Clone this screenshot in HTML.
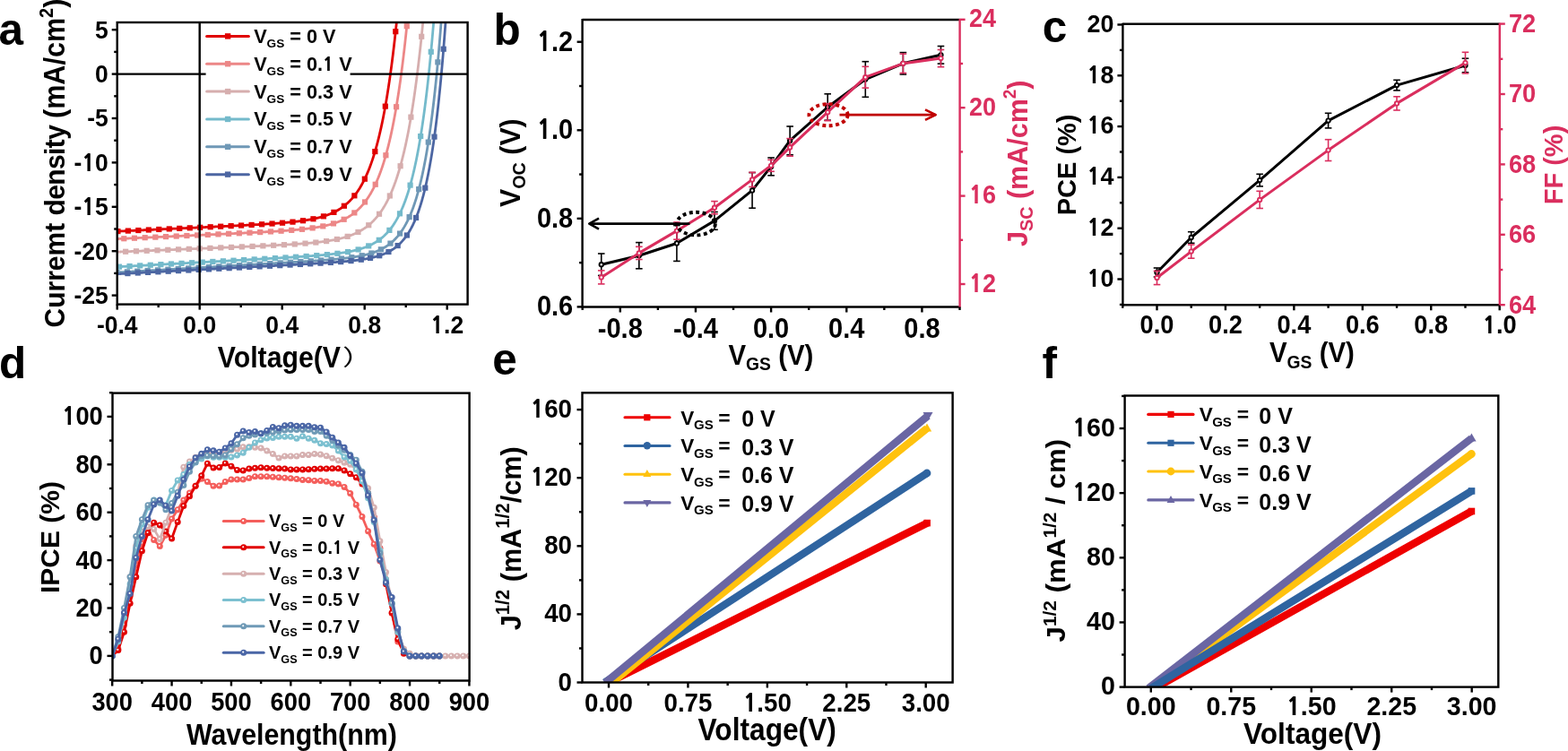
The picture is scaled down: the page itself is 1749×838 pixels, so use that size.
<!DOCTYPE html>
<html><head><meta charset="utf-8"><style>
html,body{margin:0;padding:0;background:#fff;}
svg{display:block;}
text{font-family:"Liberation Sans",Arial,sans-serif;font-weight:bold;white-space:pre;}
</style></head><body>
<svg width="1749" height="838" viewBox="0 0 1749 838">
<rect width="1749" height="838" fill="#fff"/>
<defs><clipPath id="ca"><rect x="130.7" y="25.0" width="390.9" height="314.6"/></clipPath></defs>
<rect x="229.6" y="28" width="161" height="182" fill="#fff"/>
<g clip-path="url(#ca)">
<polyline points="130.70,258.15 131.13,258.13 131.57,258.11 132.00,258.09 132.44,258.06 132.87,258.04 133.31,258.02 133.74,258.00 134.18,257.98 134.61,257.96 135.05,257.94 135.48,257.92 135.92,257.90 136.35,257.88 136.79,257.86 137.22,257.84 137.66,257.82 138.09,257.80 138.53,257.78 138.96,257.76 139.40,257.74 139.83,257.72 140.27,257.70 140.70,257.68 141.14,257.66 141.57,257.64 142.01,257.62 142.44,257.59 142.88,257.57 143.31,257.55 143.75,257.53 144.18,257.51 144.62,257.49 145.05,257.47 145.49,257.45 145.92,257.43 146.36,257.41 146.79,257.39 147.23,257.37 147.66,257.35 148.10,257.33 148.53,257.31 148.97,257.29 149.40,257.27 149.84,257.25 150.27,257.23 150.71,257.21 151.14,257.19 151.58,257.17 152.01,257.15 152.45,257.12 152.88,257.10 153.32,257.08 153.75,257.06 154.19,257.04 154.62,257.02 155.06,257.00 155.49,256.98 155.93,256.96 156.36,256.94 156.80,256.92 157.23,256.90 157.67,256.88 158.10,256.86 158.54,256.84 158.97,256.82 159.41,256.80 159.84,256.78 160.28,256.76 160.71,256.74 161.14,256.72 161.58,256.70 162.01,256.67 162.45,256.65 162.88,256.63 163.32,256.61 163.75,256.59 164.19,256.57 164.62,256.55 165.06,256.53 165.49,256.51 165.93,256.49 166.36,256.47 166.80,256.45 167.23,256.43 167.67,256.41 168.10,256.39 168.54,256.37 168.97,256.35 169.41,256.33 169.84,256.31 170.28,256.29 170.71,256.27 171.15,256.25 171.58,256.22 172.02,256.20 172.45,256.18 172.89,256.16 173.32,256.14 173.76,256.12 174.19,256.10 174.63,256.08 175.06,256.06 175.50,256.04 175.93,256.02 176.37,256.00 176.80,255.98 177.24,255.96 177.67,255.94 178.11,255.92 178.54,255.90 178.98,255.88 179.41,255.86 179.85,255.84 180.28,255.82 180.72,255.80 181.15,255.77 181.59,255.75 182.02,255.73 182.46,255.71 182.89,255.69 183.33,255.67 183.76,255.65 184.20,255.63 184.63,255.61 185.07,255.59 185.50,255.57 185.94,255.55 186.37,255.53 186.81,255.51 187.24,255.49 187.68,255.47 188.11,255.45 188.55,255.43 188.98,255.41 189.42,255.39 189.85,255.37 190.29,255.34 190.72,255.32 191.15,255.30 191.59,255.28 192.02,255.26 192.46,255.24 192.89,255.22 193.33,255.20 193.76,255.18 194.20,255.16 194.63,255.14 195.07,255.12 195.50,255.10 195.94,255.08 196.37,255.06 196.81,255.04 197.24,255.02 197.68,255.00 198.11,254.98 198.55,254.96 198.98,254.93 199.42,254.91 199.85,254.89 200.29,254.87 200.72,254.85 201.16,254.83 201.59,254.81 202.03,254.79 202.46,254.77 202.90,254.75 203.33,254.73 203.77,254.71 204.20,254.69 204.64,254.67 205.07,254.65 205.51,254.63 205.94,254.61 206.38,254.59 206.81,254.56 207.25,254.54 207.68,254.52 208.12,254.50 208.55,254.48 208.99,254.46 209.42,254.44 209.86,254.42 210.29,254.40 210.73,254.38 211.16,254.36 211.60,254.34 212.03,254.32 212.47,254.30 212.90,254.28 213.34,254.26 213.77,254.24 214.21,254.22 214.64,254.19 215.08,254.17 215.51,254.15 215.95,254.13 216.38,254.11 216.82,254.09 217.25,254.07 217.69,254.05 218.12,254.03 218.56,254.01 218.99,253.99 219.43,253.97 219.86,253.95 220.30,253.93 220.73,253.91 221.16,253.88 221.60,253.86 222.03,253.84 222.47,253.82 222.90,253.80 223.34,253.78 223.77,253.76 224.21,253.74 224.64,253.72 225.08,253.70 225.51,253.68 225.95,253.66 226.38,253.64 226.82,253.62 227.25,253.59 227.69,253.57 228.12,253.55 228.56,253.53 228.99,253.51 229.43,253.49 229.86,253.47 230.30,253.45 230.73,253.43 231.17,253.41 231.60,253.39 232.04,253.37 232.47,253.35 232.91,253.32 233.34,253.30 233.78,253.28 234.21,253.26 234.65,253.24 235.08,253.22 235.52,253.20 235.95,253.18 236.39,253.16 236.82,253.14 237.26,253.12 237.69,253.10 238.13,253.07 238.56,253.05 239.00,253.03 239.43,253.01 239.87,252.99 240.30,252.97 240.74,252.95 241.17,252.93 241.61,252.91 242.04,252.89 242.48,252.86 242.91,252.84 243.35,252.82 243.78,252.80 244.22,252.78 244.65,252.76 245.09,252.74 245.52,252.72 245.96,252.70 246.39,252.67 246.83,252.65 247.26,252.63 247.70,252.61 248.13,252.59 248.57,252.57 249.00,252.55 249.44,252.53 249.87,252.50 250.31,252.48 250.74,252.46 251.17,252.44 251.61,252.42 252.04,252.40 252.48,252.38 252.91,252.36 253.35,252.33 253.78,252.31 254.22,252.29 254.65,252.27 255.09,252.25 255.52,252.23 255.96,252.21 256.39,252.18 256.83,252.16 257.26,252.14 257.70,252.12 258.13,252.10 258.57,252.08 259.00,252.05 259.44,252.03 259.87,252.01 260.31,251.99 260.74,251.97 261.18,251.94 261.61,251.92 262.05,251.90 262.48,251.88 262.92,251.86 263.35,251.84 263.79,251.81 264.22,251.79 264.66,251.77 265.09,251.75 265.53,251.73 265.96,251.70 266.40,251.68 266.83,251.66 267.27,251.64 267.70,251.61 268.14,251.59 268.57,251.57 269.01,251.55 269.44,251.52 269.88,251.50 270.31,251.48 270.75,251.46 271.18,251.43 271.62,251.41 272.05,251.39 272.49,251.37 272.92,251.34 273.36,251.32 273.79,251.30 274.23,251.28 274.66,251.25 275.10,251.23 275.53,251.21 275.97,251.18 276.40,251.16 276.84,251.14 277.27,251.11 277.71,251.09 278.14,251.07 278.58,251.04 279.01,251.02 279.45,251.00 279.88,250.97 280.32,250.95 280.75,250.93 281.18,250.90 281.62,250.88 282.05,250.85 282.49,250.83 282.92,250.81 283.36,250.78 283.79,250.76 284.23,250.73 284.66,250.71 285.10,250.68 285.53,250.66 285.97,250.64 286.40,250.61 286.84,250.59 287.27,250.56 287.71,250.54 288.14,250.51 288.58,250.49 289.01,250.46 289.45,250.44 289.88,250.41 290.32,250.39 290.75,250.36 291.19,250.33 291.62,250.31 292.06,250.28 292.49,250.26 292.93,250.23 293.36,250.20 293.80,250.18 294.23,250.15 294.67,250.12 295.10,250.10 295.54,250.07 295.97,250.04 296.41,250.02 296.84,249.99 297.28,249.96 297.71,249.94 298.15,249.91 298.58,249.88 299.02,249.85 299.45,249.82 299.89,249.80 300.32,249.77 300.76,249.74 301.19,249.71 301.63,249.68 302.06,249.65 302.50,249.62 302.93,249.60 303.37,249.57 303.80,249.54 304.24,249.51 304.67,249.48 305.11,249.45 305.54,249.42 305.98,249.39 306.41,249.36 306.85,249.32 307.28,249.29 307.72,249.26 308.15,249.23 308.59,249.20 309.02,249.17 309.46,249.14 309.89,249.10 310.33,249.07 310.76,249.04 311.19,249.00 311.63,248.97 312.06,248.94 312.50,248.90 312.93,248.87 313.37,248.84 313.80,248.80 314.24,248.77 314.67,248.73 315.11,248.70 315.54,248.66 315.98,248.62 316.41,248.59 316.85,248.55 317.28,248.51 317.72,248.48 318.15,248.44 318.59,248.40 319.02,248.36 319.46,248.32 319.89,248.28 320.33,248.25 320.76,248.21 321.20,248.17 321.63,248.13 322.07,248.08 322.50,248.04 322.94,248.00 323.37,247.96 323.81,247.92 324.24,247.87 324.68,247.83 325.11,247.79 325.55,247.74 325.98,247.70 326.42,247.65 326.85,247.61 327.29,247.56 327.72,247.51 328.16,247.47 328.59,247.42 329.03,247.37 329.46,247.32 329.90,247.27 330.33,247.22 330.77,247.17 331.20,247.12 331.64,247.07 332.07,247.02 332.51,246.96 332.94,246.91 333.38,246.86 333.81,246.80 334.25,246.75 334.68,246.69 335.12,246.63 335.55,246.58 335.99,246.52 336.42,246.46 336.86,246.40 337.29,246.34 337.73,246.28 338.16,246.22 338.60,246.15 339.03,246.09 339.47,246.02 339.90,245.96 340.34,245.89 340.77,245.83 341.21,245.76 341.64,245.69 342.07,245.62 342.51,245.55 342.94,245.48 343.38,245.40 343.81,245.33 344.25,245.25 344.68,245.18 345.12,245.10 345.55,245.02 345.99,244.94 346.42,244.86 346.86,244.78 347.29,244.70 347.73,244.62 348.16,244.53 348.60,244.44 349.03,244.36 349.47,244.27 349.90,244.18 350.34,244.09 350.77,243.99 351.21,243.90 351.64,243.80 352.08,243.70 352.51,243.61 352.95,243.50 353.38,243.40 353.82,243.30 354.25,243.19 354.69,243.09 355.12,242.98 355.56,242.87 355.99,242.76 356.43,242.64 356.86,242.53 357.30,242.41 357.73,242.29 358.17,242.17 358.60,242.05 359.04,241.92 359.47,241.79 359.91,241.66 360.34,241.53 360.78,241.40 361.21,241.26 361.65,241.13 362.08,240.99 362.52,240.84 362.95,240.70 363.39,240.55 363.82,240.40 364.26,240.25 364.69,240.09 365.13,239.94 365.56,239.78 366.00,239.61 366.43,239.45 366.87,239.28 367.30,239.11 367.74,238.93 368.17,238.76 368.61,238.58 369.04,238.39 369.48,238.21 369.91,238.02 370.35,237.82 370.78,237.63 371.22,237.43 371.65,237.22 372.08,237.02 372.52,236.81 372.95,236.59 373.39,236.38 373.82,236.15 374.26,235.93 374.69,235.70 375.13,235.46 375.56,235.23 376.00,234.98 376.43,234.74 376.87,234.49 377.30,234.23 377.74,233.97 378.17,233.71 378.61,233.44 379.04,233.17 379.48,232.89 379.91,232.60 380.35,232.31 380.78,232.02 381.22,231.72 381.65,231.41 382.09,231.10 382.52,230.79 382.96,230.47 383.39,230.14 383.83,229.80 384.26,229.46 384.70,229.12 385.13,228.77 385.57,228.41 386.00,228.04 386.44,227.67 386.87,227.29 387.31,226.91 387.74,226.51 388.18,226.11 388.61,225.71 389.05,225.29 389.48,224.87 389.92,224.44 390.35,224.00 390.79,223.55 391.22,223.10 391.66,222.64 392.09,222.16 392.53,221.68 392.96,221.19 393.40,220.69 393.83,220.19 394.27,219.67 394.70,219.14 395.14,218.61 395.57,218.06 396.01,217.50 396.44,216.93 396.88,216.36 397.31,215.77 397.75,215.17 398.18,214.56 398.62,213.93 399.05,213.30 399.49,212.65 399.92,212.00 400.36,211.32 400.79,210.64 401.23,209.95 401.66,209.24 402.09,208.51 402.53,207.78 402.96,207.03 403.40,206.26 403.83,205.48 404.27,204.69 404.70,203.88 405.14,203.06 405.57,202.22 406.01,201.36 406.44,200.49 406.88,199.60 407.31,198.70 407.75,197.78 408.18,196.84 408.62,195.88 409.05,194.90 409.49,193.91 409.92,192.90 410.36,191.86 410.79,190.81 411.23,189.74 411.66,188.65 412.10,187.53 412.53,186.40 412.97,185.24 413.40,184.07 413.84,182.86 414.27,181.64 414.71,180.39 415.14,179.12 415.58,177.83 416.01,176.51 416.45,175.16 416.88,173.79 417.32,172.40 417.75,170.97 418.19,169.52 418.62,168.04 419.06,166.54 419.49,165.00 419.93,163.44 420.36,161.84 420.80,160.22 421.23,158.56 421.67,156.87 422.10,155.15 422.54,153.40 422.97,151.61 423.41,149.79 423.84,147.93 424.28,146.04 424.71,144.11 425.15,142.14 425.58,140.14 426.02,138.10 426.45,136.02 426.89,133.90 427.32,131.73 427.76,129.53 428.19,127.28 428.63,124.99 429.06,122.66 429.50,120.28 429.93,117.86 430.37,115.39 430.80,112.87 431.24,110.30 431.67,107.69 432.10,105.02 432.54,102.30 432.97,99.53 433.41,96.71 433.84,93.83 434.28,90.90 434.71,87.91 435.15,84.86 435.58,81.76 436.02,78.59 436.45,75.36 436.89,72.07 437.32,68.72 437.76,65.30 438.19,61.82 438.63,58.27 439.06,54.65 439.50,50.96 439.93,47.20 440.37,43.37 440.80,39.46 441.24,35.48 441.67,31.42 442.11,27.28 442.54,23.07 442.98,18.77 443.41,14.38 443.85,9.92 444.28,5.36 444.72,0.72 445.15,-4.01" fill="none" stroke="#E00000" stroke-width="2.8" stroke-linejoin="round" />
<rect x="128.29" y="255.01" width="6.2" height="6.2" fill="#E00000"/>
<rect x="139.77" y="254.47" width="6.2" height="6.2" fill="#E00000"/>
<rect x="151.24" y="253.94" width="6.2" height="6.2" fill="#E00000"/>
<rect x="162.72" y="253.40" width="6.2" height="6.2" fill="#E00000"/>
<rect x="174.20" y="252.86" width="6.2" height="6.2" fill="#E00000"/>
<rect x="185.67" y="252.32" width="6.2" height="6.2" fill="#E00000"/>
<rect x="197.15" y="251.77" width="6.2" height="6.2" fill="#E00000"/>
<rect x="208.63" y="251.23" width="6.2" height="6.2" fill="#E00000"/>
<rect x="220.11" y="250.69" width="6.2" height="6.2" fill="#E00000"/>
<rect x="231.58" y="250.14" width="6.2" height="6.2" fill="#E00000"/>
<rect x="243.06" y="249.59" width="6.2" height="6.2" fill="#E00000"/>
<rect x="254.54" y="249.02" width="6.2" height="6.2" fill="#E00000"/>
<rect x="266.01" y="248.44" width="6.2" height="6.2" fill="#E00000"/>
<rect x="277.49" y="247.83" width="6.2" height="6.2" fill="#E00000"/>
<rect x="288.97" y="247.18" width="6.2" height="6.2" fill="#E00000"/>
<rect x="300.44" y="246.45" width="6.2" height="6.2" fill="#E00000"/>
<rect x="311.92" y="245.60" width="6.2" height="6.2" fill="#E00000"/>
<rect x="323.40" y="244.54" width="6.2" height="6.2" fill="#E00000"/>
<rect x="334.88" y="243.14" width="6.2" height="6.2" fill="#E00000"/>
<rect x="346.35" y="241.17" width="6.2" height="6.2" fill="#E00000"/>
<rect x="357.83" y="238.25" width="6.2" height="6.2" fill="#E00000"/>
<rect x="369.31" y="233.76" width="6.2" height="6.2" fill="#E00000"/>
<rect x="380.78" y="226.66" width="6.2" height="6.2" fill="#E00000"/>
<rect x="392.26" y="215.22" width="6.2" height="6.2" fill="#E00000"/>
<rect x="403.74" y="196.59" width="6.2" height="6.2" fill="#E00000"/>
<rect x="415.22" y="165.99" width="6.2" height="6.2" fill="#E00000"/>
<rect x="426.69" y="115.54" width="6.2" height="6.2" fill="#E00000"/>
<rect x="438.17" y="32.10" width="6.2" height="6.2" fill="#E00000"/>
<polyline points="130.70,266.58 131.13,266.56 131.57,266.54 132.00,266.52 132.44,266.50 132.87,266.48 133.31,266.46 133.74,266.44 134.18,266.42 134.61,266.40 135.05,266.38 135.48,266.36 135.92,266.34 136.35,266.32 136.79,266.30 137.22,266.28 137.66,266.26 138.09,266.24 138.53,266.22 138.96,266.20 139.40,266.18 139.83,266.16 140.27,266.14 140.70,266.12 141.14,266.10 141.57,266.08 142.01,266.06 142.44,266.04 142.88,266.02 143.31,266.00 143.75,265.98 144.18,265.96 144.62,265.94 145.05,265.92 145.49,265.90 145.92,265.88 146.36,265.86 146.79,265.84 147.23,265.82 147.66,265.80 148.10,265.78 148.53,265.76 148.97,265.74 149.40,265.72 149.84,265.70 150.27,265.68 150.71,265.66 151.14,265.64 151.58,265.62 152.01,265.60 152.45,265.58 152.88,265.56 153.32,265.54 153.75,265.52 154.19,265.50 154.62,265.48 155.06,265.46 155.49,265.44 155.93,265.42 156.36,265.40 156.80,265.38 157.23,265.36 157.67,265.34 158.10,265.32 158.54,265.30 158.97,265.28 159.41,265.26 159.84,265.24 160.28,265.22 160.71,265.20 161.14,265.18 161.58,265.16 162.01,265.14 162.45,265.12 162.88,265.10 163.32,265.08 163.75,265.06 164.19,265.04 164.62,265.02 165.06,265.00 165.49,264.98 165.93,264.96 166.36,264.94 166.80,264.92 167.23,264.90 167.67,264.88 168.10,264.86 168.54,264.84 168.97,264.82 169.41,264.80 169.84,264.78 170.28,264.76 170.71,264.74 171.15,264.72 171.58,264.70 172.02,264.68 172.45,264.66 172.89,264.64 173.32,264.62 173.76,264.60 174.19,264.58 174.63,264.56 175.06,264.54 175.50,264.52 175.93,264.50 176.37,264.48 176.80,264.46 177.24,264.44 177.67,264.42 178.11,264.40 178.54,264.38 178.98,264.36 179.41,264.34 179.85,264.32 180.28,264.30 180.72,264.28 181.15,264.26 181.59,264.24 182.02,264.22 182.46,264.20 182.89,264.18 183.33,264.16 183.76,264.14 184.20,264.12 184.63,264.10 185.07,264.08 185.50,264.06 185.94,264.04 186.37,264.02 186.81,264.00 187.24,263.98 187.68,263.96 188.11,263.94 188.55,263.92 188.98,263.90 189.42,263.88 189.85,263.86 190.29,263.84 190.72,263.82 191.15,263.80 191.59,263.78 192.02,263.76 192.46,263.74 192.89,263.72 193.33,263.70 193.76,263.68 194.20,263.66 194.63,263.64 195.07,263.62 195.50,263.60 195.94,263.58 196.37,263.56 196.81,263.54 197.24,263.52 197.68,263.50 198.11,263.48 198.55,263.46 198.98,263.44 199.42,263.42 199.85,263.40 200.29,263.38 200.72,263.36 201.16,263.34 201.59,263.32 202.03,263.30 202.46,263.28 202.90,263.26 203.33,263.24 203.77,263.22 204.20,263.20 204.64,263.18 205.07,263.16 205.51,263.14 205.94,263.12 206.38,263.10 206.81,263.08 207.25,263.06 207.68,263.04 208.12,263.02 208.55,263.00 208.99,262.98 209.42,262.96 209.86,262.94 210.29,262.92 210.73,262.90 211.16,262.88 211.60,262.86 212.03,262.84 212.47,262.82 212.90,262.80 213.34,262.78 213.77,262.76 214.21,262.74 214.64,262.72 215.08,262.70 215.51,262.68 215.95,262.66 216.38,262.64 216.82,262.62 217.25,262.60 217.69,262.58 218.12,262.56 218.56,262.54 218.99,262.52 219.43,262.50 219.86,262.48 220.30,262.46 220.73,262.44 221.16,262.42 221.60,262.40 222.03,262.38 222.47,262.36 222.90,262.34 223.34,262.32 223.77,262.30 224.21,262.28 224.64,262.26 225.08,262.24 225.51,262.22 225.95,262.20 226.38,262.18 226.82,262.16 227.25,262.14 227.69,262.12 228.12,262.10 228.56,262.08 228.99,262.06 229.43,262.04 229.86,262.02 230.30,262.00 230.73,261.98 231.17,261.96 231.60,261.94 232.04,261.91 232.47,261.89 232.91,261.87 233.34,261.85 233.78,261.83 234.21,261.81 234.65,261.79 235.08,261.77 235.52,261.75 235.95,261.73 236.39,261.71 236.82,261.69 237.26,261.67 237.69,261.65 238.13,261.63 238.56,261.61 239.00,261.59 239.43,261.57 239.87,261.55 240.30,261.53 240.74,261.51 241.17,261.49 241.61,261.47 242.04,261.45 242.48,261.43 242.91,261.41 243.35,261.39 243.78,261.37 244.22,261.35 244.65,261.33 245.09,261.31 245.52,261.29 245.96,261.26 246.39,261.24 246.83,261.22 247.26,261.20 247.70,261.18 248.13,261.16 248.57,261.14 249.00,261.12 249.44,261.10 249.87,261.08 250.31,261.06 250.74,261.04 251.17,261.02 251.61,261.00 252.04,260.98 252.48,260.96 252.91,260.94 253.35,260.92 253.78,260.90 254.22,260.88 254.65,260.85 255.09,260.83 255.52,260.81 255.96,260.79 256.39,260.77 256.83,260.75 257.26,260.73 257.70,260.71 258.13,260.69 258.57,260.67 259.00,260.65 259.44,260.63 259.87,260.61 260.31,260.58 260.74,260.56 261.18,260.54 261.61,260.52 262.05,260.50 262.48,260.48 262.92,260.46 263.35,260.44 263.79,260.42 264.22,260.40 264.66,260.38 265.09,260.35 265.53,260.33 265.96,260.31 266.40,260.29 266.83,260.27 267.27,260.25 267.70,260.23 268.14,260.21 268.57,260.19 269.01,260.16 269.44,260.14 269.88,260.12 270.31,260.10 270.75,260.08 271.18,260.06 271.62,260.04 272.05,260.02 272.49,259.99 272.92,259.97 273.36,259.95 273.79,259.93 274.23,259.91 274.66,259.89 275.10,259.86 275.53,259.84 275.97,259.82 276.40,259.80 276.84,259.78 277.27,259.76 277.71,259.73 278.14,259.71 278.58,259.69 279.01,259.67 279.45,259.65 279.88,259.63 280.32,259.60 280.75,259.58 281.18,259.56 281.62,259.54 282.05,259.51 282.49,259.49 282.92,259.47 283.36,259.45 283.79,259.43 284.23,259.40 284.66,259.38 285.10,259.36 285.53,259.34 285.97,259.31 286.40,259.29 286.84,259.27 287.27,259.25 287.71,259.22 288.14,259.20 288.58,259.18 289.01,259.15 289.45,259.13 289.88,259.11 290.32,259.08 290.75,259.06 291.19,259.04 291.62,259.01 292.06,258.99 292.49,258.97 292.93,258.94 293.36,258.92 293.80,258.90 294.23,258.87 294.67,258.85 295.10,258.83 295.54,258.80 295.97,258.78 296.41,258.75 296.84,258.73 297.28,258.70 297.71,258.68 298.15,258.66 298.58,258.63 299.02,258.61 299.45,258.58 299.89,258.56 300.32,258.53 300.76,258.51 301.19,258.48 301.63,258.46 302.06,258.43 302.50,258.41 302.93,258.38 303.37,258.36 303.80,258.33 304.24,258.30 304.67,258.28 305.11,258.25 305.54,258.23 305.98,258.20 306.41,258.17 306.85,258.15 307.28,258.12 307.72,258.09 308.15,258.07 308.59,258.04 309.02,258.01 309.46,257.98 309.89,257.96 310.33,257.93 310.76,257.90 311.19,257.87 311.63,257.85 312.06,257.82 312.50,257.79 312.93,257.76 313.37,257.73 313.80,257.70 314.24,257.67 314.67,257.64 315.11,257.61 315.54,257.59 315.98,257.56 316.41,257.53 316.85,257.50 317.28,257.46 317.72,257.43 318.15,257.40 318.59,257.37 319.02,257.34 319.46,257.31 319.89,257.28 320.33,257.25 320.76,257.21 321.20,257.18 321.63,257.15 322.07,257.12 322.50,257.08 322.94,257.05 323.37,257.02 323.81,256.98 324.24,256.95 324.68,256.91 325.11,256.88 325.55,256.84 325.98,256.81 326.42,256.77 326.85,256.74 327.29,256.70 327.72,256.67 328.16,256.63 328.59,256.59 329.03,256.55 329.46,256.52 329.90,256.48 330.33,256.44 330.77,256.40 331.20,256.36 331.64,256.32 332.07,256.28 332.51,256.24 332.94,256.20 333.38,256.16 333.81,256.12 334.25,256.08 334.68,256.04 335.12,255.99 335.55,255.95 335.99,255.91 336.42,255.86 336.86,255.82 337.29,255.77 337.73,255.73 338.16,255.68 338.60,255.63 339.03,255.59 339.47,255.54 339.90,255.49 340.34,255.44 340.77,255.39 341.21,255.34 341.64,255.29 342.07,255.24 342.51,255.19 342.94,255.14 343.38,255.09 343.81,255.03 344.25,254.98 344.68,254.92 345.12,254.87 345.55,254.81 345.99,254.76 346.42,254.70 346.86,254.64 347.29,254.58 347.73,254.52 348.16,254.46 348.60,254.40 349.03,254.34 349.47,254.27 349.90,254.21 350.34,254.15 350.77,254.08 351.21,254.01 351.64,253.95 352.08,253.88 352.51,253.81 352.95,253.74 353.38,253.67 353.82,253.60 354.25,253.53 354.69,253.45 355.12,253.38 355.56,253.30 355.99,253.22 356.43,253.15 356.86,253.07 357.30,252.99 357.73,252.90 358.17,252.82 358.60,252.74 359.04,252.65 359.47,252.57 359.91,252.48 360.34,252.39 360.78,252.30 361.21,252.21 361.65,252.11 362.08,252.02 362.52,251.92 362.95,251.82 363.39,251.73 363.82,251.62 364.26,251.52 364.69,251.42 365.13,251.31 365.56,251.21 366.00,251.10 366.43,250.99 366.87,250.88 367.30,250.76 367.74,250.65 368.17,250.53 368.61,250.41 369.04,250.29 369.48,250.16 369.91,250.04 370.35,249.91 370.78,249.78 371.22,249.65 371.65,249.52 372.08,249.38 372.52,249.24 372.95,249.10 373.39,248.96 373.82,248.81 374.26,248.67 374.69,248.52 375.13,248.36 375.56,248.21 376.00,248.05 376.43,247.89 376.87,247.73 377.30,247.56 377.74,247.39 378.17,247.22 378.61,247.05 379.04,246.87 379.48,246.69 379.91,246.51 380.35,246.32 380.78,246.13 381.22,245.94 381.65,245.74 382.09,245.54 382.52,245.34 382.96,245.13 383.39,244.92 383.83,244.70 384.26,244.49 384.70,244.26 385.13,244.04 385.57,243.81 386.00,243.57 386.44,243.34 386.87,243.09 387.31,242.85 387.74,242.60 388.18,242.34 388.61,242.08 389.05,241.82 389.48,241.55 389.92,241.27 390.35,240.99 390.79,240.71 391.22,240.42 391.66,240.13 392.09,239.83 392.53,239.52 392.96,239.21 393.40,238.89 393.83,238.57 394.27,238.25 394.70,237.91 395.14,237.57 395.57,237.23 396.01,236.87 396.44,236.52 396.88,236.15 397.31,235.78 397.75,235.40 398.18,235.01 398.62,234.62 399.05,234.22 399.49,233.81 399.92,233.40 400.36,232.98 400.79,232.55 401.23,232.11 401.66,231.66 402.09,231.21 402.53,230.75 402.96,230.28 403.40,229.80 403.83,229.31 404.27,228.81 404.70,228.30 405.14,227.79 405.57,227.26 406.01,226.72 406.44,226.18 406.88,225.62 407.31,225.05 407.75,224.48 408.18,223.89 408.62,223.29 409.05,222.68 409.49,222.06 409.92,221.43 410.36,220.78 410.79,220.13 411.23,219.46 411.66,218.78 412.10,218.08 412.53,217.37 412.97,216.65 413.40,215.92 413.84,215.17 414.27,214.41 414.71,213.63 415.14,212.84 415.58,212.03 416.01,211.21 416.45,210.38 416.88,209.52 417.32,208.66 417.75,207.77 418.19,206.87 418.62,205.95 419.06,205.01 419.49,204.06 419.93,203.09 420.36,202.10 420.80,201.09 421.23,200.06 421.67,199.01 422.10,197.95 422.54,196.86 422.97,195.75 423.41,194.62 423.84,193.47 424.28,192.30 424.71,191.10 425.15,189.88 425.58,188.64 426.02,187.38 426.45,186.09 426.89,184.78 427.32,183.44 427.76,182.08 428.19,180.69 428.63,179.27 429.06,177.83 429.50,176.36 429.93,174.86 430.37,173.33 430.80,171.78 431.24,170.19 431.67,168.58 432.10,166.93 432.54,165.25 432.97,163.54 433.41,161.80 433.84,160.02 434.28,158.21 434.71,156.37 435.15,154.49 435.58,152.57 436.02,150.62 436.45,148.63 436.89,146.60 437.32,144.54 437.76,142.43 438.19,140.28 438.63,138.09 439.06,135.87 439.50,133.59 439.93,131.28 440.37,128.92 440.80,126.51 441.24,124.06 441.67,121.56 442.11,119.02 442.54,116.42 442.98,113.78 443.41,111.08 443.85,108.33 444.28,105.53 444.72,102.68 445.15,99.77 445.59,96.81 446.02,93.78 446.46,90.71 446.89,87.57 447.33,84.37 447.76,81.11 448.20,77.79 448.63,74.40 449.07,70.95 449.50,67.43 449.94,63.85 450.37,60.19 450.81,56.47 451.24,52.67 451.68,48.80 452.11,44.86 452.55,40.84 452.98,36.74 453.42,32.57 453.85,28.31 454.29,23.97 454.72,19.55 455.16,15.05 455.59,10.45 456.03,5.77 456.46,1.00 456.90,-3.86" fill="none" stroke="#EC8787" stroke-width="2.8" stroke-linejoin="round" />
<rect x="135.19" y="263.13" width="6.2" height="6.2" fill="#EC8787"/>
<rect x="146.87" y="262.60" width="6.2" height="6.2" fill="#EC8787"/>
<rect x="158.56" y="262.06" width="6.2" height="6.2" fill="#EC8787"/>
<rect x="170.24" y="261.52" width="6.2" height="6.2" fill="#EC8787"/>
<rect x="181.93" y="260.98" width="6.2" height="6.2" fill="#EC8787"/>
<rect x="193.61" y="260.45" width="6.2" height="6.2" fill="#EC8787"/>
<rect x="205.29" y="259.91" width="6.2" height="6.2" fill="#EC8787"/>
<rect x="216.98" y="259.37" width="6.2" height="6.2" fill="#EC8787"/>
<rect x="228.66" y="258.83" width="6.2" height="6.2" fill="#EC8787"/>
<rect x="240.35" y="258.28" width="6.2" height="6.2" fill="#EC8787"/>
<rect x="252.03" y="257.73" width="6.2" height="6.2" fill="#EC8787"/>
<rect x="263.71" y="257.17" width="6.2" height="6.2" fill="#EC8787"/>
<rect x="275.40" y="256.59" width="6.2" height="6.2" fill="#EC8787"/>
<rect x="287.08" y="255.99" width="6.2" height="6.2" fill="#EC8787"/>
<rect x="298.77" y="255.34" width="6.2" height="6.2" fill="#EC8787"/>
<rect x="310.45" y="254.62" width="6.2" height="6.2" fill="#EC8787"/>
<rect x="322.13" y="253.77" width="6.2" height="6.2" fill="#EC8787"/>
<rect x="333.82" y="252.71" width="6.2" height="6.2" fill="#EC8787"/>
<rect x="345.50" y="251.30" width="6.2" height="6.2" fill="#EC8787"/>
<rect x="357.19" y="249.30" width="6.2" height="6.2" fill="#EC8787"/>
<rect x="368.87" y="246.32" width="6.2" height="6.2" fill="#EC8787"/>
<rect x="380.55" y="241.69" width="6.2" height="6.2" fill="#EC8787"/>
<rect x="392.24" y="234.31" width="6.2" height="6.2" fill="#EC8787"/>
<rect x="403.92" y="222.34" width="6.2" height="6.2" fill="#EC8787"/>
<rect x="415.61" y="202.67" width="6.2" height="6.2" fill="#EC8787"/>
<rect x="427.29" y="170.15" width="6.2" height="6.2" fill="#EC8787"/>
<rect x="438.97" y="116.12" width="6.2" height="6.2" fill="#EC8787"/>
<rect x="450.66" y="26.13" width="6.2" height="6.2" fill="#EC8787"/>
<polyline points="130.70,281.14 131.13,281.13 131.57,281.11 132.00,281.09 132.44,281.07 132.87,281.06 133.31,281.04 133.74,281.02 134.18,281.00 134.61,280.98 135.05,280.97 135.48,280.95 135.92,280.93 136.35,280.91 136.79,280.89 137.22,280.88 137.66,280.86 138.09,280.84 138.53,280.82 138.96,280.80 139.40,280.79 139.83,280.77 140.27,280.75 140.70,280.73 141.14,280.72 141.57,280.70 142.01,280.68 142.44,280.66 142.88,280.64 143.31,280.63 143.75,280.61 144.18,280.59 144.62,280.57 145.05,280.55 145.49,280.54 145.92,280.52 146.36,280.50 146.79,280.48 147.23,280.47 147.66,280.45 148.10,280.43 148.53,280.41 148.97,280.39 149.40,280.38 149.84,280.36 150.27,280.34 150.71,280.32 151.14,280.30 151.58,280.29 152.01,280.27 152.45,280.25 152.88,280.23 153.32,280.21 153.75,280.20 154.19,280.18 154.62,280.16 155.06,280.14 155.49,280.13 155.93,280.11 156.36,280.09 156.80,280.07 157.23,280.05 157.67,280.04 158.10,280.02 158.54,280.00 158.97,279.98 159.41,279.96 159.84,279.95 160.28,279.93 160.71,279.91 161.14,279.89 161.58,279.88 162.01,279.86 162.45,279.84 162.88,279.82 163.32,279.80 163.75,279.79 164.19,279.77 164.62,279.75 165.06,279.73 165.49,279.71 165.93,279.70 166.36,279.68 166.80,279.66 167.23,279.64 167.67,279.62 168.10,279.61 168.54,279.59 168.97,279.57 169.41,279.55 169.84,279.54 170.28,279.52 170.71,279.50 171.15,279.48 171.58,279.46 172.02,279.45 172.45,279.43 172.89,279.41 173.32,279.39 173.76,279.37 174.19,279.36 174.63,279.34 175.06,279.32 175.50,279.30 175.93,279.28 176.37,279.27 176.80,279.25 177.24,279.23 177.67,279.21 178.11,279.20 178.54,279.18 178.98,279.16 179.41,279.14 179.85,279.12 180.28,279.11 180.72,279.09 181.15,279.07 181.59,279.05 182.02,279.03 182.46,279.02 182.89,279.00 183.33,278.98 183.76,278.96 184.20,278.95 184.63,278.93 185.07,278.91 185.50,278.89 185.94,278.87 186.37,278.86 186.81,278.84 187.24,278.82 187.68,278.80 188.11,278.78 188.55,278.77 188.98,278.75 189.42,278.73 189.85,278.71 190.29,278.69 190.72,278.68 191.15,278.66 191.59,278.64 192.02,278.62 192.46,278.60 192.89,278.59 193.33,278.57 193.76,278.55 194.20,278.53 194.63,278.52 195.07,278.50 195.50,278.48 195.94,278.46 196.37,278.44 196.81,278.43 197.24,278.41 197.68,278.39 198.11,278.37 198.55,278.35 198.98,278.34 199.42,278.32 199.85,278.30 200.29,278.28 200.72,278.26 201.16,278.25 201.59,278.23 202.03,278.21 202.46,278.19 202.90,278.18 203.33,278.16 203.77,278.14 204.20,278.12 204.64,278.10 205.07,278.09 205.51,278.07 205.94,278.05 206.38,278.03 206.81,278.01 207.25,278.00 207.68,277.98 208.12,277.96 208.55,277.94 208.99,277.92 209.42,277.91 209.86,277.89 210.29,277.87 210.73,277.85 211.16,277.83 211.60,277.82 212.03,277.80 212.47,277.78 212.90,277.76 213.34,277.74 213.77,277.73 214.21,277.71 214.64,277.69 215.08,277.67 215.51,277.65 215.95,277.64 216.38,277.62 216.82,277.60 217.25,277.58 217.69,277.57 218.12,277.55 218.56,277.53 218.99,277.51 219.43,277.49 219.86,277.48 220.30,277.46 220.73,277.44 221.16,277.42 221.60,277.40 222.03,277.39 222.47,277.37 222.90,277.35 223.34,277.33 223.77,277.31 224.21,277.30 224.64,277.28 225.08,277.26 225.51,277.24 225.95,277.22 226.38,277.21 226.82,277.19 227.25,277.17 227.69,277.15 228.12,277.13 228.56,277.12 228.99,277.10 229.43,277.08 229.86,277.06 230.30,277.04 230.73,277.03 231.17,277.01 231.60,276.99 232.04,276.97 232.47,276.95 232.91,276.94 233.34,276.92 233.78,276.90 234.21,276.88 234.65,276.86 235.08,276.84 235.52,276.83 235.95,276.81 236.39,276.79 236.82,276.77 237.26,276.75 237.69,276.74 238.13,276.72 238.56,276.70 239.00,276.68 239.43,276.66 239.87,276.65 240.30,276.63 240.74,276.61 241.17,276.59 241.61,276.57 242.04,276.56 242.48,276.54 242.91,276.52 243.35,276.50 243.78,276.48 244.22,276.46 244.65,276.45 245.09,276.43 245.52,276.41 245.96,276.39 246.39,276.37 246.83,276.36 247.26,276.34 247.70,276.32 248.13,276.30 248.57,276.28 249.00,276.26 249.44,276.25 249.87,276.23 250.31,276.21 250.74,276.19 251.17,276.17 251.61,276.16 252.04,276.14 252.48,276.12 252.91,276.10 253.35,276.08 253.78,276.06 254.22,276.05 254.65,276.03 255.09,276.01 255.52,275.99 255.96,275.97 256.39,275.95 256.83,275.94 257.26,275.92 257.70,275.90 258.13,275.88 258.57,275.86 259.00,275.84 259.44,275.83 259.87,275.81 260.31,275.79 260.74,275.77 261.18,275.75 261.61,275.73 262.05,275.71 262.48,275.70 262.92,275.68 263.35,275.66 263.79,275.64 264.22,275.62 264.66,275.60 265.09,275.59 265.53,275.57 265.96,275.55 266.40,275.53 266.83,275.51 267.27,275.49 267.70,275.47 268.14,275.46 268.57,275.44 269.01,275.42 269.44,275.40 269.88,275.38 270.31,275.36 270.75,275.34 271.18,275.32 271.62,275.31 272.05,275.29 272.49,275.27 272.92,275.25 273.36,275.23 273.79,275.21 274.23,275.19 274.66,275.17 275.10,275.15 275.53,275.14 275.97,275.12 276.40,275.10 276.84,275.08 277.27,275.06 277.71,275.04 278.14,275.02 278.58,275.00 279.01,274.98 279.45,274.96 279.88,274.95 280.32,274.93 280.75,274.91 281.18,274.89 281.62,274.87 282.05,274.85 282.49,274.83 282.92,274.81 283.36,274.79 283.79,274.77 284.23,274.75 284.66,274.73 285.10,274.71 285.53,274.69 285.97,274.68 286.40,274.66 286.84,274.64 287.27,274.62 287.71,274.60 288.14,274.58 288.58,274.56 289.01,274.54 289.45,274.52 289.88,274.50 290.32,274.48 290.75,274.46 291.19,274.44 291.62,274.42 292.06,274.40 292.49,274.38 292.93,274.36 293.36,274.34 293.80,274.32 294.23,274.30 294.67,274.28 295.10,274.26 295.54,274.24 295.97,274.22 296.41,274.20 296.84,274.18 297.28,274.16 297.71,274.14 298.15,274.11 298.58,274.09 299.02,274.07 299.45,274.05 299.89,274.03 300.32,274.01 300.76,273.99 301.19,273.97 301.63,273.95 302.06,273.93 302.50,273.91 302.93,273.88 303.37,273.86 303.80,273.84 304.24,273.82 304.67,273.80 305.11,273.78 305.54,273.76 305.98,273.73 306.41,273.71 306.85,273.69 307.28,273.67 307.72,273.65 308.15,273.62 308.59,273.60 309.02,273.58 309.46,273.56 309.89,273.54 310.33,273.51 310.76,273.49 311.19,273.47 311.63,273.45 312.06,273.42 312.50,273.40 312.93,273.38 313.37,273.35 313.80,273.33 314.24,273.31 314.67,273.28 315.11,273.26 315.54,273.24 315.98,273.21 316.41,273.19 316.85,273.17 317.28,273.14 317.72,273.12 318.15,273.09 318.59,273.07 319.02,273.04 319.46,273.02 319.89,272.99 320.33,272.97 320.76,272.94 321.20,272.92 321.63,272.89 322.07,272.87 322.50,272.84 322.94,272.82 323.37,272.79 323.81,272.77 324.24,272.74 324.68,272.71 325.11,272.69 325.55,272.66 325.98,272.63 326.42,272.61 326.85,272.58 327.29,272.55 327.72,272.52 328.16,272.50 328.59,272.47 329.03,272.44 329.46,272.41 329.90,272.38 330.33,272.36 330.77,272.33 331.20,272.30 331.64,272.27 332.07,272.24 332.51,272.21 332.94,272.18 333.38,272.15 333.81,272.12 334.25,272.09 334.68,272.06 335.12,272.03 335.55,272.00 335.99,271.96 336.42,271.93 336.86,271.90 337.29,271.87 337.73,271.83 338.16,271.80 338.60,271.77 339.03,271.74 339.47,271.70 339.90,271.67 340.34,271.63 340.77,271.60 341.21,271.56 341.64,271.53 342.07,271.49 342.51,271.46 342.94,271.42 343.38,271.38 343.81,271.35 344.25,271.31 344.68,271.27 345.12,271.23 345.55,271.20 345.99,271.16 346.42,271.12 346.86,271.08 347.29,271.04 347.73,271.00 348.16,270.96 348.60,270.92 349.03,270.87 349.47,270.83 349.90,270.79 350.34,270.75 350.77,270.70 351.21,270.66 351.64,270.61 352.08,270.57 352.51,270.52 352.95,270.48 353.38,270.43 353.82,270.38 354.25,270.34 354.69,270.29 355.12,270.24 355.56,270.19 355.99,270.14 356.43,270.09 356.86,270.04 357.30,269.99 357.73,269.93 358.17,269.88 358.60,269.83 359.04,269.77 359.47,269.72 359.91,269.66 360.34,269.61 360.78,269.55 361.21,269.49 361.65,269.43 362.08,269.37 362.52,269.31 362.95,269.25 363.39,269.19 363.82,269.13 364.26,269.06 364.69,269.00 365.13,268.93 365.56,268.87 366.00,268.80 366.43,268.73 366.87,268.66 367.30,268.59 367.74,268.52 368.17,268.45 368.61,268.38 369.04,268.30 369.48,268.23 369.91,268.15 370.35,268.08 370.78,268.00 371.22,267.92 371.65,267.84 372.08,267.76 372.52,267.68 372.95,267.59 373.39,267.51 373.82,267.42 374.26,267.33 374.69,267.24 375.13,267.15 375.56,267.06 376.00,266.97 376.43,266.87 376.87,266.78 377.30,266.68 377.74,266.58 378.17,266.48 378.61,266.38 379.04,266.28 379.48,266.17 379.91,266.06 380.35,265.96 380.78,265.85 381.22,265.73 381.65,265.62 382.09,265.51 382.52,265.39 382.96,265.27 383.39,265.15 383.83,265.03 384.26,264.90 384.70,264.77 385.13,264.64 385.57,264.51 386.00,264.38 386.44,264.25 386.87,264.11 387.31,263.97 387.74,263.83 388.18,263.68 388.61,263.54 389.05,263.39 389.48,263.24 389.92,263.08 390.35,262.93 390.79,262.77 391.22,262.60 391.66,262.44 392.09,262.27 392.53,262.10 392.96,261.93 393.40,261.75 393.83,261.58 394.27,261.39 394.70,261.21 395.14,261.02 395.57,260.83 396.01,260.64 396.44,260.44 396.88,260.24 397.31,260.03 397.75,259.83 398.18,259.62 398.62,259.40 399.05,259.18 399.49,258.96 399.92,258.73 400.36,258.50 400.79,258.27 401.23,258.03 401.66,257.79 402.09,257.54 402.53,257.29 402.96,257.04 403.40,256.78 403.83,256.51 404.27,256.24 404.70,255.97 405.14,255.69 405.57,255.41 406.01,255.12 406.44,254.83 406.88,254.53 407.31,254.23 407.75,253.92 408.18,253.61 408.62,253.29 409.05,252.96 409.49,252.63 409.92,252.29 410.36,251.95 410.79,251.60 411.23,251.25 411.66,250.88 412.10,250.52 412.53,250.14 412.97,249.76 413.40,249.37 413.84,248.98 414.27,248.58 414.71,248.17 415.14,247.75 415.58,247.33 416.01,246.90 416.45,246.46 416.88,246.01 417.32,245.55 417.75,245.09 418.19,244.62 418.62,244.14 419.06,243.65 419.49,243.15 419.93,242.65 420.36,242.13 420.80,241.61 421.23,241.07 421.67,240.53 422.10,239.97 422.54,239.41 422.97,238.84 423.41,238.25 423.84,237.66 424.28,237.05 424.71,236.43 425.15,235.81 425.58,235.17 426.02,234.52 426.45,233.85 426.89,233.18 427.32,232.49 427.76,231.79 428.19,231.08 428.63,230.35 429.06,229.61 429.50,228.86 429.93,228.10 430.37,227.32 430.80,226.52 431.24,225.71 431.67,224.89 432.10,224.05 432.54,223.20 432.97,222.33 433.41,221.44 433.84,220.54 434.28,219.62 434.71,218.69 435.15,217.73 435.58,216.76 436.02,215.78 436.45,214.77 436.89,213.75 437.32,212.70 437.76,211.64 438.19,210.56 438.63,209.46 439.06,208.34 439.50,207.19 439.93,206.03 440.37,204.84 440.80,203.64 441.24,202.41 441.67,201.16 442.11,199.88 442.54,198.58 442.98,197.26 443.41,195.91 443.85,194.54 444.28,193.15 444.72,191.72 445.15,190.27 445.59,188.80 446.02,187.30 446.46,185.77 446.89,184.21 447.33,182.62 447.76,181.00 448.20,179.35 448.63,177.68 449.07,175.97 449.50,174.23 449.94,172.46 450.37,170.65 450.81,168.81 451.24,166.94 451.68,165.03 452.11,163.09 452.55,161.11 452.98,159.10 453.42,157.04 453.85,154.95 454.29,152.82 454.72,150.65 455.16,148.44 455.59,146.19 456.03,143.90 456.46,141.57 456.90,139.19 457.33,136.77 457.77,134.30 458.20,131.79 458.64,129.23 459.07,126.62 459.51,123.97 459.94,121.26 460.38,118.51 460.81,115.70 461.25,112.84 461.68,109.93 462.11,106.97 462.55,103.94 462.98,100.87 463.42,97.73 463.85,94.54 464.29,91.29 464.72,87.98 465.16,84.60 465.59,81.17 466.03,77.67 466.46,74.10 466.90,70.47 467.33,66.77 467.77,63.00 468.20,59.16 468.64,55.25 469.07,51.27 469.51,47.21 469.94,43.08 470.38,38.87 470.81,34.59 471.25,30.22 471.68,25.77 472.12,21.24 472.55,16.62 472.99,11.92 473.42,7.13 473.86,2.25 474.29,-2.72" fill="none" stroke="#D6AEAE" stroke-width="2.8" stroke-linejoin="round" />
<rect x="137.03" y="277.66" width="6.2" height="6.2" fill="#D6AEAE"/>
<rect x="148.82" y="277.17" width="6.2" height="6.2" fill="#D6AEAE"/>
<rect x="160.60" y="276.69" width="6.2" height="6.2" fill="#D6AEAE"/>
<rect x="172.39" y="276.20" width="6.2" height="6.2" fill="#D6AEAE"/>
<rect x="184.18" y="275.72" width="6.2" height="6.2" fill="#D6AEAE"/>
<rect x="195.97" y="275.23" width="6.2" height="6.2" fill="#D6AEAE"/>
<rect x="207.75" y="274.75" width="6.2" height="6.2" fill="#D6AEAE"/>
<rect x="219.54" y="274.26" width="6.2" height="6.2" fill="#D6AEAE"/>
<rect x="231.33" y="273.77" width="6.2" height="6.2" fill="#D6AEAE"/>
<rect x="243.12" y="273.28" width="6.2" height="6.2" fill="#D6AEAE"/>
<rect x="254.91" y="272.79" width="6.2" height="6.2" fill="#D6AEAE"/>
<rect x="266.69" y="272.28" width="6.2" height="6.2" fill="#D6AEAE"/>
<rect x="278.48" y="271.77" width="6.2" height="6.2" fill="#D6AEAE"/>
<rect x="290.27" y="271.24" width="6.2" height="6.2" fill="#D6AEAE"/>
<rect x="302.05" y="270.67" width="6.2" height="6.2" fill="#D6AEAE"/>
<rect x="313.84" y="270.06" width="6.2" height="6.2" fill="#D6AEAE"/>
<rect x="325.63" y="269.36" width="6.2" height="6.2" fill="#D6AEAE"/>
<rect x="337.42" y="268.52" width="6.2" height="6.2" fill="#D6AEAE"/>
<rect x="349.20" y="267.45" width="6.2" height="6.2" fill="#D6AEAE"/>
<rect x="360.99" y="265.99" width="6.2" height="6.2" fill="#D6AEAE"/>
<rect x="372.78" y="263.89" width="6.2" height="6.2" fill="#D6AEAE"/>
<rect x="384.57" y="260.75" width="6.2" height="6.2" fill="#D6AEAE"/>
<rect x="396.36" y="255.87" width="6.2" height="6.2" fill="#D6AEAE"/>
<rect x="408.14" y="248.13" width="6.2" height="6.2" fill="#D6AEAE"/>
<rect x="419.93" y="235.66" width="6.2" height="6.2" fill="#D6AEAE"/>
<rect x="431.72" y="215.36" width="6.2" height="6.2" fill="#D6AEAE"/>
<rect x="443.50" y="182.14" width="6.2" height="6.2" fill="#D6AEAE"/>
<rect x="455.29" y="127.56" width="6.2" height="6.2" fill="#D6AEAE"/>
<rect x="467.08" y="37.70" width="6.2" height="6.2" fill="#D6AEAE"/>
<polyline points="130.70,297.79 131.13,297.76 131.57,297.74 132.00,297.72 132.44,297.69 132.87,297.67 133.31,297.65 133.74,297.62 134.18,297.60 134.61,297.57 135.05,297.55 135.48,297.53 135.92,297.50 136.35,297.48 136.79,297.46 137.22,297.43 137.66,297.41 138.09,297.38 138.53,297.36 138.96,297.34 139.40,297.31 139.83,297.29 140.27,297.27 140.70,297.24 141.14,297.22 141.57,297.19 142.01,297.17 142.44,297.15 142.88,297.12 143.31,297.10 143.75,297.08 144.18,297.05 144.62,297.03 145.05,297.00 145.49,296.98 145.92,296.96 146.36,296.93 146.79,296.91 147.23,296.89 147.66,296.86 148.10,296.84 148.53,296.81 148.97,296.79 149.40,296.77 149.84,296.74 150.27,296.72 150.71,296.70 151.14,296.67 151.58,296.65 152.01,296.62 152.45,296.60 152.88,296.58 153.32,296.55 153.75,296.53 154.19,296.51 154.62,296.48 155.06,296.46 155.49,296.43 155.93,296.41 156.36,296.39 156.80,296.36 157.23,296.34 157.67,296.32 158.10,296.29 158.54,296.27 158.97,296.24 159.41,296.22 159.84,296.20 160.28,296.17 160.71,296.15 161.14,296.13 161.58,296.10 162.01,296.08 162.45,296.05 162.88,296.03 163.32,296.01 163.75,295.98 164.19,295.96 164.62,295.94 165.06,295.91 165.49,295.89 165.93,295.86 166.36,295.84 166.80,295.82 167.23,295.79 167.67,295.77 168.10,295.75 168.54,295.72 168.97,295.70 169.41,295.67 169.84,295.65 170.28,295.63 170.71,295.60 171.15,295.58 171.58,295.56 172.02,295.53 172.45,295.51 172.89,295.48 173.32,295.46 173.76,295.44 174.19,295.41 174.63,295.39 175.06,295.37 175.50,295.34 175.93,295.32 176.37,295.29 176.80,295.27 177.24,295.25 177.67,295.22 178.11,295.20 178.54,295.18 178.98,295.15 179.41,295.13 179.85,295.10 180.28,295.08 180.72,295.06 181.15,295.03 181.59,295.01 182.02,294.99 182.46,294.96 182.89,294.94 183.33,294.91 183.76,294.89 184.20,294.87 184.63,294.84 185.07,294.82 185.50,294.80 185.94,294.77 186.37,294.75 186.81,294.72 187.24,294.70 187.68,294.68 188.11,294.65 188.55,294.63 188.98,294.61 189.42,294.58 189.85,294.56 190.29,294.53 190.72,294.51 191.15,294.49 191.59,294.46 192.02,294.44 192.46,294.42 192.89,294.39 193.33,294.37 193.76,294.34 194.20,294.32 194.63,294.30 195.07,294.27 195.50,294.25 195.94,294.23 196.37,294.20 196.81,294.18 197.24,294.15 197.68,294.13 198.11,294.11 198.55,294.08 198.98,294.06 199.42,294.04 199.85,294.01 200.29,293.99 200.72,293.96 201.16,293.94 201.59,293.92 202.03,293.89 202.46,293.87 202.90,293.85 203.33,293.82 203.77,293.80 204.20,293.77 204.64,293.75 205.07,293.73 205.51,293.70 205.94,293.68 206.38,293.66 206.81,293.63 207.25,293.61 207.68,293.58 208.12,293.56 208.55,293.54 208.99,293.51 209.42,293.49 209.86,293.47 210.29,293.44 210.73,293.42 211.16,293.39 211.60,293.37 212.03,293.35 212.47,293.32 212.90,293.30 213.34,293.27 213.77,293.25 214.21,293.23 214.64,293.20 215.08,293.18 215.51,293.16 215.95,293.13 216.38,293.11 216.82,293.08 217.25,293.06 217.69,293.04 218.12,293.01 218.56,292.99 218.99,292.97 219.43,292.94 219.86,292.92 220.30,292.89 220.73,292.87 221.16,292.85 221.60,292.82 222.03,292.80 222.47,292.78 222.90,292.75 223.34,292.73 223.77,292.70 224.21,292.68 224.64,292.66 225.08,292.63 225.51,292.61 225.95,292.59 226.38,292.56 226.82,292.54 227.25,292.51 227.69,292.49 228.12,292.47 228.56,292.44 228.99,292.42 229.43,292.40 229.86,292.37 230.30,292.35 230.73,292.32 231.17,292.30 231.60,292.28 232.04,292.25 232.47,292.23 232.91,292.21 233.34,292.18 233.78,292.16 234.21,292.13 234.65,292.11 235.08,292.09 235.52,292.06 235.95,292.04 236.39,292.01 236.82,291.99 237.26,291.97 237.69,291.94 238.13,291.92 238.56,291.90 239.00,291.87 239.43,291.85 239.87,291.82 240.30,291.80 240.74,291.78 241.17,291.75 241.61,291.73 242.04,291.71 242.48,291.68 242.91,291.66 243.35,291.63 243.78,291.61 244.22,291.59 244.65,291.56 245.09,291.54 245.52,291.51 245.96,291.49 246.39,291.47 246.83,291.44 247.26,291.42 247.70,291.40 248.13,291.37 248.57,291.35 249.00,291.32 249.44,291.30 249.87,291.28 250.31,291.25 250.74,291.23 251.17,291.21 251.61,291.18 252.04,291.16 252.48,291.13 252.91,291.11 253.35,291.09 253.78,291.06 254.22,291.04 254.65,291.01 255.09,290.99 255.52,290.97 255.96,290.94 256.39,290.92 256.83,290.90 257.26,290.87 257.70,290.85 258.13,290.82 258.57,290.80 259.00,290.78 259.44,290.75 259.87,290.73 260.31,290.70 260.74,290.68 261.18,290.66 261.61,290.63 262.05,290.61 262.48,290.58 262.92,290.56 263.35,290.54 263.79,290.51 264.22,290.49 264.66,290.47 265.09,290.44 265.53,290.42 265.96,290.39 266.40,290.37 266.83,290.35 267.27,290.32 267.70,290.30 268.14,290.27 268.57,290.25 269.01,290.23 269.44,290.20 269.88,290.18 270.31,290.15 270.75,290.13 271.18,290.11 271.62,290.08 272.05,290.06 272.49,290.03 272.92,290.01 273.36,289.99 273.79,289.96 274.23,289.94 274.66,289.91 275.10,289.89 275.53,289.87 275.97,289.84 276.40,289.82 276.84,289.79 277.27,289.77 277.71,289.75 278.14,289.72 278.58,289.70 279.01,289.67 279.45,289.65 279.88,289.63 280.32,289.60 280.75,289.58 281.18,289.55 281.62,289.53 282.05,289.51 282.49,289.48 282.92,289.46 283.36,289.43 283.79,289.41 284.23,289.38 284.66,289.36 285.10,289.34 285.53,289.31 285.97,289.29 286.40,289.26 286.84,289.24 287.27,289.22 287.71,289.19 288.14,289.17 288.58,289.14 289.01,289.12 289.45,289.09 289.88,289.07 290.32,289.05 290.75,289.02 291.19,289.00 291.62,288.97 292.06,288.95 292.49,288.92 292.93,288.90 293.36,288.88 293.80,288.85 294.23,288.83 294.67,288.80 295.10,288.78 295.54,288.75 295.97,288.73 296.41,288.70 296.84,288.68 297.28,288.66 297.71,288.63 298.15,288.61 298.58,288.58 299.02,288.56 299.45,288.53 299.89,288.51 300.32,288.48 300.76,288.46 301.19,288.43 301.63,288.41 302.06,288.39 302.50,288.36 302.93,288.34 303.37,288.31 303.80,288.29 304.24,288.26 304.67,288.24 305.11,288.21 305.54,288.19 305.98,288.16 306.41,288.14 306.85,288.11 307.28,288.09 307.72,288.06 308.15,288.04 308.59,288.01 309.02,287.99 309.46,287.96 309.89,287.94 310.33,287.91 310.76,287.89 311.19,287.86 311.63,287.84 312.06,287.81 312.50,287.79 312.93,287.76 313.37,287.74 313.80,287.71 314.24,287.68 314.67,287.66 315.11,287.63 315.54,287.61 315.98,287.58 316.41,287.56 316.85,287.53 317.28,287.51 317.72,287.48 318.15,287.45 318.59,287.43 319.02,287.40 319.46,287.38 319.89,287.35 320.33,287.33 320.76,287.30 321.20,287.27 321.63,287.25 322.07,287.22 322.50,287.19 322.94,287.17 323.37,287.14 323.81,287.12 324.24,287.09 324.68,287.06 325.11,287.04 325.55,287.01 325.98,286.98 326.42,286.96 326.85,286.93 327.29,286.90 327.72,286.88 328.16,286.85 328.59,286.82 329.03,286.80 329.46,286.77 329.90,286.74 330.33,286.71 330.77,286.69 331.20,286.66 331.64,286.63 332.07,286.60 332.51,286.58 332.94,286.55 333.38,286.52 333.81,286.49 334.25,286.46 334.68,286.44 335.12,286.41 335.55,286.38 335.99,286.35 336.42,286.32 336.86,286.29 337.29,286.27 337.73,286.24 338.16,286.21 338.60,286.18 339.03,286.15 339.47,286.12 339.90,286.09 340.34,286.06 340.77,286.03 341.21,286.00 341.64,285.97 342.07,285.94 342.51,285.91 342.94,285.88 343.38,285.85 343.81,285.82 344.25,285.79 344.68,285.76 345.12,285.73 345.55,285.70 345.99,285.67 346.42,285.64 346.86,285.61 347.29,285.57 347.73,285.54 348.16,285.51 348.60,285.48 349.03,285.45 349.47,285.41 349.90,285.38 350.34,285.35 350.77,285.31 351.21,285.28 351.64,285.25 352.08,285.21 352.51,285.18 352.95,285.15 353.38,285.11 353.82,285.08 354.25,285.04 354.69,285.01 355.12,284.97 355.56,284.94 355.99,284.90 356.43,284.86 356.86,284.83 357.30,284.79 357.73,284.75 358.17,284.72 358.60,284.68 359.04,284.64 359.47,284.61 359.91,284.57 360.34,284.53 360.78,284.49 361.21,284.45 361.65,284.41 362.08,284.37 362.52,284.33 362.95,284.29 363.39,284.25 363.82,284.21 364.26,284.17 364.69,284.13 365.13,284.08 365.56,284.04 366.00,284.00 366.43,283.95 366.87,283.91 367.30,283.87 367.74,283.82 368.17,283.78 368.61,283.73 369.04,283.69 369.48,283.64 369.91,283.59 370.35,283.54 370.78,283.50 371.22,283.45 371.65,283.40 372.08,283.35 372.52,283.30 372.95,283.25 373.39,283.20 373.82,283.15 374.26,283.09 374.69,283.04 375.13,282.99 375.56,282.93 376.00,282.88 376.43,282.82 376.87,282.77 377.30,282.71 377.74,282.65 378.17,282.60 378.61,282.54 379.04,282.48 379.48,282.42 379.91,282.36 380.35,282.29 380.78,282.23 381.22,282.17 381.65,282.10 382.09,282.04 382.52,281.97 382.96,281.90 383.39,281.84 383.83,281.77 384.26,281.70 384.70,281.63 385.13,281.56 385.57,281.48 386.00,281.41 386.44,281.34 386.87,281.26 387.31,281.18 387.74,281.11 388.18,281.03 388.61,280.95 389.05,280.86 389.48,280.78 389.92,280.70 390.35,280.61 390.79,280.53 391.22,280.44 391.66,280.35 392.09,280.26 392.53,280.17 392.96,280.07 393.40,279.98 393.83,279.88 394.27,279.79 394.70,279.69 395.14,279.59 395.57,279.48 396.01,279.38 396.44,279.27 396.88,279.17 397.31,279.06 397.75,278.95 398.18,278.83 398.62,278.72 399.05,278.60 399.49,278.48 399.92,278.36 400.36,278.24 400.79,278.12 401.23,277.99 401.66,277.86 402.09,277.73 402.53,277.60 402.96,277.46 403.40,277.32 403.83,277.18 404.27,277.04 404.70,276.90 405.14,276.75 405.57,276.60 406.01,276.45 406.44,276.29 406.88,276.13 407.31,275.97 407.75,275.81 408.18,275.64 408.62,275.47 409.05,275.30 409.49,275.12 409.92,274.94 410.36,274.76 410.79,274.57 411.23,274.38 411.66,274.19 412.10,273.99 412.53,273.79 412.97,273.59 413.40,273.38 413.84,273.17 414.27,272.96 414.71,272.74 415.14,272.51 415.58,272.29 416.01,272.06 416.45,271.82 416.88,271.58 417.32,271.33 417.75,271.08 418.19,270.83 418.62,270.57 419.06,270.31 419.49,270.04 419.93,269.76 420.36,269.48 420.80,269.20 421.23,268.91 421.67,268.61 422.10,268.31 422.54,268.00 422.97,267.69 423.41,267.37 423.84,267.05 424.28,266.72 424.71,266.38 425.15,266.03 425.58,265.68 426.02,265.32 426.45,264.96 426.89,264.58 427.32,264.21 427.76,263.82 428.19,263.42 428.63,263.02 429.06,262.61 429.50,262.19 429.93,261.77 430.37,261.33 430.80,260.89 431.24,260.43 431.67,259.97 432.10,259.50 432.54,259.02 432.97,258.53 433.41,258.03 433.84,257.52 434.28,257.00 434.71,256.47 435.15,255.93 435.58,255.38 436.02,254.82 436.45,254.25 436.89,253.66 437.32,253.07 437.76,252.46 438.19,251.84 438.63,251.20 439.06,250.56 439.50,249.90 439.93,249.23 440.37,248.54 440.80,247.84 441.24,247.13 441.67,246.40 442.11,245.65 442.54,244.90 442.98,244.12 443.41,243.33 443.85,242.53 444.28,241.71 444.72,240.87 445.15,240.01 445.59,239.14 446.02,238.25 446.46,237.34 446.89,236.42 447.33,235.47 447.76,234.51 448.20,233.52 448.63,232.52 449.07,231.49 449.50,230.44 449.94,229.38 450.37,228.29 450.81,227.18 451.24,226.04 451.68,224.88 452.11,223.70 452.55,222.50 452.98,221.27 453.42,220.01 453.85,218.73 454.29,217.42 454.72,216.09 455.16,214.73 455.59,213.34 456.03,211.92 456.46,210.47 456.90,208.99 457.33,207.49 457.77,205.95 458.20,204.38 458.64,202.78 459.07,201.14 459.51,199.47 459.94,197.77 460.38,196.03 460.81,194.25 461.25,192.44 461.68,190.59 462.11,188.71 462.55,186.78 462.98,184.82 463.42,182.81 463.85,180.76 464.29,178.67 464.72,176.54 465.16,174.36 465.59,172.14 466.03,169.87 466.46,167.56 466.90,165.19 467.33,162.78 467.77,160.32 468.20,157.81 468.64,155.24 469.07,152.63 469.51,149.95 469.94,147.23 470.38,144.44 470.81,141.60 471.25,138.70 471.68,135.74 472.12,132.72 472.55,129.63 472.99,126.49 473.42,123.27 473.86,119.99 474.29,116.64 474.73,113.22 475.16,109.73 475.60,106.17 476.03,102.54 476.47,98.83 476.90,95.04 477.34,91.17 477.77,87.22 478.21,83.20 478.64,79.08 479.08,74.88 479.51,70.60 479.95,66.22 480.38,61.76 480.82,57.20 481.25,52.55 481.69,47.80 482.12,42.95 482.56,38.00 482.99,32.94 483.43,27.79 483.86,22.52 484.30,17.15 484.73,11.66 485.17,6.06 485.60,0.34 486.04,-5.50" fill="none" stroke="#74BACB" stroke-width="2.8" stroke-linejoin="round" />
<rect x="129.90" y="294.56" width="6.2" height="6.2" fill="#74BACB"/>
<rect x="141.49" y="293.93" width="6.2" height="6.2" fill="#74BACB"/>
<rect x="153.08" y="293.30" width="6.2" height="6.2" fill="#74BACB"/>
<rect x="164.68" y="292.66" width="6.2" height="6.2" fill="#74BACB"/>
<rect x="176.27" y="292.03" width="6.2" height="6.2" fill="#74BACB"/>
<rect x="187.86" y="291.40" width="6.2" height="6.2" fill="#74BACB"/>
<rect x="199.45" y="290.76" width="6.2" height="6.2" fill="#74BACB"/>
<rect x="211.04" y="290.13" width="6.2" height="6.2" fill="#74BACB"/>
<rect x="222.64" y="289.50" width="6.2" height="6.2" fill="#74BACB"/>
<rect x="234.23" y="288.86" width="6.2" height="6.2" fill="#74BACB"/>
<rect x="245.82" y="288.23" width="6.2" height="6.2" fill="#74BACB"/>
<rect x="257.41" y="287.59" width="6.2" height="6.2" fill="#74BACB"/>
<rect x="269.00" y="286.96" width="6.2" height="6.2" fill="#74BACB"/>
<rect x="280.60" y="286.31" width="6.2" height="6.2" fill="#74BACB"/>
<rect x="292.19" y="285.67" width="6.2" height="6.2" fill="#74BACB"/>
<rect x="303.78" y="285.01" width="6.2" height="6.2" fill="#74BACB"/>
<rect x="315.37" y="284.34" width="6.2" height="6.2" fill="#74BACB"/>
<rect x="326.96" y="283.63" width="6.2" height="6.2" fill="#74BACB"/>
<rect x="338.56" y="282.87" width="6.2" height="6.2" fill="#74BACB"/>
<rect x="350.15" y="282.02" width="6.2" height="6.2" fill="#74BACB"/>
<rect x="361.74" y="281.01" width="6.2" height="6.2" fill="#74BACB"/>
<rect x="373.33" y="279.72" width="6.2" height="6.2" fill="#74BACB"/>
<rect x="384.92" y="277.95" width="6.2" height="6.2" fill="#74BACB"/>
<rect x="396.52" y="275.35" width="6.2" height="6.2" fill="#74BACB"/>
<rect x="408.11" y="271.29" width="6.2" height="6.2" fill="#74BACB"/>
<rect x="419.70" y="264.72" width="6.2" height="6.2" fill="#74BACB"/>
<rect x="431.29" y="253.77" width="6.2" height="6.2" fill="#74BACB"/>
<rect x="442.88" y="235.23" width="6.2" height="6.2" fill="#74BACB"/>
<rect x="454.48" y="203.52" width="6.2" height="6.2" fill="#74BACB"/>
<rect x="466.07" y="148.95" width="6.2" height="6.2" fill="#74BACB"/>
<rect x="477.66" y="54.70" width="6.2" height="6.2" fill="#74BACB"/>
<polyline points="130.70,303.97 131.13,303.95 131.57,303.92 132.00,303.90 132.44,303.87 132.87,303.85 133.31,303.82 133.74,303.80 134.18,303.77 134.61,303.75 135.05,303.72 135.48,303.70 135.92,303.67 136.35,303.65 136.79,303.62 137.22,303.60 137.66,303.57 138.09,303.55 138.53,303.52 138.96,303.50 139.40,303.47 139.83,303.45 140.27,303.42 140.70,303.40 141.14,303.37 141.57,303.35 142.01,303.32 142.44,303.29 142.88,303.27 143.31,303.24 143.75,303.22 144.18,303.19 144.62,303.17 145.05,303.14 145.49,303.12 145.92,303.09 146.36,303.07 146.79,303.04 147.23,303.02 147.66,302.99 148.10,302.97 148.53,302.94 148.97,302.92 149.40,302.89 149.84,302.87 150.27,302.84 150.71,302.82 151.14,302.79 151.58,302.77 152.01,302.74 152.45,302.72 152.88,302.69 153.32,302.67 153.75,302.64 154.19,302.62 154.62,302.59 155.06,302.56 155.49,302.54 155.93,302.51 156.36,302.49 156.80,302.46 157.23,302.44 157.67,302.41 158.10,302.39 158.54,302.36 158.97,302.34 159.41,302.31 159.84,302.29 160.28,302.26 160.71,302.24 161.14,302.21 161.58,302.19 162.01,302.16 162.45,302.14 162.88,302.11 163.32,302.09 163.75,302.06 164.19,302.04 164.62,302.01 165.06,301.99 165.49,301.96 165.93,301.94 166.36,301.91 166.80,301.89 167.23,301.86 167.67,301.83 168.10,301.81 168.54,301.78 168.97,301.76 169.41,301.73 169.84,301.71 170.28,301.68 170.71,301.66 171.15,301.63 171.58,301.61 172.02,301.58 172.45,301.56 172.89,301.53 173.32,301.51 173.76,301.48 174.19,301.46 174.63,301.43 175.06,301.41 175.50,301.38 175.93,301.36 176.37,301.33 176.80,301.31 177.24,301.28 177.67,301.26 178.11,301.23 178.54,301.21 178.98,301.18 179.41,301.16 179.85,301.13 180.28,301.10 180.72,301.08 181.15,301.05 181.59,301.03 182.02,301.00 182.46,300.98 182.89,300.95 183.33,300.93 183.76,300.90 184.20,300.88 184.63,300.85 185.07,300.83 185.50,300.80 185.94,300.78 186.37,300.75 186.81,300.73 187.24,300.70 187.68,300.68 188.11,300.65 188.55,300.63 188.98,300.60 189.42,300.58 189.85,300.55 190.29,300.53 190.72,300.50 191.15,300.48 191.59,300.45 192.02,300.43 192.46,300.40 192.89,300.37 193.33,300.35 193.76,300.32 194.20,300.30 194.63,300.27 195.07,300.25 195.50,300.22 195.94,300.20 196.37,300.17 196.81,300.15 197.24,300.12 197.68,300.10 198.11,300.07 198.55,300.05 198.98,300.02 199.42,300.00 199.85,299.97 200.29,299.95 200.72,299.92 201.16,299.90 201.59,299.87 202.03,299.85 202.46,299.82 202.90,299.80 203.33,299.77 203.77,299.75 204.20,299.72 204.64,299.70 205.07,299.67 205.51,299.64 205.94,299.62 206.38,299.59 206.81,299.57 207.25,299.54 207.68,299.52 208.12,299.49 208.55,299.47 208.99,299.44 209.42,299.42 209.86,299.39 210.29,299.37 210.73,299.34 211.16,299.32 211.60,299.29 212.03,299.27 212.47,299.24 212.90,299.22 213.34,299.19 213.77,299.17 214.21,299.14 214.64,299.12 215.08,299.09 215.51,299.07 215.95,299.04 216.38,299.02 216.82,298.99 217.25,298.97 217.69,298.94 218.12,298.91 218.56,298.89 218.99,298.86 219.43,298.84 219.86,298.81 220.30,298.79 220.73,298.76 221.16,298.74 221.60,298.71 222.03,298.69 222.47,298.66 222.90,298.64 223.34,298.61 223.77,298.59 224.21,298.56 224.64,298.54 225.08,298.51 225.51,298.49 225.95,298.46 226.38,298.44 226.82,298.41 227.25,298.39 227.69,298.36 228.12,298.34 228.56,298.31 228.99,298.29 229.43,298.26 229.86,298.23 230.30,298.21 230.73,298.18 231.17,298.16 231.60,298.13 232.04,298.11 232.47,298.08 232.91,298.06 233.34,298.03 233.78,298.01 234.21,297.98 234.65,297.96 235.08,297.93 235.52,297.91 235.95,297.88 236.39,297.86 236.82,297.83 237.26,297.81 237.69,297.78 238.13,297.76 238.56,297.73 239.00,297.71 239.43,297.68 239.87,297.66 240.30,297.63 240.74,297.61 241.17,297.58 241.61,297.55 242.04,297.53 242.48,297.50 242.91,297.48 243.35,297.45 243.78,297.43 244.22,297.40 244.65,297.38 245.09,297.35 245.52,297.33 245.96,297.30 246.39,297.28 246.83,297.25 247.26,297.23 247.70,297.20 248.13,297.18 248.57,297.15 249.00,297.13 249.44,297.10 249.87,297.08 250.31,297.05 250.74,297.03 251.17,297.00 251.61,296.98 252.04,296.95 252.48,296.92 252.91,296.90 253.35,296.87 253.78,296.85 254.22,296.82 254.65,296.80 255.09,296.77 255.52,296.75 255.96,296.72 256.39,296.70 256.83,296.67 257.26,296.65 257.70,296.62 258.13,296.60 258.57,296.57 259.00,296.55 259.44,296.52 259.87,296.50 260.31,296.47 260.74,296.45 261.18,296.42 261.61,296.40 262.05,296.37 262.48,296.35 262.92,296.32 263.35,296.29 263.79,296.27 264.22,296.24 264.66,296.22 265.09,296.19 265.53,296.17 265.96,296.14 266.40,296.12 266.83,296.09 267.27,296.07 267.70,296.04 268.14,296.02 268.57,295.99 269.01,295.97 269.44,295.94 269.88,295.92 270.31,295.89 270.75,295.87 271.18,295.84 271.62,295.82 272.05,295.79 272.49,295.76 272.92,295.74 273.36,295.71 273.79,295.69 274.23,295.66 274.66,295.64 275.10,295.61 275.53,295.59 275.97,295.56 276.40,295.54 276.84,295.51 277.27,295.49 277.71,295.46 278.14,295.44 278.58,295.41 279.01,295.39 279.45,295.36 279.88,295.33 280.32,295.31 280.75,295.28 281.18,295.26 281.62,295.23 282.05,295.21 282.49,295.18 282.92,295.16 283.36,295.13 283.79,295.11 284.23,295.08 284.66,295.06 285.10,295.03 285.53,295.01 285.97,294.98 286.40,294.96 286.84,294.93 287.27,294.90 287.71,294.88 288.14,294.85 288.58,294.83 289.01,294.80 289.45,294.78 289.88,294.75 290.32,294.73 290.75,294.70 291.19,294.68 291.62,294.65 292.06,294.63 292.49,294.60 292.93,294.57 293.36,294.55 293.80,294.52 294.23,294.50 294.67,294.47 295.10,294.45 295.54,294.42 295.97,294.40 296.41,294.37 296.84,294.35 297.28,294.32 297.71,294.29 298.15,294.27 298.58,294.24 299.02,294.22 299.45,294.19 299.89,294.17 300.32,294.14 300.76,294.12 301.19,294.09 301.63,294.06 302.06,294.04 302.50,294.01 302.93,293.99 303.37,293.96 303.80,293.94 304.24,293.91 304.67,293.89 305.11,293.86 305.54,293.83 305.98,293.81 306.41,293.78 306.85,293.76 307.28,293.73 307.72,293.71 308.15,293.68 308.59,293.66 309.02,293.63 309.46,293.60 309.89,293.58 310.33,293.55 310.76,293.53 311.19,293.50 311.63,293.47 312.06,293.45 312.50,293.42 312.93,293.40 313.37,293.37 313.80,293.35 314.24,293.32 314.67,293.29 315.11,293.27 315.54,293.24 315.98,293.22 316.41,293.19 316.85,293.16 317.28,293.14 317.72,293.11 318.15,293.09 318.59,293.06 319.02,293.03 319.46,293.01 319.89,292.98 320.33,292.96 320.76,292.93 321.20,292.90 321.63,292.88 322.07,292.85 322.50,292.82 322.94,292.80 323.37,292.77 323.81,292.75 324.24,292.72 324.68,292.69 325.11,292.67 325.55,292.64 325.98,292.61 326.42,292.59 326.85,292.56 327.29,292.53 327.72,292.51 328.16,292.48 328.59,292.45 329.03,292.43 329.46,292.40 329.90,292.37 330.33,292.35 330.77,292.32 331.20,292.29 331.64,292.27 332.07,292.24 332.51,292.21 332.94,292.19 333.38,292.16 333.81,292.13 334.25,292.11 334.68,292.08 335.12,292.05 335.55,292.02 335.99,292.00 336.42,291.97 336.86,291.94 337.29,291.91 337.73,291.89 338.16,291.86 338.60,291.83 339.03,291.80 339.47,291.78 339.90,291.75 340.34,291.72 340.77,291.69 341.21,291.67 341.64,291.64 342.07,291.61 342.51,291.58 342.94,291.55 343.38,291.53 343.81,291.50 344.25,291.47 344.68,291.44 345.12,291.41 345.55,291.38 345.99,291.35 346.42,291.33 346.86,291.30 347.29,291.27 347.73,291.24 348.16,291.21 348.60,291.18 349.03,291.15 349.47,291.12 349.90,291.09 350.34,291.06 350.77,291.03 351.21,291.00 351.64,290.97 352.08,290.94 352.51,290.91 352.95,290.88 353.38,290.85 353.82,290.82 354.25,290.79 354.69,290.76 355.12,290.73 355.56,290.70 355.99,290.67 356.43,290.64 356.86,290.61 357.30,290.58 357.73,290.55 358.17,290.51 358.60,290.48 359.04,290.45 359.47,290.42 359.91,290.39 360.34,290.35 360.78,290.32 361.21,290.29 361.65,290.26 362.08,290.22 362.52,290.19 362.95,290.16 363.39,290.12 363.82,290.09 364.26,290.05 364.69,290.02 365.13,289.99 365.56,289.95 366.00,289.92 366.43,289.88 366.87,289.85 367.30,289.81 367.74,289.78 368.17,289.74 368.61,289.70 369.04,289.67 369.48,289.63 369.91,289.59 370.35,289.56 370.78,289.52 371.22,289.48 371.65,289.44 372.08,289.41 372.52,289.37 372.95,289.33 373.39,289.29 373.82,289.25 374.26,289.21 374.69,289.17 375.13,289.13 375.56,289.09 376.00,289.05 376.43,289.01 376.87,288.97 377.30,288.92 377.74,288.88 378.17,288.84 378.61,288.79 379.04,288.75 379.48,288.71 379.91,288.66 380.35,288.62 380.78,288.57 381.22,288.53 381.65,288.48 382.09,288.43 382.52,288.39 382.96,288.34 383.39,288.29 383.83,288.24 384.26,288.19 384.70,288.14 385.13,288.09 385.57,288.04 386.00,287.99 386.44,287.94 386.87,287.89 387.31,287.83 387.74,287.78 388.18,287.72 388.61,287.67 389.05,287.61 389.48,287.56 389.92,287.50 390.35,287.44 390.79,287.38 391.22,287.32 391.66,287.26 392.09,287.20 392.53,287.14 392.96,287.08 393.40,287.01 393.83,286.95 394.27,286.88 394.70,286.82 395.14,286.75 395.57,286.68 396.01,286.61 396.44,286.55 396.88,286.47 397.31,286.40 397.75,286.33 398.18,286.26 398.62,286.18 399.05,286.11 399.49,286.03 399.92,285.95 400.36,285.87 400.79,285.79 401.23,285.71 401.66,285.62 402.09,285.54 402.53,285.45 402.96,285.37 403.40,285.28 403.83,285.19 404.27,285.10 404.70,285.00 405.14,284.91 405.57,284.81 406.01,284.72 406.44,284.62 406.88,284.52 407.31,284.41 407.75,284.31 408.18,284.20 408.62,284.10 409.05,283.99 409.49,283.87 409.92,283.76 410.36,283.65 410.79,283.53 411.23,283.41 411.66,283.29 412.10,283.16 412.53,283.04 412.97,282.91 413.40,282.78 413.84,282.65 414.27,282.51 414.71,282.38 415.14,282.24 415.58,282.09 416.01,281.95 416.45,281.80 416.88,281.65 417.32,281.50 417.75,281.34 418.19,281.18 418.62,281.02 419.06,280.85 419.49,280.69 419.93,280.51 420.36,280.34 420.80,280.16 421.23,279.98 421.67,279.80 422.10,279.61 422.54,279.41 422.97,279.22 423.41,279.02 423.84,278.82 424.28,278.61 424.71,278.40 425.15,278.18 425.58,277.96 426.02,277.74 426.45,277.51 426.89,277.28 427.32,277.04 427.76,276.80 428.19,276.55 428.63,276.30 429.06,276.04 429.50,275.78 429.93,275.51 430.37,275.24 430.80,274.96 431.24,274.67 431.67,274.38 432.10,274.09 432.54,273.79 432.97,273.48 433.41,273.16 433.84,272.84 434.28,272.52 434.71,272.18 435.15,271.84 435.58,271.49 436.02,271.14 436.45,270.77 436.89,270.40 437.32,270.03 437.76,269.64 438.19,269.25 438.63,268.85 439.06,268.44 439.50,268.02 439.93,267.59 440.37,267.15 440.80,266.71 441.24,266.25 441.67,265.79 442.11,265.32 442.54,264.83 442.98,264.34 443.41,263.83 443.85,263.32 444.28,262.79 444.72,262.25 445.15,261.70 445.59,261.14 446.02,260.57 446.46,259.99 446.89,259.39 447.33,258.78 447.76,258.16 448.20,257.52 448.63,256.87 449.07,256.21 449.50,255.53 449.94,254.84 450.37,254.13 450.81,253.41 451.24,252.67 451.68,251.92 452.11,251.15 452.55,250.36 452.98,249.56 453.42,248.74 453.85,247.90 454.29,247.04 454.72,246.17 455.16,245.28 455.59,244.36 456.03,243.43 456.46,242.48 456.90,241.50 457.33,240.51 457.77,239.49 458.20,238.45 458.64,237.39 459.07,236.31 459.51,235.20 459.94,234.07 460.38,232.91 460.81,231.73 461.25,230.53 461.68,229.29 462.11,228.03 462.55,226.75 462.98,225.43 463.42,224.09 463.85,222.71 464.29,221.31 464.72,219.87 465.16,218.41 465.59,216.91 466.03,215.38 466.46,213.82 466.90,212.22 467.33,210.59 467.77,208.92 468.20,207.21 468.64,205.47 469.07,203.69 469.51,201.87 469.94,200.01 470.38,198.11 470.81,196.17 471.25,194.18 471.68,192.15 472.12,190.08 472.55,187.96 472.99,185.80 473.42,183.58 473.86,181.32 474.29,179.01 474.73,176.65 475.16,174.23 475.60,171.77 476.03,169.25 476.47,166.67 476.90,164.03 477.34,161.34 477.77,158.59 478.21,155.78 478.64,152.91 479.08,149.97 479.51,146.97 479.95,143.90 480.38,140.76 480.82,137.56 481.25,134.28 481.69,130.94 482.12,127.51 482.56,124.02 482.99,120.44 483.43,116.79 483.86,113.05 484.30,109.24 484.73,105.34 485.17,101.35 485.60,97.27 486.04,93.11 486.47,88.85 486.91,84.50 487.34,80.05 487.78,75.51 488.21,70.86 488.65,66.11 489.08,61.26 489.52,56.30 489.95,51.22 490.39,46.04 490.82,40.74 491.26,35.33 491.69,29.79 492.12,24.13 492.56,18.35 492.99,12.44 493.43,6.39 493.86,0.22 494.30,-6.10" fill="none" stroke="#6F98B6" stroke-width="2.8" stroke-linejoin="round" />
<rect x="127.37" y="300.89" width="6.2" height="6.2" fill="#6F98B6"/>
<rect x="138.75" y="300.23" width="6.2" height="6.2" fill="#6F98B6"/>
<rect x="150.14" y="299.57" width="6.2" height="6.2" fill="#6F98B6"/>
<rect x="161.53" y="298.91" width="6.2" height="6.2" fill="#6F98B6"/>
<rect x="172.91" y="298.25" width="6.2" height="6.2" fill="#6F98B6"/>
<rect x="184.29" y="297.59" width="6.2" height="6.2" fill="#6F98B6"/>
<rect x="195.68" y="296.93" width="6.2" height="6.2" fill="#6F98B6"/>
<rect x="207.06" y="296.28" width="6.2" height="6.2" fill="#6F98B6"/>
<rect x="218.45" y="295.62" width="6.2" height="6.2" fill="#6F98B6"/>
<rect x="229.83" y="294.96" width="6.2" height="6.2" fill="#6F98B6"/>
<rect x="241.22" y="294.30" width="6.2" height="6.2" fill="#6F98B6"/>
<rect x="252.60" y="293.64" width="6.2" height="6.2" fill="#6F98B6"/>
<rect x="263.99" y="292.98" width="6.2" height="6.2" fill="#6F98B6"/>
<rect x="275.38" y="292.32" width="6.2" height="6.2" fill="#6F98B6"/>
<rect x="286.76" y="291.65" width="6.2" height="6.2" fill="#6F98B6"/>
<rect x="298.14" y="290.99" width="6.2" height="6.2" fill="#6F98B6"/>
<rect x="309.53" y="290.32" width="6.2" height="6.2" fill="#6F98B6"/>
<rect x="320.91" y="289.63" width="6.2" height="6.2" fill="#6F98B6"/>
<rect x="332.30" y="288.93" width="6.2" height="6.2" fill="#6F98B6"/>
<rect x="343.68" y="288.20" width="6.2" height="6.2" fill="#6F98B6"/>
<rect x="355.07" y="287.41" width="6.2" height="6.2" fill="#6F98B6"/>
<rect x="366.45" y="286.52" width="6.2" height="6.2" fill="#6F98B6"/>
<rect x="377.84" y="285.46" width="6.2" height="6.2" fill="#6F98B6"/>
<rect x="389.22" y="284.07" width="6.2" height="6.2" fill="#6F98B6"/>
<rect x="400.61" y="282.11" width="6.2" height="6.2" fill="#6F98B6"/>
<rect x="411.19" y="279.41" width="6.2" height="6.2" fill="#6F98B6"/>
<rect x="421.77" y="275.22" width="6.2" height="6.2" fill="#6F98B6"/>
<rect x="432.35" y="268.50" width="6.2" height="6.2" fill="#6F98B6"/>
<rect x="442.93" y="257.46" width="6.2" height="6.2" fill="#6F98B6"/>
<rect x="453.51" y="239.05" width="6.2" height="6.2" fill="#6F98B6"/>
<rect x="464.09" y="208.03" width="6.2" height="6.2" fill="#6F98B6"/>
<rect x="474.67" y="155.51" width="6.2" height="6.2" fill="#6F98B6"/>
<rect x="485.25" y="66.25" width="6.2" height="6.2" fill="#6F98B6"/>
<polyline points="130.70,305.71 131.13,305.68 131.57,305.66 132.00,305.64 132.44,305.62 132.87,305.59 133.31,305.57 133.74,305.55 134.18,305.52 134.61,305.50 135.05,305.48 135.48,305.46 135.92,305.43 136.35,305.41 136.79,305.39 137.22,305.37 137.66,305.34 138.09,305.32 138.53,305.30 138.96,305.27 139.40,305.25 139.83,305.23 140.27,305.21 140.70,305.18 141.14,305.16 141.57,305.14 142.01,305.11 142.44,305.09 142.88,305.07 143.31,305.05 143.75,305.02 144.18,305.00 144.62,304.98 145.05,304.95 145.49,304.93 145.92,304.91 146.36,304.89 146.79,304.86 147.23,304.84 147.66,304.82 148.10,304.80 148.53,304.77 148.97,304.75 149.40,304.73 149.84,304.70 150.27,304.68 150.71,304.66 151.14,304.64 151.58,304.61 152.01,304.59 152.45,304.57 152.88,304.54 153.32,304.52 153.75,304.50 154.19,304.48 154.62,304.45 155.06,304.43 155.49,304.41 155.93,304.38 156.36,304.36 156.80,304.34 157.23,304.32 157.67,304.29 158.10,304.27 158.54,304.25 158.97,304.23 159.41,304.20 159.84,304.18 160.28,304.16 160.71,304.13 161.14,304.11 161.58,304.09 162.01,304.07 162.45,304.04 162.88,304.02 163.32,304.00 163.75,303.97 164.19,303.95 164.62,303.93 165.06,303.91 165.49,303.88 165.93,303.86 166.36,303.84 166.80,303.81 167.23,303.79 167.67,303.77 168.10,303.75 168.54,303.72 168.97,303.70 169.41,303.68 169.84,303.66 170.28,303.63 170.71,303.61 171.15,303.59 171.58,303.56 172.02,303.54 172.45,303.52 172.89,303.50 173.32,303.47 173.76,303.45 174.19,303.43 174.63,303.40 175.06,303.38 175.50,303.36 175.93,303.34 176.37,303.31 176.80,303.29 177.24,303.27 177.67,303.24 178.11,303.22 178.54,303.20 178.98,303.18 179.41,303.15 179.85,303.13 180.28,303.11 180.72,303.09 181.15,303.06 181.59,303.04 182.02,303.02 182.46,302.99 182.89,302.97 183.33,302.95 183.76,302.93 184.20,302.90 184.63,302.88 185.07,302.86 185.50,302.83 185.94,302.81 186.37,302.79 186.81,302.77 187.24,302.74 187.68,302.72 188.11,302.70 188.55,302.67 188.98,302.65 189.42,302.63 189.85,302.61 190.29,302.58 190.72,302.56 191.15,302.54 191.59,302.51 192.02,302.49 192.46,302.47 192.89,302.45 193.33,302.42 193.76,302.40 194.20,302.38 194.63,302.36 195.07,302.33 195.50,302.31 195.94,302.29 196.37,302.26 196.81,302.24 197.24,302.22 197.68,302.20 198.11,302.17 198.55,302.15 198.98,302.13 199.42,302.10 199.85,302.08 200.29,302.06 200.72,302.04 201.16,302.01 201.59,301.99 202.03,301.97 202.46,301.94 202.90,301.92 203.33,301.90 203.77,301.88 204.20,301.85 204.64,301.83 205.07,301.81 205.51,301.79 205.94,301.76 206.38,301.74 206.81,301.72 207.25,301.69 207.68,301.67 208.12,301.65 208.55,301.63 208.99,301.60 209.42,301.58 209.86,301.56 210.29,301.53 210.73,301.51 211.16,301.49 211.60,301.47 212.03,301.44 212.47,301.42 212.90,301.40 213.34,301.37 213.77,301.35 214.21,301.33 214.64,301.31 215.08,301.28 215.51,301.26 215.95,301.24 216.38,301.22 216.82,301.19 217.25,301.17 217.69,301.15 218.12,301.12 218.56,301.10 218.99,301.08 219.43,301.06 219.86,301.03 220.30,301.01 220.73,300.99 221.16,300.96 221.60,300.94 222.03,300.92 222.47,300.90 222.90,300.87 223.34,300.85 223.77,300.83 224.21,300.80 224.64,300.78 225.08,300.76 225.51,300.74 225.95,300.71 226.38,300.69 226.82,300.67 227.25,300.64 227.69,300.62 228.12,300.60 228.56,300.58 228.99,300.55 229.43,300.53 229.86,300.51 230.30,300.49 230.73,300.46 231.17,300.44 231.60,300.42 232.04,300.39 232.47,300.37 232.91,300.35 233.34,300.33 233.78,300.30 234.21,300.28 234.65,300.26 235.08,300.23 235.52,300.21 235.95,300.19 236.39,300.17 236.82,300.14 237.26,300.12 237.69,300.10 238.13,300.07 238.56,300.05 239.00,300.03 239.43,300.01 239.87,299.98 240.30,299.96 240.74,299.94 241.17,299.92 241.61,299.89 242.04,299.87 242.48,299.85 242.91,299.82 243.35,299.80 243.78,299.78 244.22,299.76 244.65,299.73 245.09,299.71 245.52,299.69 245.96,299.66 246.39,299.64 246.83,299.62 247.26,299.60 247.70,299.57 248.13,299.55 248.57,299.53 249.00,299.50 249.44,299.48 249.87,299.46 250.31,299.44 250.74,299.41 251.17,299.39 251.61,299.37 252.04,299.34 252.48,299.32 252.91,299.30 253.35,299.28 253.78,299.25 254.22,299.23 254.65,299.21 255.09,299.19 255.52,299.16 255.96,299.14 256.39,299.12 256.83,299.09 257.26,299.07 257.70,299.05 258.13,299.03 258.57,299.00 259.00,298.98 259.44,298.96 259.87,298.93 260.31,298.91 260.74,298.89 261.18,298.87 261.61,298.84 262.05,298.82 262.48,298.80 262.92,298.77 263.35,298.75 263.79,298.73 264.22,298.71 264.66,298.68 265.09,298.66 265.53,298.64 265.96,298.61 266.40,298.59 266.83,298.57 267.27,298.55 267.70,298.52 268.14,298.50 268.57,298.48 269.01,298.45 269.44,298.43 269.88,298.41 270.31,298.39 270.75,298.36 271.18,298.34 271.62,298.32 272.05,298.29 272.49,298.27 272.92,298.25 273.36,298.23 273.79,298.20 274.23,298.18 274.66,298.16 275.10,298.13 275.53,298.11 275.97,298.09 276.40,298.07 276.84,298.04 277.27,298.02 277.71,298.00 278.14,297.97 278.58,297.95 279.01,297.93 279.45,297.91 279.88,297.88 280.32,297.86 280.75,297.84 281.18,297.81 281.62,297.79 282.05,297.77 282.49,297.75 282.92,297.72 283.36,297.70 283.79,297.68 284.23,297.65 284.66,297.63 285.10,297.61 285.53,297.59 285.97,297.56 286.40,297.54 286.84,297.52 287.27,297.49 287.71,297.47 288.14,297.45 288.58,297.43 289.01,297.40 289.45,297.38 289.88,297.36 290.32,297.33 290.75,297.31 291.19,297.29 291.62,297.27 292.06,297.24 292.49,297.22 292.93,297.20 293.36,297.17 293.80,297.15 294.23,297.13 294.67,297.11 295.10,297.08 295.54,297.06 295.97,297.04 296.41,297.01 296.84,296.99 297.28,296.97 297.71,296.94 298.15,296.92 298.58,296.90 299.02,296.88 299.45,296.85 299.89,296.83 300.32,296.81 300.76,296.78 301.19,296.76 301.63,296.74 302.06,296.71 302.50,296.69 302.93,296.67 303.37,296.65 303.80,296.62 304.24,296.60 304.67,296.58 305.11,296.55 305.54,296.53 305.98,296.51 306.41,296.48 306.85,296.46 307.28,296.44 307.72,296.42 308.15,296.39 308.59,296.37 309.02,296.35 309.46,296.32 309.89,296.30 310.33,296.28 310.76,296.25 311.19,296.23 311.63,296.21 312.06,296.18 312.50,296.16 312.93,296.14 313.37,296.12 313.80,296.09 314.24,296.07 314.67,296.05 315.11,296.02 315.54,296.00 315.98,295.98 316.41,295.95 316.85,295.93 317.28,295.91 317.72,295.88 318.15,295.86 318.59,295.84 319.02,295.81 319.46,295.79 319.89,295.77 320.33,295.74 320.76,295.72 321.20,295.70 321.63,295.67 322.07,295.65 322.50,295.63 322.94,295.60 323.37,295.58 323.81,295.56 324.24,295.53 324.68,295.51 325.11,295.49 325.55,295.46 325.98,295.44 326.42,295.42 326.85,295.39 327.29,295.37 327.72,295.35 328.16,295.32 328.59,295.30 329.03,295.28 329.46,295.25 329.90,295.23 330.33,295.20 330.77,295.18 331.20,295.16 331.64,295.13 332.07,295.11 332.51,295.09 332.94,295.06 333.38,295.04 333.81,295.01 334.25,294.99 334.68,294.97 335.12,294.94 335.55,294.92 335.99,294.90 336.42,294.87 336.86,294.85 337.29,294.82 337.73,294.80 338.16,294.78 338.60,294.75 339.03,294.73 339.47,294.70 339.90,294.68 340.34,294.65 340.77,294.63 341.21,294.61 341.64,294.58 342.07,294.56 342.51,294.53 342.94,294.51 343.38,294.48 343.81,294.46 344.25,294.44 344.68,294.41 345.12,294.39 345.55,294.36 345.99,294.34 346.42,294.31 346.86,294.29 347.29,294.26 347.73,294.24 348.16,294.21 348.60,294.19 349.03,294.16 349.47,294.14 349.90,294.11 350.34,294.09 350.77,294.06 351.21,294.04 351.64,294.01 352.08,293.99 352.51,293.96 352.95,293.93 353.38,293.91 353.82,293.88 354.25,293.86 354.69,293.83 355.12,293.81 355.56,293.78 355.99,293.75 356.43,293.73 356.86,293.70 357.30,293.67 357.73,293.65 358.17,293.62 358.60,293.60 359.04,293.57 359.47,293.54 359.91,293.52 360.34,293.49 360.78,293.46 361.21,293.43 361.65,293.41 362.08,293.38 362.52,293.35 362.95,293.32 363.39,293.30 363.82,293.27 364.26,293.24 364.69,293.21 365.13,293.19 365.56,293.16 366.00,293.13 366.43,293.10 366.87,293.07 367.30,293.04 367.74,293.01 368.17,292.98 368.61,292.96 369.04,292.93 369.48,292.90 369.91,292.87 370.35,292.84 370.78,292.81 371.22,292.78 371.65,292.75 372.08,292.72 372.52,292.69 372.95,292.65 373.39,292.62 373.82,292.59 374.26,292.56 374.69,292.53 375.13,292.50 375.56,292.47 376.00,292.43 376.43,292.40 376.87,292.37 377.30,292.34 377.74,292.30 378.17,292.27 378.61,292.23 379.04,292.20 379.48,292.17 379.91,292.13 380.35,292.10 380.78,292.06 381.22,292.03 381.65,291.99 382.09,291.96 382.52,291.92 382.96,291.88 383.39,291.85 383.83,291.81 384.26,291.77 384.70,291.73 385.13,291.70 385.57,291.66 386.00,291.62 386.44,291.58 386.87,291.54 387.31,291.50 387.74,291.46 388.18,291.42 388.61,291.38 389.05,291.33 389.48,291.29 389.92,291.25 390.35,291.21 390.79,291.16 391.22,291.12 391.66,291.07 392.09,291.03 392.53,290.98 392.96,290.94 393.40,290.89 393.83,290.84 394.27,290.79 394.70,290.75 395.14,290.70 395.57,290.65 396.01,290.60 396.44,290.55 396.88,290.49 397.31,290.44 397.75,290.39 398.18,290.34 398.62,290.28 399.05,290.23 399.49,290.17 399.92,290.11 400.36,290.06 400.79,290.00 401.23,289.94 401.66,289.88 402.09,289.82 402.53,289.76 402.96,289.69 403.40,289.63 403.83,289.56 404.27,289.50 404.70,289.43 405.14,289.36 405.57,289.30 406.01,289.23 406.44,289.16 406.88,289.08 407.31,289.01 407.75,288.94 408.18,288.86 408.62,288.78 409.05,288.71 409.49,288.63 409.92,288.55 410.36,288.46 410.79,288.38 411.23,288.30 411.66,288.21 412.10,288.12 412.53,288.03 412.97,287.94 413.40,287.85 413.84,287.76 414.27,287.66 414.71,287.56 415.14,287.46 415.58,287.36 416.01,287.26 416.45,287.15 416.88,287.05 417.32,286.94 417.75,286.83 418.19,286.72 418.62,286.60 419.06,286.49 419.49,286.37 419.93,286.24 420.36,286.12 420.80,285.99 421.23,285.87 421.67,285.74 422.10,285.60 422.54,285.47 422.97,285.33 423.41,285.19 423.84,285.04 424.28,284.89 424.71,284.74 425.15,284.59 425.58,284.44 426.02,284.28 426.45,284.11 426.89,283.95 427.32,283.78 427.76,283.61 428.19,283.43 428.63,283.25 429.06,283.07 429.50,282.88 429.93,282.69 430.37,282.50 430.80,282.30 431.24,282.09 431.67,281.89 432.10,281.68 432.54,281.46 432.97,281.24 433.41,281.01 433.84,280.78 434.28,280.55 434.71,280.31 435.15,280.07 435.58,279.82 436.02,279.56 436.45,279.30 436.89,279.03 437.32,278.76 437.76,278.48 438.19,278.20 438.63,277.91 439.06,277.61 439.50,277.31 439.93,277.00 440.37,276.69 440.80,276.36 441.24,276.03 441.67,275.70 442.11,275.35 442.54,275.00 442.98,274.64 443.41,274.27 443.85,273.90 444.28,273.51 444.72,273.12 445.15,272.72 445.59,272.31 446.02,271.89 446.46,271.46 446.89,271.02 447.33,270.58 447.76,270.12 448.20,269.65 448.63,269.17 449.07,268.68 449.50,268.18 449.94,267.67 450.37,267.15 450.81,266.61 451.24,266.07 451.68,265.51 452.11,264.94 452.55,264.35 452.98,263.76 453.42,263.15 453.85,262.52 454.29,261.88 454.72,261.23 455.16,260.56 455.59,259.88 456.03,259.18 456.46,258.47 456.90,257.74 457.33,256.99 457.77,256.23 458.20,255.44 458.64,254.65 459.07,253.83 459.51,252.99 459.94,252.14 460.38,251.26 460.81,250.37 461.25,249.45 461.68,248.52 462.11,247.56 462.55,246.58 462.98,245.58 463.42,244.55 463.85,243.50 464.29,242.43 464.72,241.33 465.16,240.21 465.59,239.06 466.03,237.89 466.46,236.69 466.90,235.46 467.33,234.20 467.77,232.91 468.20,231.60 468.64,230.25 469.07,228.87 469.51,227.46 469.94,226.02 470.38,224.55 470.81,223.04 471.25,221.49 471.68,219.91 472.12,218.30 472.55,216.64 472.99,214.95 473.42,213.22 473.86,211.45 474.29,209.64 474.73,207.78 475.16,205.88 475.60,203.94 476.03,201.96 476.47,199.92 476.90,197.84 477.34,195.72 477.77,193.54 478.21,191.31 478.64,189.03 479.08,186.70 479.51,184.31 479.95,181.87 480.38,179.37 480.82,176.82 481.25,174.20 481.69,171.52 482.12,168.78 482.56,165.98 482.99,163.11 483.43,160.18 483.86,157.17 484.30,154.10 484.73,150.95 485.17,147.73 485.60,144.44 486.04,141.07 486.47,137.62 486.91,134.09 487.34,130.48 487.78,126.79 488.21,123.00 488.65,119.13 489.08,115.17 489.52,111.12 489.95,106.97 490.39,102.73 490.82,98.39 491.26,93.94 491.69,89.40 492.12,84.74 492.56,79.98 492.99,75.10 493.43,70.12 493.86,65.01 494.30,59.79 494.73,54.44 495.17,48.97 495.60,43.37 496.04,37.64 496.47,31.78 496.91,25.78 497.34,19.64 497.78,13.36 498.21,6.92 498.65,0.34" fill="none" stroke="#4C66A2" stroke-width="2.8" stroke-linejoin="round" />
<rect x="139.33" y="301.99" width="6.2" height="6.2" fill="#4C66A2"/>
<rect x="150.65" y="301.40" width="6.2" height="6.2" fill="#4C66A2"/>
<rect x="161.97" y="300.81" width="6.2" height="6.2" fill="#4C66A2"/>
<rect x="173.29" y="300.21" width="6.2" height="6.2" fill="#4C66A2"/>
<rect x="184.61" y="299.62" width="6.2" height="6.2" fill="#4C66A2"/>
<rect x="195.93" y="299.02" width="6.2" height="6.2" fill="#4C66A2"/>
<rect x="207.25" y="298.43" width="6.2" height="6.2" fill="#4C66A2"/>
<rect x="218.57" y="297.84" width="6.2" height="6.2" fill="#4C66A2"/>
<rect x="229.89" y="297.24" width="6.2" height="6.2" fill="#4C66A2"/>
<rect x="241.22" y="296.65" width="6.2" height="6.2" fill="#4C66A2"/>
<rect x="252.54" y="296.06" width="6.2" height="6.2" fill="#4C66A2"/>
<rect x="263.86" y="295.46" width="6.2" height="6.2" fill="#4C66A2"/>
<rect x="275.18" y="294.87" width="6.2" height="6.2" fill="#4C66A2"/>
<rect x="286.50" y="294.27" width="6.2" height="6.2" fill="#4C66A2"/>
<rect x="297.82" y="293.68" width="6.2" height="6.2" fill="#4C66A2"/>
<rect x="309.14" y="293.08" width="6.2" height="6.2" fill="#4C66A2"/>
<rect x="320.46" y="292.47" width="6.2" height="6.2" fill="#4C66A2"/>
<rect x="331.78" y="291.86" width="6.2" height="6.2" fill="#4C66A2"/>
<rect x="343.10" y="291.22" width="6.2" height="6.2" fill="#4C66A2"/>
<rect x="354.42" y="290.56" width="6.2" height="6.2" fill="#4C66A2"/>
<rect x="365.74" y="289.84" width="6.2" height="6.2" fill="#4C66A2"/>
<rect x="377.06" y="289.01" width="6.2" height="6.2" fill="#4C66A2"/>
<rect x="388.38" y="287.99" width="6.2" height="6.2" fill="#4C66A2"/>
<rect x="399.70" y="286.62" width="6.2" height="6.2" fill="#4C66A2"/>
<rect x="409.92" y="284.83" width="6.2" height="6.2" fill="#4C66A2"/>
<rect x="420.13" y="282.14" width="6.2" height="6.2" fill="#4C66A2"/>
<rect x="430.34" y="277.90" width="6.2" height="6.2" fill="#4C66A2"/>
<rect x="440.55" y="270.97" width="6.2" height="6.2" fill="#4C66A2"/>
<rect x="450.76" y="259.40" width="6.2" height="6.2" fill="#4C66A2"/>
<rect x="460.98" y="239.86" width="6.2" height="6.2" fill="#4C66A2"/>
<rect x="471.19" y="206.56" width="6.2" height="6.2" fill="#4C66A2"/>
<rect x="481.40" y="149.53" width="6.2" height="6.2" fill="#4C66A2"/>
<rect x="491.61" y="51.62" width="6.2" height="6.2" fill="#4C66A2"/>
</g>
<line x1="222.70" y1="25.00" x2="222.70" y2="339.60" stroke="#000" stroke-width="2.4" />
<line x1="130.70" y1="82.60" x2="229.60" y2="82.60" stroke="#000" stroke-width="2.4" />
<line x1="390.60" y1="82.60" x2="521.60" y2="82.60" stroke="#000" stroke-width="2.4" />
<rect x="130.70" y="25.00" width="390.90" height="314.60" fill="none" stroke="#000" stroke-width="2.4"/>
<line x1="130.70" y1="339.60" x2="130.70" y2="345.60" stroke="#000" stroke-width="2.4" />
<line x1="176.70" y1="339.60" x2="176.70" y2="343.10" stroke="#000" stroke-width="2.4" />
<line x1="222.70" y1="339.60" x2="222.70" y2="345.60" stroke="#000" stroke-width="2.4" />
<line x1="268.70" y1="339.60" x2="268.70" y2="343.10" stroke="#000" stroke-width="2.4" />
<line x1="314.70" y1="339.60" x2="314.70" y2="345.60" stroke="#000" stroke-width="2.4" />
<line x1="360.70" y1="339.60" x2="360.70" y2="343.10" stroke="#000" stroke-width="2.4" />
<line x1="406.70" y1="339.60" x2="406.70" y2="345.60" stroke="#000" stroke-width="2.4" />
<line x1="452.70" y1="339.60" x2="452.70" y2="343.10" stroke="#000" stroke-width="2.4" />
<line x1="498.70" y1="339.60" x2="498.70" y2="345.60" stroke="#000" stroke-width="2.4" />
<text transform="translate(130.70,371.60) scale(1,1.075)" font-size="26.5" text-anchor="middle" fill="#000" >-0.4</text>
<text transform="translate(222.70,371.60) scale(1,1.075)" font-size="26.5" text-anchor="middle" fill="#000" >0.0</text>
<text transform="translate(314.70,371.60) scale(1,1.075)" font-size="26.5" text-anchor="middle" fill="#000" >0.4</text>
<text transform="translate(406.70,371.60) scale(1,1.075)" font-size="26.5" text-anchor="middle" fill="#000" >0.8</text>
<text transform="translate(498.70,371.60) scale(1,1.075)" font-size="26.5" text-anchor="middle" fill="#000" ><tspan font-family="NanumGothic" font-weight="800" font-size="24.30">1</tspan>.2</text>
<line x1="130.70" y1="33.20" x2="124.70" y2="33.20" stroke="#000" stroke-width="2.4" />
<line x1="130.70" y1="57.90" x2="127.20" y2="57.90" stroke="#000" stroke-width="2.4" />
<line x1="130.70" y1="82.60" x2="124.70" y2="82.60" stroke="#000" stroke-width="2.4" />
<line x1="130.70" y1="107.30" x2="127.20" y2="107.30" stroke="#000" stroke-width="2.4" />
<line x1="130.70" y1="132.00" x2="124.70" y2="132.00" stroke="#000" stroke-width="2.4" />
<line x1="130.70" y1="156.70" x2="127.20" y2="156.70" stroke="#000" stroke-width="2.4" />
<line x1="130.70" y1="181.40" x2="124.70" y2="181.40" stroke="#000" stroke-width="2.4" />
<line x1="130.70" y1="206.10" x2="127.20" y2="206.10" stroke="#000" stroke-width="2.4" />
<line x1="130.70" y1="230.80" x2="124.70" y2="230.80" stroke="#000" stroke-width="2.4" />
<line x1="130.70" y1="255.50" x2="127.20" y2="255.50" stroke="#000" stroke-width="2.4" />
<line x1="130.70" y1="280.20" x2="124.70" y2="280.20" stroke="#000" stroke-width="2.4" />
<line x1="130.70" y1="304.90" x2="127.20" y2="304.90" stroke="#000" stroke-width="2.4" />
<line x1="130.70" y1="329.60" x2="124.70" y2="329.60" stroke="#000" stroke-width="2.4" />
<text transform="translate(120.80,42.50) scale(1,1.075)" font-size="26.5" text-anchor="end" fill="#000" >5</text>
<text transform="translate(120.80,91.90) scale(1,1.075)" font-size="26.5" text-anchor="end" fill="#000" >0</text>
<text transform="translate(120.80,141.30) scale(1,1.075)" font-size="26.5" text-anchor="end" fill="#000" >-5</text>
<text transform="translate(120.80,190.70) scale(1,1.075)" font-size="26.5" text-anchor="end" fill="#000" >-<tspan font-family="NanumGothic" font-weight="800" font-size="24.30">1</tspan>0</text>
<text transform="translate(120.80,240.10) scale(1,1.075)" font-size="26.5" text-anchor="end" fill="#000" >-<tspan font-family="NanumGothic" font-weight="800" font-size="24.30">1</tspan>5</text>
<text transform="translate(120.80,289.50) scale(1,1.075)" font-size="26.5" text-anchor="end" fill="#000" >-20</text>
<text transform="translate(120.80,338.90) scale(1,1.075)" font-size="26.5" text-anchor="end" fill="#000" >-25</text>
<line x1="230.60" y1="40.40" x2="277.40" y2="40.40" stroke="#E00000" stroke-width="3.0" stroke-linecap="round"/>
<rect x="250.90" y="37.20" width="6.4" height="6.4" fill="#E00000"/>
<text transform="translate(283.15,47.90) scale(1,1.0)" font-size="21.7" text-anchor="start" fill="#000" >V<tspan font-size="13.6" dy="4.9">GS</tspan><tspan dy="-4.9"> = 0 V</tspan></text>
<line x1="230.60" y1="71.25" x2="277.40" y2="71.25" stroke="#EC8787" stroke-width="3.0" stroke-linecap="round"/>
<rect x="250.90" y="68.05" width="6.4" height="6.4" fill="#EC8787"/>
<text transform="translate(283.15,78.75) scale(1,1.0)" font-size="21.7" text-anchor="start" fill="#000" >V<tspan font-size="13.6" dy="4.9">GS</tspan><tspan dy="-4.9"> = 0.<tspan font-family="NanumGothic" font-weight="800" font-size="19.90">1</tspan> V</tspan></text>
<line x1="230.60" y1="102.10" x2="277.40" y2="102.10" stroke="#D6AEAE" stroke-width="3.0" stroke-linecap="round"/>
<rect x="250.90" y="98.90" width="6.4" height="6.4" fill="#D6AEAE"/>
<text transform="translate(283.15,109.60) scale(1,1.0)" font-size="21.7" text-anchor="start" fill="#000" >V<tspan font-size="13.6" dy="4.9">GS</tspan><tspan dy="-4.9"> = 0.3 V</tspan></text>
<line x1="230.60" y1="132.95" x2="277.40" y2="132.95" stroke="#74BACB" stroke-width="3.0" stroke-linecap="round"/>
<rect x="250.90" y="129.75" width="6.4" height="6.4" fill="#74BACB"/>
<text transform="translate(283.15,140.45) scale(1,1.0)" font-size="21.7" text-anchor="start" fill="#000" >V<tspan font-size="13.6" dy="4.9">GS</tspan><tspan dy="-4.9"> = 0.5 V</tspan></text>
<line x1="230.60" y1="163.80" x2="277.40" y2="163.80" stroke="#6F98B6" stroke-width="3.0" stroke-linecap="round"/>
<rect x="250.90" y="160.60" width="6.4" height="6.4" fill="#6F98B6"/>
<text transform="translate(283.15,171.30) scale(1,1.0)" font-size="21.7" text-anchor="start" fill="#000" >V<tspan font-size="13.6" dy="4.9">GS</tspan><tspan dy="-4.9"> = 0.7 V</tspan></text>
<line x1="230.60" y1="194.65" x2="277.40" y2="194.65" stroke="#4C66A2" stroke-width="3.0" stroke-linecap="round"/>
<rect x="250.90" y="191.45" width="6.4" height="6.4" fill="#4C66A2"/>
<text transform="translate(283.15,202.15) scale(1,1.0)" font-size="21.7" text-anchor="start" fill="#000" >V<tspan font-size="13.6" dy="4.9">GS</tspan><tspan dy="-4.9"> = 0.9 V</tspan></text>
<text transform="translate(242.80,409.50) scale(1,1.075)" font-size="30.25" text-anchor="start" fill="#000" >Voltage(V</text>
<text transform="translate(382.0,407.8) scale(1.32,0.97)" font-size="25.5" style="font-family:'Liberation Sans','Noto Sans CJK SC',sans-serif;font-weight:normal" fill="#000">）</text>
<text transform="translate(72.00,365.50) rotate(-90) scale(1.0,1.075)" font-size="30" text-anchor="start" fill="#000" >Curremt <tspan letter-spacing="-0.6">density </tspan><tspan font-size="30.6">(mA/cm</tspan><tspan font-size="20" dy="-12">2</tspan><tspan dy="12" font-size="30.6">)</tspan></text>
<text transform="translate(-1.45,49.60) scale(1,1.0)" font-size="49.5" text-anchor="start" fill="#000" >a</text>
<line x1="670.74" y1="283.00" x2="670.74" y2="307.40" stroke="#000" stroke-width="1.6" />
<line x1="666.94" y1="283.00" x2="674.54" y2="283.00" stroke="#000" stroke-width="1.6" />
<line x1="666.94" y1="307.40" x2="674.54" y2="307.40" stroke="#000" stroke-width="1.6" />
<line x1="712.82" y1="270.60" x2="712.82" y2="299.80" stroke="#000" stroke-width="1.6" />
<line x1="709.02" y1="270.60" x2="716.62" y2="270.60" stroke="#000" stroke-width="1.6" />
<line x1="709.02" y1="299.80" x2="716.62" y2="299.80" stroke="#000" stroke-width="1.6" />
<line x1="754.90" y1="251.60" x2="754.90" y2="291.40" stroke="#000" stroke-width="1.6" />
<line x1="751.10" y1="251.60" x2="758.70" y2="251.60" stroke="#000" stroke-width="1.6" />
<line x1="751.10" y1="291.40" x2="758.70" y2="291.40" stroke="#000" stroke-width="1.6" />
<line x1="796.98" y1="236.50" x2="796.98" y2="256.30" stroke="#000" stroke-width="1.6" />
<line x1="793.18" y1="236.50" x2="800.78" y2="236.50" stroke="#000" stroke-width="1.6" />
<line x1="793.18" y1="256.30" x2="800.78" y2="256.30" stroke="#000" stroke-width="1.6" />
<line x1="839.06" y1="192.60" x2="839.06" y2="232.20" stroke="#000" stroke-width="1.6" />
<line x1="835.26" y1="192.60" x2="842.86" y2="192.60" stroke="#000" stroke-width="1.6" />
<line x1="835.26" y1="232.20" x2="842.86" y2="232.20" stroke="#000" stroke-width="1.6" />
<line x1="860.10" y1="176.00" x2="860.10" y2="195.80" stroke="#000" stroke-width="1.6" />
<line x1="856.30" y1="176.00" x2="863.90" y2="176.00" stroke="#000" stroke-width="1.6" />
<line x1="856.30" y1="195.80" x2="863.90" y2="195.80" stroke="#000" stroke-width="1.6" />
<line x1="881.14" y1="141.00" x2="881.14" y2="172.80" stroke="#000" stroke-width="1.6" />
<line x1="877.34" y1="141.00" x2="884.94" y2="141.00" stroke="#000" stroke-width="1.6" />
<line x1="877.34" y1="172.80" x2="884.94" y2="172.80" stroke="#000" stroke-width="1.6" />
<line x1="923.22" y1="104.80" x2="923.22" y2="134.20" stroke="#000" stroke-width="1.6" />
<line x1="919.42" y1="104.80" x2="927.02" y2="104.80" stroke="#000" stroke-width="1.6" />
<line x1="919.42" y1="134.20" x2="927.02" y2="134.20" stroke="#000" stroke-width="1.6" />
<line x1="965.30" y1="68.70" x2="965.30" y2="108.30" stroke="#000" stroke-width="1.6" />
<line x1="961.50" y1="68.70" x2="969.10" y2="68.70" stroke="#000" stroke-width="1.6" />
<line x1="961.50" y1="108.30" x2="969.10" y2="108.30" stroke="#000" stroke-width="1.6" />
<line x1="1007.38" y1="58.60" x2="1007.38" y2="83.00" stroke="#000" stroke-width="1.6" />
<line x1="1003.58" y1="58.60" x2="1011.18" y2="58.60" stroke="#000" stroke-width="1.6" />
<line x1="1003.58" y1="83.00" x2="1011.18" y2="83.00" stroke="#000" stroke-width="1.6" />
<line x1="1049.46" y1="51.50" x2="1049.46" y2="71.10" stroke="#000" stroke-width="1.6" />
<line x1="1045.66" y1="51.50" x2="1053.26" y2="51.50" stroke="#000" stroke-width="1.6" />
<line x1="1045.66" y1="71.10" x2="1053.26" y2="71.10" stroke="#000" stroke-width="1.6" />
<polyline points="670.74,295.20 712.82,285.20 754.90,271.50 796.98,246.40 839.06,212.40 860.10,185.90 881.14,156.90 923.22,119.50 965.30,88.50 1007.38,70.80 1049.46,61.30" fill="none" stroke="#000" stroke-width="3.0" stroke-linejoin="round" />
<circle cx="670.74" cy="295.20" r="2.2" fill="#fff" stroke="#000" stroke-width="1.9"/>
<circle cx="712.82" cy="285.20" r="2.2" fill="#fff" stroke="#000" stroke-width="1.9"/>
<circle cx="754.90" cy="271.50" r="2.2" fill="#fff" stroke="#000" stroke-width="1.9"/>
<circle cx="796.98" cy="246.40" r="2.2" fill="#fff" stroke="#000" stroke-width="1.9"/>
<circle cx="839.06" cy="212.40" r="2.2" fill="#fff" stroke="#000" stroke-width="1.9"/>
<circle cx="860.10" cy="185.90" r="2.2" fill="#fff" stroke="#000" stroke-width="1.9"/>
<circle cx="881.14" cy="156.90" r="2.2" fill="#fff" stroke="#000" stroke-width="1.9"/>
<circle cx="923.22" cy="119.50" r="2.2" fill="#fff" stroke="#000" stroke-width="1.9"/>
<circle cx="965.30" cy="88.50" r="2.2" fill="#fff" stroke="#000" stroke-width="1.9"/>
<circle cx="1007.38" cy="70.80" r="2.2" fill="#fff" stroke="#000" stroke-width="1.9"/>
<circle cx="1049.46" cy="61.30" r="2.2" fill="#fff" stroke="#000" stroke-width="1.9"/>
<line x1="670.74" y1="301.90" x2="670.74" y2="316.90" stroke="#DA2E5E" stroke-width="1.6" />
<line x1="666.94" y1="301.90" x2="674.54" y2="301.90" stroke="#DA2E5E" stroke-width="1.6" />
<line x1="666.94" y1="316.90" x2="674.54" y2="316.90" stroke="#DA2E5E" stroke-width="1.6" />
<line x1="712.82" y1="275.30" x2="712.82" y2="289.50" stroke="#DA2E5E" stroke-width="1.6" />
<line x1="709.02" y1="275.30" x2="716.62" y2="275.30" stroke="#DA2E5E" stroke-width="1.6" />
<line x1="709.02" y1="289.50" x2="716.62" y2="289.50" stroke="#DA2E5E" stroke-width="1.6" />
<line x1="754.90" y1="248.00" x2="754.90" y2="267.20" stroke="#DA2E5E" stroke-width="1.6" />
<line x1="751.10" y1="248.00" x2="758.70" y2="248.00" stroke="#DA2E5E" stroke-width="1.6" />
<line x1="751.10" y1="267.20" x2="758.70" y2="267.20" stroke="#DA2E5E" stroke-width="1.6" />
<line x1="796.98" y1="224.60" x2="796.98" y2="238.80" stroke="#DA2E5E" stroke-width="1.6" />
<line x1="793.18" y1="224.60" x2="800.78" y2="224.60" stroke="#DA2E5E" stroke-width="1.6" />
<line x1="793.18" y1="238.80" x2="800.78" y2="238.80" stroke="#DA2E5E" stroke-width="1.6" />
<line x1="839.06" y1="192.30" x2="839.06" y2="208.50" stroke="#DA2E5E" stroke-width="1.6" />
<line x1="835.26" y1="192.30" x2="842.86" y2="192.30" stroke="#DA2E5E" stroke-width="1.6" />
<line x1="835.26" y1="208.50" x2="842.86" y2="208.50" stroke="#DA2E5E" stroke-width="1.6" />
<line x1="860.10" y1="178.30" x2="860.10" y2="191.30" stroke="#DA2E5E" stroke-width="1.6" />
<line x1="856.30" y1="178.30" x2="863.90" y2="178.30" stroke="#DA2E5E" stroke-width="1.6" />
<line x1="856.30" y1="191.30" x2="863.90" y2="191.30" stroke="#DA2E5E" stroke-width="1.6" />
<line x1="881.14" y1="154.60" x2="881.14" y2="174.20" stroke="#DA2E5E" stroke-width="1.6" />
<line x1="877.34" y1="154.60" x2="884.94" y2="154.60" stroke="#DA2E5E" stroke-width="1.6" />
<line x1="877.34" y1="174.20" x2="884.94" y2="174.20" stroke="#DA2E5E" stroke-width="1.6" />
<line x1="923.22" y1="115.70" x2="923.22" y2="134.70" stroke="#DA2E5E" stroke-width="1.6" />
<line x1="919.42" y1="115.70" x2="927.02" y2="115.70" stroke="#DA2E5E" stroke-width="1.6" />
<line x1="919.42" y1="134.70" x2="927.02" y2="134.70" stroke="#DA2E5E" stroke-width="1.6" />
<line x1="965.30" y1="74.30" x2="965.30" y2="98.10" stroke="#DA2E5E" stroke-width="1.6" />
<line x1="961.50" y1="74.30" x2="969.10" y2="74.30" stroke="#DA2E5E" stroke-width="1.6" />
<line x1="961.50" y1="98.10" x2="969.10" y2="98.10" stroke="#DA2E5E" stroke-width="1.6" />
<line x1="1007.38" y1="60.10" x2="1007.38" y2="81.50" stroke="#DA2E5E" stroke-width="1.6" />
<line x1="1003.58" y1="60.10" x2="1011.18" y2="60.10" stroke="#DA2E5E" stroke-width="1.6" />
<line x1="1003.58" y1="81.50" x2="1011.18" y2="81.50" stroke="#DA2E5E" stroke-width="1.6" />
<line x1="1049.46" y1="55.50" x2="1049.46" y2="74.70" stroke="#DA2E5E" stroke-width="1.6" />
<line x1="1045.66" y1="55.50" x2="1053.26" y2="55.50" stroke="#DA2E5E" stroke-width="1.6" />
<line x1="1045.66" y1="74.70" x2="1053.26" y2="74.70" stroke="#DA2E5E" stroke-width="1.6" />
<polyline points="670.74,309.40 712.82,282.40 754.90,257.60 796.98,231.70 839.06,200.40 860.10,184.80 881.14,164.40 923.22,125.20 965.30,86.20 1007.38,70.80 1049.46,65.10" fill="none" stroke="#DA2E5E" stroke-width="3.0" stroke-linejoin="round" />
<circle cx="670.74" cy="309.40" r="2.2" fill="#fff" stroke="#DA2E5E" stroke-width="1.9"/>
<circle cx="712.82" cy="282.40" r="2.2" fill="#fff" stroke="#DA2E5E" stroke-width="1.9"/>
<circle cx="754.90" cy="257.60" r="2.2" fill="#fff" stroke="#DA2E5E" stroke-width="1.9"/>
<circle cx="796.98" cy="231.70" r="2.2" fill="#fff" stroke="#DA2E5E" stroke-width="1.9"/>
<circle cx="839.06" cy="200.40" r="2.2" fill="#fff" stroke="#DA2E5E" stroke-width="1.9"/>
<circle cx="860.10" cy="184.80" r="2.2" fill="#fff" stroke="#DA2E5E" stroke-width="1.9"/>
<circle cx="881.14" cy="164.40" r="2.2" fill="#fff" stroke="#DA2E5E" stroke-width="1.9"/>
<circle cx="923.22" cy="125.20" r="2.2" fill="#fff" stroke="#DA2E5E" stroke-width="1.9"/>
<circle cx="965.30" cy="86.20" r="2.2" fill="#fff" stroke="#DA2E5E" stroke-width="1.9"/>
<circle cx="1007.38" cy="70.80" r="2.2" fill="#fff" stroke="#DA2E5E" stroke-width="1.9"/>
<circle cx="1049.46" cy="65.10" r="2.2" fill="#fff" stroke="#DA2E5E" stroke-width="1.9"/>
<ellipse cx="776.4" cy="249.6" rx="21.5" ry="12.8" fill="none" stroke="#000" stroke-width="3.9" stroke-dasharray="3.9,3.5"/>
<line x1="657.50" y1="249.60" x2="769.40" y2="249.60" stroke="#000" stroke-width="2.6" />
<polyline points="668.00,243.60 657.30,249.60 668.00,255.60" fill="none" stroke="#000" stroke-width="2.6" stroke-linejoin="round" />
<ellipse cx="924.0" cy="128.2" rx="21.6" ry="12.1" fill="none" stroke="#C00000" stroke-width="3.9" stroke-dasharray="3.9,3.5"/>
<line x1="936.50" y1="128.10" x2="1043.50" y2="128.10" stroke="#C00000" stroke-width="2.6" />
<polyline points="1032.00,122.30 1043.70,128.10 1032.00,133.90" fill="none" stroke="#C00000" stroke-width="2.6" stroke-linejoin="round" />
<line x1="649.60" y1="22.00" x2="1070.60" y2="22.00" stroke="#000" stroke-width="2.4" />
<line x1="649.60" y1="342.50" x2="1070.60" y2="342.50" stroke="#000" stroke-width="2.4" />
<line x1="649.60" y1="20.90" x2="649.60" y2="343.60" stroke="#000" stroke-width="2.4" />
<line x1="1070.60" y1="20.90" x2="1070.60" y2="343.60" stroke="#DA2E5E" stroke-width="2.4" />
<line x1="649.70" y1="342.50" x2="649.70" y2="346.00" stroke="#000" stroke-width="2.4" />
<line x1="691.78" y1="342.50" x2="691.78" y2="348.50" stroke="#000" stroke-width="2.4" />
<line x1="733.86" y1="342.50" x2="733.86" y2="346.00" stroke="#000" stroke-width="2.4" />
<line x1="775.94" y1="342.50" x2="775.94" y2="348.50" stroke="#000" stroke-width="2.4" />
<line x1="818.02" y1="342.50" x2="818.02" y2="346.00" stroke="#000" stroke-width="2.4" />
<line x1="860.10" y1="342.50" x2="860.10" y2="348.50" stroke="#000" stroke-width="2.4" />
<line x1="902.18" y1="342.50" x2="902.18" y2="346.00" stroke="#000" stroke-width="2.4" />
<line x1="944.26" y1="342.50" x2="944.26" y2="348.50" stroke="#000" stroke-width="2.4" />
<line x1="986.34" y1="342.50" x2="986.34" y2="346.00" stroke="#000" stroke-width="2.4" />
<line x1="1028.42" y1="342.50" x2="1028.42" y2="348.50" stroke="#000" stroke-width="2.4" />
<line x1="1070.50" y1="342.50" x2="1070.50" y2="346.00" stroke="#000" stroke-width="2.4" />
<text transform="translate(691.78,377.00) scale(1,1.095)" font-size="29.0" text-anchor="middle" fill="#000" >-0.8</text>
<text transform="translate(775.94,377.00) scale(1,1.095)" font-size="29.0" text-anchor="middle" fill="#000" >-0.4</text>
<text transform="translate(860.10,377.00) scale(1,1.095)" font-size="29.0" text-anchor="middle" fill="#000" >0.0</text>
<text transform="translate(944.26,377.00) scale(1,1.095)" font-size="29.0" text-anchor="middle" fill="#000" >0.4</text>
<text transform="translate(1028.42,377.00) scale(1,1.095)" font-size="29.0" text-anchor="middle" fill="#000" >0.8</text>
<line x1="649.60" y1="342.40" x2="643.60" y2="342.40" stroke="#000" stroke-width="2.4" />
<line x1="649.60" y1="293.12" x2="646.10" y2="293.12" stroke="#000" stroke-width="2.4" />
<line x1="649.60" y1="243.84" x2="643.60" y2="243.84" stroke="#000" stroke-width="2.4" />
<line x1="649.60" y1="194.56" x2="646.10" y2="194.56" stroke="#000" stroke-width="2.4" />
<line x1="649.60" y1="145.28" x2="643.60" y2="145.28" stroke="#000" stroke-width="2.4" />
<line x1="649.60" y1="96.00" x2="646.10" y2="96.00" stroke="#000" stroke-width="2.4" />
<line x1="649.60" y1="46.72" x2="643.60" y2="46.72" stroke="#000" stroke-width="2.4" />
<text transform="translate(639.20,352.40) scale(1,1.095)" font-size="29.0" text-anchor="end" fill="#000" >0.6</text>
<text transform="translate(639.20,253.84) scale(1,1.095)" font-size="29.0" text-anchor="end" fill="#000" >0.8</text>
<text transform="translate(639.20,155.28) scale(1,1.095)" font-size="29.0" text-anchor="end" fill="#000" ><tspan font-family="NanumGothic" font-weight="800" font-size="26.59">1</tspan>.0</text>
<text transform="translate(639.20,56.72) scale(1,1.095)" font-size="29.0" text-anchor="end" fill="#000" ><tspan font-family="NanumGothic" font-weight="800" font-size="26.59">1</tspan>.2</text>
<line x1="1070.60" y1="317.00" x2="1076.60" y2="317.00" stroke="#DA2E5E" stroke-width="2.4" />
<line x1="1070.60" y1="267.80" x2="1074.10" y2="267.80" stroke="#DA2E5E" stroke-width="2.4" />
<line x1="1070.60" y1="218.60" x2="1076.60" y2="218.60" stroke="#DA2E5E" stroke-width="2.4" />
<line x1="1070.60" y1="169.40" x2="1074.10" y2="169.40" stroke="#DA2E5E" stroke-width="2.4" />
<line x1="1070.60" y1="120.20" x2="1076.60" y2="120.20" stroke="#DA2E5E" stroke-width="2.4" />
<line x1="1070.60" y1="71.00" x2="1074.10" y2="71.00" stroke="#DA2E5E" stroke-width="2.4" />
<line x1="1070.60" y1="21.80" x2="1076.60" y2="21.80" stroke="#DA2E5E" stroke-width="2.4" />
<text transform="translate(1080.90,325.50) scale(1,1.075)" font-size="27.0" text-anchor="start" fill="#DA2E5E" ><tspan font-family="NanumGothic" font-weight="800" font-size="24.76">1</tspan>2</text>
<text transform="translate(1080.90,227.10) scale(1,1.075)" font-size="27.0" text-anchor="start" fill="#DA2E5E" ><tspan font-family="NanumGothic" font-weight="800" font-size="24.76">1</tspan>6</text>
<text transform="translate(1080.90,128.70) scale(1,1.075)" font-size="27.0" text-anchor="start" fill="#DA2E5E" >20</text>
<text transform="translate(1080.90,30.30) scale(1,1.075)" font-size="27.0" text-anchor="start" fill="#DA2E5E" >24</text>
<text transform="translate(812.50,406.80) scale(1,1.095)" font-size="29.4" text-anchor="start" fill="#000" >V<tspan font-size="19.3" dy="6">GS</tspan><tspan dy="-6"> (V)</tspan></text>
<text transform="translate(579.60,231.00) rotate(-90) scale(1.0,1.04)" font-size="30.3" text-anchor="start" fill="#000" >V<tspan font-size="19.8" dy="6.2">OC</tspan><tspan dy="-6.2"> (V)</tspan></text>
<text transform="translate(1146.00,275.00) rotate(-90) scale(1.0,1.04)" font-size="30.5" text-anchor="start" fill="#DA2E5E" >J<tspan font-size="19.8" dy="6.2">SC</tspan><tspan dy="-6.2"> (mA/cm</tspan><tspan font-size="19" dy="-12.5">2</tspan><tspan dy="12.5">)</tspan></text>
<text transform="translate(550.50,49.80) scale(1,1.0)" font-size="49.5" text-anchor="start" fill="#000" >b</text>
<line x1="1290.50" y1="299.00" x2="1290.50" y2="309.00" stroke="#000" stroke-width="1.6" />
<line x1="1286.70" y1="299.00" x2="1294.30" y2="299.00" stroke="#000" stroke-width="1.6" />
<line x1="1286.70" y1="309.00" x2="1294.30" y2="309.00" stroke="#000" stroke-width="1.6" />
<line x1="1328.72" y1="258.70" x2="1328.72" y2="271.30" stroke="#000" stroke-width="1.6" />
<line x1="1324.92" y1="258.70" x2="1332.52" y2="258.70" stroke="#000" stroke-width="1.6" />
<line x1="1324.92" y1="271.30" x2="1332.52" y2="271.30" stroke="#000" stroke-width="1.6" />
<line x1="1405.16" y1="194.30" x2="1405.16" y2="207.90" stroke="#000" stroke-width="1.6" />
<line x1="1401.36" y1="194.30" x2="1408.96" y2="194.30" stroke="#000" stroke-width="1.6" />
<line x1="1401.36" y1="207.90" x2="1408.96" y2="207.90" stroke="#000" stroke-width="1.6" />
<line x1="1481.60" y1="126.30" x2="1481.60" y2="142.90" stroke="#000" stroke-width="1.6" />
<line x1="1477.80" y1="126.30" x2="1485.40" y2="126.30" stroke="#000" stroke-width="1.6" />
<line x1="1477.80" y1="142.90" x2="1485.40" y2="142.90" stroke="#000" stroke-width="1.6" />
<line x1="1558.04" y1="89.30" x2="1558.04" y2="100.90" stroke="#000" stroke-width="1.6" />
<line x1="1554.24" y1="89.30" x2="1561.84" y2="89.30" stroke="#000" stroke-width="1.6" />
<line x1="1554.24" y1="100.90" x2="1561.84" y2="100.90" stroke="#000" stroke-width="1.6" />
<line x1="1634.48" y1="65.20" x2="1634.48" y2="80.80" stroke="#000" stroke-width="1.6" />
<line x1="1630.68" y1="65.20" x2="1638.28" y2="65.20" stroke="#000" stroke-width="1.6" />
<line x1="1630.68" y1="80.80" x2="1638.28" y2="80.80" stroke="#000" stroke-width="1.6" />
<polyline points="1290.50,304.00 1328.72,265.00 1405.16,201.10 1481.60,134.60 1558.04,95.10 1634.48,73.00" fill="none" stroke="#000" stroke-width="3.0" stroke-linejoin="round" />
<circle cx="1290.50" cy="304.00" r="2.2" fill="#fff" stroke="#000" stroke-width="1.9"/>
<circle cx="1328.72" cy="265.00" r="2.2" fill="#fff" stroke="#000" stroke-width="1.9"/>
<circle cx="1405.16" cy="201.10" r="2.2" fill="#fff" stroke="#000" stroke-width="1.9"/>
<circle cx="1481.60" cy="134.60" r="2.2" fill="#fff" stroke="#000" stroke-width="1.9"/>
<circle cx="1558.04" cy="95.10" r="2.2" fill="#fff" stroke="#000" stroke-width="1.9"/>
<circle cx="1634.48" cy="73.00" r="2.2" fill="#fff" stroke="#000" stroke-width="1.9"/>
<line x1="1290.50" y1="302.40" x2="1290.50" y2="317.60" stroke="#DA2E5E" stroke-width="1.6" />
<line x1="1286.70" y1="302.40" x2="1294.30" y2="302.40" stroke="#DA2E5E" stroke-width="1.6" />
<line x1="1286.70" y1="317.60" x2="1294.30" y2="317.60" stroke="#DA2E5E" stroke-width="1.6" />
<line x1="1328.72" y1="273.00" x2="1328.72" y2="288.20" stroke="#DA2E5E" stroke-width="1.6" />
<line x1="1324.92" y1="273.00" x2="1332.52" y2="273.00" stroke="#DA2E5E" stroke-width="1.6" />
<line x1="1324.92" y1="288.20" x2="1332.52" y2="288.20" stroke="#DA2E5E" stroke-width="1.6" />
<line x1="1405.16" y1="213.30" x2="1405.16" y2="232.50" stroke="#DA2E5E" stroke-width="1.6" />
<line x1="1401.36" y1="213.30" x2="1408.96" y2="213.30" stroke="#DA2E5E" stroke-width="1.6" />
<line x1="1401.36" y1="232.50" x2="1408.96" y2="232.50" stroke="#DA2E5E" stroke-width="1.6" />
<line x1="1481.60" y1="155.70" x2="1481.60" y2="179.50" stroke="#DA2E5E" stroke-width="1.6" />
<line x1="1477.80" y1="155.70" x2="1485.40" y2="155.70" stroke="#DA2E5E" stroke-width="1.6" />
<line x1="1477.80" y1="179.50" x2="1485.40" y2="179.50" stroke="#DA2E5E" stroke-width="1.6" />
<line x1="1558.04" y1="107.80" x2="1558.04" y2="123.00" stroke="#DA2E5E" stroke-width="1.6" />
<line x1="1554.24" y1="107.80" x2="1561.84" y2="107.80" stroke="#DA2E5E" stroke-width="1.6" />
<line x1="1554.24" y1="123.00" x2="1561.84" y2="123.00" stroke="#DA2E5E" stroke-width="1.6" />
<line x1="1634.48" y1="58.30" x2="1634.48" y2="81.90" stroke="#DA2E5E" stroke-width="1.6" />
<line x1="1630.68" y1="58.30" x2="1638.28" y2="58.30" stroke="#DA2E5E" stroke-width="1.6" />
<line x1="1630.68" y1="81.90" x2="1638.28" y2="81.90" stroke="#DA2E5E" stroke-width="1.6" />
<polyline points="1290.50,310.00 1328.72,280.60 1405.16,222.90 1481.60,167.60 1558.04,115.40 1634.48,70.10" fill="none" stroke="#DA2E5E" stroke-width="3.0" stroke-linejoin="round" />
<circle cx="1290.50" cy="310.00" r="2.2" fill="#fff" stroke="#DA2E5E" stroke-width="1.9"/>
<circle cx="1328.72" cy="280.60" r="2.2" fill="#fff" stroke="#DA2E5E" stroke-width="1.9"/>
<circle cx="1405.16" cy="222.90" r="2.2" fill="#fff" stroke="#DA2E5E" stroke-width="1.9"/>
<circle cx="1481.60" cy="167.60" r="2.2" fill="#fff" stroke="#DA2E5E" stroke-width="1.9"/>
<circle cx="1558.04" cy="115.40" r="2.2" fill="#fff" stroke="#DA2E5E" stroke-width="1.9"/>
<circle cx="1634.48" cy="70.10" r="2.2" fill="#fff" stroke="#DA2E5E" stroke-width="1.9"/>
<line x1="1252.40" y1="26.80" x2="1672.80" y2="26.80" stroke="#000" stroke-width="2.4" />
<line x1="1252.40" y1="340.30" x2="1672.80" y2="340.30" stroke="#000" stroke-width="2.4" />
<line x1="1252.40" y1="25.70" x2="1252.40" y2="341.40" stroke="#000" stroke-width="2.4" />
<line x1="1672.80" y1="25.70" x2="1672.80" y2="341.40" stroke="#DA2E5E" stroke-width="2.4" />
<line x1="1252.28" y1="340.30" x2="1252.28" y2="343.80" stroke="#000" stroke-width="2.4" />
<line x1="1290.50" y1="340.30" x2="1290.50" y2="346.30" stroke="#000" stroke-width="2.4" />
<line x1="1328.72" y1="340.30" x2="1328.72" y2="343.80" stroke="#000" stroke-width="2.4" />
<line x1="1366.94" y1="340.30" x2="1366.94" y2="346.30" stroke="#000" stroke-width="2.4" />
<line x1="1405.16" y1="340.30" x2="1405.16" y2="343.80" stroke="#000" stroke-width="2.4" />
<line x1="1443.38" y1="340.30" x2="1443.38" y2="346.30" stroke="#000" stroke-width="2.4" />
<line x1="1481.60" y1="340.30" x2="1481.60" y2="343.80" stroke="#000" stroke-width="2.4" />
<line x1="1519.82" y1="340.30" x2="1519.82" y2="346.30" stroke="#000" stroke-width="2.4" />
<line x1="1558.04" y1="340.30" x2="1558.04" y2="343.80" stroke="#000" stroke-width="2.4" />
<line x1="1596.26" y1="340.30" x2="1596.26" y2="346.30" stroke="#000" stroke-width="2.4" />
<line x1="1634.48" y1="340.30" x2="1634.48" y2="343.80" stroke="#000" stroke-width="2.4" />
<line x1="1672.70" y1="340.30" x2="1672.70" y2="346.30" stroke="#000" stroke-width="2.4" />
<text transform="translate(1290.50,371.60) scale(1,1.06)" font-size="27.2" text-anchor="middle" fill="#000" >0.0</text>
<text transform="translate(1366.94,371.60) scale(1,1.06)" font-size="27.2" text-anchor="middle" fill="#000" >0.2</text>
<text transform="translate(1443.38,371.60) scale(1,1.06)" font-size="27.2" text-anchor="middle" fill="#000" >0.4</text>
<text transform="translate(1519.82,371.60) scale(1,1.06)" font-size="27.2" text-anchor="middle" fill="#000" >0.6</text>
<text transform="translate(1596.26,371.60) scale(1,1.06)" font-size="27.2" text-anchor="middle" fill="#000" >0.8</text>
<text transform="translate(1672.70,371.60) scale(1,1.06)" font-size="27.2" text-anchor="middle" fill="#000" ><tspan font-family="NanumGothic" font-weight="800" font-size="24.94">1</tspan>.0</text>
<line x1="1252.40" y1="339.90" x2="1248.90" y2="339.90" stroke="#000" stroke-width="2.4" />
<line x1="1252.40" y1="311.50" x2="1246.40" y2="311.50" stroke="#000" stroke-width="2.4" />
<line x1="1252.40" y1="283.10" x2="1248.90" y2="283.10" stroke="#000" stroke-width="2.4" />
<line x1="1252.40" y1="254.70" x2="1246.40" y2="254.70" stroke="#000" stroke-width="2.4" />
<line x1="1252.40" y1="226.30" x2="1248.90" y2="226.30" stroke="#000" stroke-width="2.4" />
<line x1="1252.40" y1="197.90" x2="1246.40" y2="197.90" stroke="#000" stroke-width="2.4" />
<line x1="1252.40" y1="169.50" x2="1248.90" y2="169.50" stroke="#000" stroke-width="2.4" />
<line x1="1252.40" y1="141.10" x2="1246.40" y2="141.10" stroke="#000" stroke-width="2.4" />
<line x1="1252.40" y1="112.70" x2="1248.90" y2="112.70" stroke="#000" stroke-width="2.4" />
<line x1="1252.40" y1="84.30" x2="1246.40" y2="84.30" stroke="#000" stroke-width="2.4" />
<line x1="1252.40" y1="55.90" x2="1248.90" y2="55.90" stroke="#000" stroke-width="2.4" />
<line x1="1252.40" y1="27.50" x2="1246.40" y2="27.50" stroke="#000" stroke-width="2.4" />
<text transform="translate(1242.40,319.80) scale(1,1.03)" font-size="26.9" text-anchor="end" fill="#000" ><tspan font-family="NanumGothic" font-weight="800" font-size="24.67">1</tspan>0</text>
<text transform="translate(1242.40,263.00) scale(1,1.03)" font-size="26.9" text-anchor="end" fill="#000" ><tspan font-family="NanumGothic" font-weight="800" font-size="24.67">1</tspan>2</text>
<text transform="translate(1242.40,206.20) scale(1,1.03)" font-size="26.9" text-anchor="end" fill="#000" ><tspan font-family="NanumGothic" font-weight="800" font-size="24.67">1</tspan>4</text>
<text transform="translate(1242.40,149.40) scale(1,1.03)" font-size="26.9" text-anchor="end" fill="#000" ><tspan font-family="NanumGothic" font-weight="800" font-size="24.67">1</tspan>6</text>
<text transform="translate(1242.40,92.60) scale(1,1.03)" font-size="26.9" text-anchor="end" fill="#000" ><tspan font-family="NanumGothic" font-weight="800" font-size="24.67">1</tspan>8</text>
<text transform="translate(1242.40,35.80) scale(1,1.03)" font-size="26.9" text-anchor="end" fill="#000" >20</text>
<line x1="1672.80" y1="340.20" x2="1678.80" y2="340.20" stroke="#DA2E5E" stroke-width="2.4" />
<line x1="1672.80" y1="301.00" x2="1676.30" y2="301.00" stroke="#DA2E5E" stroke-width="2.4" />
<line x1="1672.80" y1="261.80" x2="1678.80" y2="261.80" stroke="#DA2E5E" stroke-width="2.4" />
<line x1="1672.80" y1="222.60" x2="1676.30" y2="222.60" stroke="#DA2E5E" stroke-width="2.4" />
<line x1="1672.80" y1="183.40" x2="1678.80" y2="183.40" stroke="#DA2E5E" stroke-width="2.4" />
<line x1="1672.80" y1="144.20" x2="1676.30" y2="144.20" stroke="#DA2E5E" stroke-width="2.4" />
<line x1="1672.80" y1="105.00" x2="1678.80" y2="105.00" stroke="#DA2E5E" stroke-width="2.4" />
<line x1="1672.80" y1="65.80" x2="1676.30" y2="65.80" stroke="#DA2E5E" stroke-width="2.4" />
<line x1="1672.80" y1="26.60" x2="1678.80" y2="26.60" stroke="#DA2E5E" stroke-width="2.4" />
<text transform="translate(1683.00,349.50) scale(1,1.06)" font-size="27.2" text-anchor="start" fill="#DA2E5E" >64</text>
<text transform="translate(1683.00,271.10) scale(1,1.06)" font-size="27.2" text-anchor="start" fill="#DA2E5E" >66</text>
<text transform="translate(1683.00,192.70) scale(1,1.06)" font-size="27.2" text-anchor="start" fill="#DA2E5E" >68</text>
<text transform="translate(1683.00,114.30) scale(1,1.06)" font-size="27.2" text-anchor="start" fill="#DA2E5E" >70</text>
<text transform="translate(1683.00,35.90) scale(1,1.06)" font-size="27.2" text-anchor="start" fill="#DA2E5E" >72</text>
<text transform="translate(1416.00,404.20) scale(1,1.06)" font-size="29.4" text-anchor="start" fill="#000" >V<tspan font-size="19.3" dy="6">GS</tspan><tspan dy="-6"> (V)</tspan></text>
<text transform="translate(1199.60,240.30) rotate(-90) scale(1.0,1.0)" font-size="29" text-anchor="start" fill="#000" >PCE (%)</text>
<text transform="translate(1742.60,228.30) rotate(-90) scale(1.0,1.0)" font-size="29" text-anchor="start" fill="#DA2E5E" >FF (%)</text>
<text transform="translate(1162.70,46.60) scale(1,1.0)" font-size="49.5" text-anchor="start" fill="#000" >c</text>
<defs><clipPath id="cd"><rect x="125.5" y="438.6" width="398.1" height="320.9"/></clipPath></defs>
<g clip-path="url(#cd)">
<polyline points="125.20,731.90 131.84,723.89 138.47,697.46 145.11,665.15 151.75,630.44 158.38,606.41 165.02,590.39 171.66,602.40 178.30,609.61 184.93,597.33 191.57,578.91 198.21,568.76 204.84,558.08 211.48,550.07 218.12,542.33 224.75,534.32 231.39,537.52 238.03,542.33 244.67,542.06 251.30,537.52 257.94,535.12 264.58,535.12 271.21,535.12 277.85,533.52 284.49,531.65 291.12,531.65 297.76,531.65 304.40,532.18 311.04,532.72 317.67,533.25 324.31,533.79 330.95,534.59 337.58,535.39 344.22,535.65 350.86,536.46 357.50,536.46 364.13,537.26 370.77,539.13 377.41,539.93 384.04,543.40 390.68,550.61 397.32,563.16 403.95,576.51 410.59,592.79 417.23,607.21 423.86,625.90 430.50,646.46 437.14,684.37 443.78,715.88 450.41,726.56 457.05,731.90 463.69,731.90 470.32,731.90 476.96,731.90 483.60,731.90 490.23,731.90" fill="none" stroke="#F45E5B" stroke-width="2.8" stroke-linejoin="round" />
<circle cx="125.20" cy="731.90" r="3.5" fill="#F45E5B"/><circle cx="124.70" cy="731.30" r="1.05" fill="#fff" fill-opacity="0.95"/>
<circle cx="131.84" cy="723.89" r="3.5" fill="#F45E5B"/><circle cx="131.34" cy="723.29" r="1.05" fill="#fff" fill-opacity="0.95"/>
<circle cx="138.47" cy="697.46" r="3.5" fill="#F45E5B"/><circle cx="137.97" cy="696.86" r="1.05" fill="#fff" fill-opacity="0.95"/>
<circle cx="145.11" cy="665.15" r="3.5" fill="#F45E5B"/><circle cx="144.61" cy="664.55" r="1.05" fill="#fff" fill-opacity="0.95"/>
<circle cx="151.75" cy="630.44" r="3.5" fill="#F45E5B"/><circle cx="151.25" cy="629.84" r="1.05" fill="#fff" fill-opacity="0.95"/>
<circle cx="158.38" cy="606.41" r="3.5" fill="#F45E5B"/><circle cx="157.88" cy="605.81" r="1.05" fill="#fff" fill-opacity="0.95"/>
<circle cx="165.02" cy="590.39" r="3.5" fill="#F45E5B"/><circle cx="164.52" cy="589.79" r="1.05" fill="#fff" fill-opacity="0.95"/>
<circle cx="171.66" cy="602.40" r="3.5" fill="#F45E5B"/><circle cx="171.16" cy="601.80" r="1.05" fill="#fff" fill-opacity="0.95"/>
<circle cx="178.30" cy="609.61" r="3.5" fill="#F45E5B"/><circle cx="177.80" cy="609.01" r="1.05" fill="#fff" fill-opacity="0.95"/>
<circle cx="184.93" cy="597.33" r="3.5" fill="#F45E5B"/><circle cx="184.43" cy="596.73" r="1.05" fill="#fff" fill-opacity="0.95"/>
<circle cx="191.57" cy="578.91" r="3.5" fill="#F45E5B"/><circle cx="191.07" cy="578.31" r="1.05" fill="#fff" fill-opacity="0.95"/>
<circle cx="198.21" cy="568.76" r="3.5" fill="#F45E5B"/><circle cx="197.71" cy="568.16" r="1.05" fill="#fff" fill-opacity="0.95"/>
<circle cx="204.84" cy="558.08" r="3.5" fill="#F45E5B"/><circle cx="204.34" cy="557.48" r="1.05" fill="#fff" fill-opacity="0.95"/>
<circle cx="211.48" cy="550.07" r="3.5" fill="#F45E5B"/><circle cx="210.98" cy="549.47" r="1.05" fill="#fff" fill-opacity="0.95"/>
<circle cx="218.12" cy="542.33" r="3.5" fill="#F45E5B"/><circle cx="217.62" cy="541.73" r="1.05" fill="#fff" fill-opacity="0.95"/>
<circle cx="224.75" cy="534.32" r="3.5" fill="#F45E5B"/><circle cx="224.25" cy="533.72" r="1.05" fill="#fff" fill-opacity="0.95"/>
<circle cx="231.39" cy="537.52" r="3.5" fill="#F45E5B"/><circle cx="230.89" cy="536.92" r="1.05" fill="#fff" fill-opacity="0.95"/>
<circle cx="238.03" cy="542.33" r="3.5" fill="#F45E5B"/><circle cx="237.53" cy="541.73" r="1.05" fill="#fff" fill-opacity="0.95"/>
<circle cx="244.67" cy="542.06" r="3.5" fill="#F45E5B"/><circle cx="244.17" cy="541.46" r="1.05" fill="#fff" fill-opacity="0.95"/>
<circle cx="251.30" cy="537.52" r="3.5" fill="#F45E5B"/><circle cx="250.80" cy="536.92" r="1.05" fill="#fff" fill-opacity="0.95"/>
<circle cx="257.94" cy="535.12" r="3.5" fill="#F45E5B"/><circle cx="257.44" cy="534.52" r="1.05" fill="#fff" fill-opacity="0.95"/>
<circle cx="264.58" cy="535.12" r="3.5" fill="#F45E5B"/><circle cx="264.08" cy="534.52" r="1.05" fill="#fff" fill-opacity="0.95"/>
<circle cx="271.21" cy="535.12" r="3.5" fill="#F45E5B"/><circle cx="270.71" cy="534.52" r="1.05" fill="#fff" fill-opacity="0.95"/>
<circle cx="277.85" cy="533.52" r="3.5" fill="#F45E5B"/><circle cx="277.35" cy="532.92" r="1.05" fill="#fff" fill-opacity="0.95"/>
<circle cx="284.49" cy="531.65" r="3.5" fill="#F45E5B"/><circle cx="283.99" cy="531.05" r="1.05" fill="#fff" fill-opacity="0.95"/>
<circle cx="291.12" cy="531.65" r="3.5" fill="#F45E5B"/><circle cx="290.62" cy="531.05" r="1.05" fill="#fff" fill-opacity="0.95"/>
<circle cx="297.76" cy="531.65" r="3.5" fill="#F45E5B"/><circle cx="297.26" cy="531.05" r="1.05" fill="#fff" fill-opacity="0.95"/>
<circle cx="304.40" cy="532.18" r="3.5" fill="#F45E5B"/><circle cx="303.90" cy="531.58" r="1.05" fill="#fff" fill-opacity="0.95"/>
<circle cx="311.04" cy="532.72" r="3.5" fill="#F45E5B"/><circle cx="310.54" cy="532.12" r="1.05" fill="#fff" fill-opacity="0.95"/>
<circle cx="317.67" cy="533.25" r="3.5" fill="#F45E5B"/><circle cx="317.17" cy="532.65" r="1.05" fill="#fff" fill-opacity="0.95"/>
<circle cx="324.31" cy="533.79" r="3.5" fill="#F45E5B"/><circle cx="323.81" cy="533.19" r="1.05" fill="#fff" fill-opacity="0.95"/>
<circle cx="330.95" cy="534.59" r="3.5" fill="#F45E5B"/><circle cx="330.45" cy="533.99" r="1.05" fill="#fff" fill-opacity="0.95"/>
<circle cx="337.58" cy="535.39" r="3.5" fill="#F45E5B"/><circle cx="337.08" cy="534.79" r="1.05" fill="#fff" fill-opacity="0.95"/>
<circle cx="344.22" cy="535.65" r="3.5" fill="#F45E5B"/><circle cx="343.72" cy="535.05" r="1.05" fill="#fff" fill-opacity="0.95"/>
<circle cx="350.86" cy="536.46" r="3.5" fill="#F45E5B"/><circle cx="350.36" cy="535.86" r="1.05" fill="#fff" fill-opacity="0.95"/>
<circle cx="357.50" cy="536.46" r="3.5" fill="#F45E5B"/><circle cx="357.00" cy="535.86" r="1.05" fill="#fff" fill-opacity="0.95"/>
<circle cx="364.13" cy="537.26" r="3.5" fill="#F45E5B"/><circle cx="363.63" cy="536.66" r="1.05" fill="#fff" fill-opacity="0.95"/>
<circle cx="370.77" cy="539.13" r="3.5" fill="#F45E5B"/><circle cx="370.27" cy="538.53" r="1.05" fill="#fff" fill-opacity="0.95"/>
<circle cx="377.41" cy="539.93" r="3.5" fill="#F45E5B"/><circle cx="376.91" cy="539.33" r="1.05" fill="#fff" fill-opacity="0.95"/>
<circle cx="384.04" cy="543.40" r="3.5" fill="#F45E5B"/><circle cx="383.54" cy="542.80" r="1.05" fill="#fff" fill-opacity="0.95"/>
<circle cx="390.68" cy="550.61" r="3.5" fill="#F45E5B"/><circle cx="390.18" cy="550.01" r="1.05" fill="#fff" fill-opacity="0.95"/>
<circle cx="397.32" cy="563.16" r="3.5" fill="#F45E5B"/><circle cx="396.82" cy="562.56" r="1.05" fill="#fff" fill-opacity="0.95"/>
<circle cx="403.95" cy="576.51" r="3.5" fill="#F45E5B"/><circle cx="403.45" cy="575.91" r="1.05" fill="#fff" fill-opacity="0.95"/>
<circle cx="410.59" cy="592.79" r="3.5" fill="#F45E5B"/><circle cx="410.09" cy="592.19" r="1.05" fill="#fff" fill-opacity="0.95"/>
<circle cx="417.23" cy="607.21" r="3.5" fill="#F45E5B"/><circle cx="416.73" cy="606.61" r="1.05" fill="#fff" fill-opacity="0.95"/>
<circle cx="423.86" cy="625.90" r="3.5" fill="#F45E5B"/><circle cx="423.36" cy="625.30" r="1.05" fill="#fff" fill-opacity="0.95"/>
<circle cx="430.50" cy="646.46" r="3.5" fill="#F45E5B"/><circle cx="430.00" cy="645.86" r="1.05" fill="#fff" fill-opacity="0.95"/>
<circle cx="437.14" cy="684.37" r="3.5" fill="#F45E5B"/><circle cx="436.64" cy="683.77" r="1.05" fill="#fff" fill-opacity="0.95"/>
<circle cx="443.78" cy="715.88" r="3.5" fill="#F45E5B"/><circle cx="443.28" cy="715.28" r="1.05" fill="#fff" fill-opacity="0.95"/>
<circle cx="450.41" cy="726.56" r="3.5" fill="#F45E5B"/><circle cx="449.91" cy="725.96" r="1.05" fill="#fff" fill-opacity="0.95"/>
<circle cx="457.05" cy="731.90" r="3.5" fill="#F45E5B"/><circle cx="456.55" cy="731.30" r="1.05" fill="#fff" fill-opacity="0.95"/>
<circle cx="463.69" cy="731.90" r="3.5" fill="#F45E5B"/><circle cx="463.19" cy="731.30" r="1.05" fill="#fff" fill-opacity="0.95"/>
<circle cx="470.32" cy="731.90" r="3.5" fill="#F45E5B"/><circle cx="469.82" cy="731.30" r="1.05" fill="#fff" fill-opacity="0.95"/>
<circle cx="476.96" cy="731.90" r="3.5" fill="#F45E5B"/><circle cx="476.46" cy="731.30" r="1.05" fill="#fff" fill-opacity="0.95"/>
<circle cx="483.60" cy="731.90" r="3.5" fill="#F45E5B"/><circle cx="483.10" cy="731.30" r="1.05" fill="#fff" fill-opacity="0.95"/>
<circle cx="490.23" cy="731.90" r="3.5" fill="#F45E5B"/><circle cx="489.73" cy="731.30" r="1.05" fill="#fff" fill-opacity="0.95"/>
<polyline points="125.20,731.90 131.84,725.49 138.47,705.20 145.11,673.16 151.75,643.79 158.38,614.69 165.02,594.66 171.66,583.18 178.30,586.12 184.93,593.06 191.57,601.07 198.21,582.38 204.84,564.49 211.48,553.81 218.12,542.33 224.75,530.85 231.39,517.23 238.03,522.04 244.67,521.50 251.30,516.96 257.94,520.17 264.58,524.44 271.21,524.98 277.85,523.11 284.49,522.30 291.12,521.77 297.76,522.30 304.40,522.57 311.04,522.84 317.67,523.11 324.31,523.91 330.95,523.91 337.58,523.91 344.22,523.64 350.86,523.37 357.50,523.11 364.13,523.11 370.77,522.84 377.41,522.84 384.04,524.98 390.68,528.71 397.32,532.72 403.95,539.93 410.59,550.61 417.23,577.04 423.86,611.75 430.50,651.80 437.14,683.84 443.78,713.21 450.41,729.23 457.05,731.90 463.69,731.90 470.32,731.90 476.96,731.90 483.60,731.90 490.23,731.90" fill="none" stroke="#E10000" stroke-width="2.8" stroke-linejoin="round" />
<circle cx="125.20" cy="731.90" r="3.5" fill="#E10000"/><circle cx="124.70" cy="731.30" r="1.05" fill="#fff" fill-opacity="0.95"/>
<circle cx="131.84" cy="725.49" r="3.5" fill="#E10000"/><circle cx="131.34" cy="724.89" r="1.05" fill="#fff" fill-opacity="0.95"/>
<circle cx="138.47" cy="705.20" r="3.5" fill="#E10000"/><circle cx="137.97" cy="704.60" r="1.05" fill="#fff" fill-opacity="0.95"/>
<circle cx="145.11" cy="673.16" r="3.5" fill="#E10000"/><circle cx="144.61" cy="672.56" r="1.05" fill="#fff" fill-opacity="0.95"/>
<circle cx="151.75" cy="643.79" r="3.5" fill="#E10000"/><circle cx="151.25" cy="643.19" r="1.05" fill="#fff" fill-opacity="0.95"/>
<circle cx="158.38" cy="614.69" r="3.5" fill="#E10000"/><circle cx="157.88" cy="614.09" r="1.05" fill="#fff" fill-opacity="0.95"/>
<circle cx="165.02" cy="594.66" r="3.5" fill="#E10000"/><circle cx="164.52" cy="594.06" r="1.05" fill="#fff" fill-opacity="0.95"/>
<circle cx="171.66" cy="583.18" r="3.5" fill="#E10000"/><circle cx="171.16" cy="582.58" r="1.05" fill="#fff" fill-opacity="0.95"/>
<circle cx="178.30" cy="586.12" r="3.5" fill="#E10000"/><circle cx="177.80" cy="585.52" r="1.05" fill="#fff" fill-opacity="0.95"/>
<circle cx="184.93" cy="593.06" r="3.5" fill="#E10000"/><circle cx="184.43" cy="592.46" r="1.05" fill="#fff" fill-opacity="0.95"/>
<circle cx="191.57" cy="601.07" r="3.5" fill="#E10000"/><circle cx="191.07" cy="600.47" r="1.05" fill="#fff" fill-opacity="0.95"/>
<circle cx="198.21" cy="582.38" r="3.5" fill="#E10000"/><circle cx="197.71" cy="581.78" r="1.05" fill="#fff" fill-opacity="0.95"/>
<circle cx="204.84" cy="564.49" r="3.5" fill="#E10000"/><circle cx="204.34" cy="563.89" r="1.05" fill="#fff" fill-opacity="0.95"/>
<circle cx="211.48" cy="553.81" r="3.5" fill="#E10000"/><circle cx="210.98" cy="553.21" r="1.05" fill="#fff" fill-opacity="0.95"/>
<circle cx="218.12" cy="542.33" r="3.5" fill="#E10000"/><circle cx="217.62" cy="541.73" r="1.05" fill="#fff" fill-opacity="0.95"/>
<circle cx="224.75" cy="530.85" r="3.5" fill="#E10000"/><circle cx="224.25" cy="530.25" r="1.05" fill="#fff" fill-opacity="0.95"/>
<circle cx="231.39" cy="517.23" r="3.5" fill="#E10000"/><circle cx="230.89" cy="516.63" r="1.05" fill="#fff" fill-opacity="0.95"/>
<circle cx="238.03" cy="522.04" r="3.5" fill="#E10000"/><circle cx="237.53" cy="521.44" r="1.05" fill="#fff" fill-opacity="0.95"/>
<circle cx="244.67" cy="521.50" r="3.5" fill="#E10000"/><circle cx="244.17" cy="520.90" r="1.05" fill="#fff" fill-opacity="0.95"/>
<circle cx="251.30" cy="516.96" r="3.5" fill="#E10000"/><circle cx="250.80" cy="516.36" r="1.05" fill="#fff" fill-opacity="0.95"/>
<circle cx="257.94" cy="520.17" r="3.5" fill="#E10000"/><circle cx="257.44" cy="519.57" r="1.05" fill="#fff" fill-opacity="0.95"/>
<circle cx="264.58" cy="524.44" r="3.5" fill="#E10000"/><circle cx="264.08" cy="523.84" r="1.05" fill="#fff" fill-opacity="0.95"/>
<circle cx="271.21" cy="524.98" r="3.5" fill="#E10000"/><circle cx="270.71" cy="524.38" r="1.05" fill="#fff" fill-opacity="0.95"/>
<circle cx="277.85" cy="523.11" r="3.5" fill="#E10000"/><circle cx="277.35" cy="522.51" r="1.05" fill="#fff" fill-opacity="0.95"/>
<circle cx="284.49" cy="522.30" r="3.5" fill="#E10000"/><circle cx="283.99" cy="521.70" r="1.05" fill="#fff" fill-opacity="0.95"/>
<circle cx="291.12" cy="521.77" r="3.5" fill="#E10000"/><circle cx="290.62" cy="521.17" r="1.05" fill="#fff" fill-opacity="0.95"/>
<circle cx="297.76" cy="522.30" r="3.5" fill="#E10000"/><circle cx="297.26" cy="521.70" r="1.05" fill="#fff" fill-opacity="0.95"/>
<circle cx="304.40" cy="522.57" r="3.5" fill="#E10000"/><circle cx="303.90" cy="521.97" r="1.05" fill="#fff" fill-opacity="0.95"/>
<circle cx="311.04" cy="522.84" r="3.5" fill="#E10000"/><circle cx="310.54" cy="522.24" r="1.05" fill="#fff" fill-opacity="0.95"/>
<circle cx="317.67" cy="523.11" r="3.5" fill="#E10000"/><circle cx="317.17" cy="522.51" r="1.05" fill="#fff" fill-opacity="0.95"/>
<circle cx="324.31" cy="523.91" r="3.5" fill="#E10000"/><circle cx="323.81" cy="523.31" r="1.05" fill="#fff" fill-opacity="0.95"/>
<circle cx="330.95" cy="523.91" r="3.5" fill="#E10000"/><circle cx="330.45" cy="523.31" r="1.05" fill="#fff" fill-opacity="0.95"/>
<circle cx="337.58" cy="523.91" r="3.5" fill="#E10000"/><circle cx="337.08" cy="523.31" r="1.05" fill="#fff" fill-opacity="0.95"/>
<circle cx="344.22" cy="523.64" r="3.5" fill="#E10000"/><circle cx="343.72" cy="523.04" r="1.05" fill="#fff" fill-opacity="0.95"/>
<circle cx="350.86" cy="523.37" r="3.5" fill="#E10000"/><circle cx="350.36" cy="522.77" r="1.05" fill="#fff" fill-opacity="0.95"/>
<circle cx="357.50" cy="523.11" r="3.5" fill="#E10000"/><circle cx="357.00" cy="522.51" r="1.05" fill="#fff" fill-opacity="0.95"/>
<circle cx="364.13" cy="523.11" r="3.5" fill="#E10000"/><circle cx="363.63" cy="522.51" r="1.05" fill="#fff" fill-opacity="0.95"/>
<circle cx="370.77" cy="522.84" r="3.5" fill="#E10000"/><circle cx="370.27" cy="522.24" r="1.05" fill="#fff" fill-opacity="0.95"/>
<circle cx="377.41" cy="522.84" r="3.5" fill="#E10000"/><circle cx="376.91" cy="522.24" r="1.05" fill="#fff" fill-opacity="0.95"/>
<circle cx="384.04" cy="524.98" r="3.5" fill="#E10000"/><circle cx="383.54" cy="524.38" r="1.05" fill="#fff" fill-opacity="0.95"/>
<circle cx="390.68" cy="528.71" r="3.5" fill="#E10000"/><circle cx="390.18" cy="528.11" r="1.05" fill="#fff" fill-opacity="0.95"/>
<circle cx="397.32" cy="532.72" r="3.5" fill="#E10000"/><circle cx="396.82" cy="532.12" r="1.05" fill="#fff" fill-opacity="0.95"/>
<circle cx="403.95" cy="539.93" r="3.5" fill="#E10000"/><circle cx="403.45" cy="539.33" r="1.05" fill="#fff" fill-opacity="0.95"/>
<circle cx="410.59" cy="550.61" r="3.5" fill="#E10000"/><circle cx="410.09" cy="550.01" r="1.05" fill="#fff" fill-opacity="0.95"/>
<circle cx="417.23" cy="577.04" r="3.5" fill="#E10000"/><circle cx="416.73" cy="576.44" r="1.05" fill="#fff" fill-opacity="0.95"/>
<circle cx="423.86" cy="611.75" r="3.5" fill="#E10000"/><circle cx="423.36" cy="611.15" r="1.05" fill="#fff" fill-opacity="0.95"/>
<circle cx="430.50" cy="651.80" r="3.5" fill="#E10000"/><circle cx="430.00" cy="651.20" r="1.05" fill="#fff" fill-opacity="0.95"/>
<circle cx="437.14" cy="683.84" r="3.5" fill="#E10000"/><circle cx="436.64" cy="683.24" r="1.05" fill="#fff" fill-opacity="0.95"/>
<circle cx="443.78" cy="713.21" r="3.5" fill="#E10000"/><circle cx="443.28" cy="712.61" r="1.05" fill="#fff" fill-opacity="0.95"/>
<circle cx="450.41" cy="729.23" r="3.5" fill="#E10000"/><circle cx="449.91" cy="728.63" r="1.05" fill="#fff" fill-opacity="0.95"/>
<circle cx="457.05" cy="731.90" r="3.5" fill="#E10000"/><circle cx="456.55" cy="731.30" r="1.05" fill="#fff" fill-opacity="0.95"/>
<circle cx="463.69" cy="731.90" r="3.5" fill="#E10000"/><circle cx="463.19" cy="731.30" r="1.05" fill="#fff" fill-opacity="0.95"/>
<circle cx="470.32" cy="731.90" r="3.5" fill="#E10000"/><circle cx="469.82" cy="731.30" r="1.05" fill="#fff" fill-opacity="0.95"/>
<circle cx="476.96" cy="731.90" r="3.5" fill="#E10000"/><circle cx="476.46" cy="731.30" r="1.05" fill="#fff" fill-opacity="0.95"/>
<circle cx="483.60" cy="731.90" r="3.5" fill="#E10000"/><circle cx="483.10" cy="731.30" r="1.05" fill="#fff" fill-opacity="0.95"/>
<circle cx="490.23" cy="731.90" r="3.5" fill="#E10000"/><circle cx="489.73" cy="731.30" r="1.05" fill="#fff" fill-opacity="0.95"/>
<polyline points="125.20,731.90 131.84,713.21 138.47,683.84 145.11,643.79 151.75,609.08 158.38,593.06 165.02,587.72 171.66,590.39 178.30,601.60 184.93,583.18 191.57,566.36 198.21,550.34 204.84,521.24 211.48,515.10 218.12,510.29 224.75,507.62 231.39,506.28 238.03,506.28 244.67,504.95 251.30,503.62 257.94,502.28 264.58,501.21 271.21,498.81 277.85,498.54 284.49,499.34 291.12,499.88 297.76,503.08 304.40,506.55 311.04,511.09 317.67,508.95 324.31,508.95 330.95,508.95 337.58,507.62 344.22,507.62 350.86,506.55 357.50,507.09 364.13,508.69 370.77,511.36 377.41,513.76 384.04,516.16 390.68,518.30 397.32,523.64 403.95,531.65 410.59,544.73 417.23,566.36 423.86,603.74 430.50,638.45 437.14,673.16 443.78,705.20 450.41,723.89 457.05,729.23 463.69,731.90 470.32,731.90 476.96,731.90 483.60,731.90 490.23,731.90 496.87,731.90 503.51,731.90 510.15,731.90 516.78,731.90 523.42,731.90" fill="none" stroke="#D6B0B0" stroke-width="2.8" stroke-linejoin="round" />
<circle cx="125.20" cy="731.90" r="3.5" fill="#D6B0B0"/><circle cx="124.70" cy="731.30" r="1.05" fill="#fff" fill-opacity="0.95"/>
<circle cx="131.84" cy="713.21" r="3.5" fill="#D6B0B0"/><circle cx="131.34" cy="712.61" r="1.05" fill="#fff" fill-opacity="0.95"/>
<circle cx="138.47" cy="683.84" r="3.5" fill="#D6B0B0"/><circle cx="137.97" cy="683.24" r="1.05" fill="#fff" fill-opacity="0.95"/>
<circle cx="145.11" cy="643.79" r="3.5" fill="#D6B0B0"/><circle cx="144.61" cy="643.19" r="1.05" fill="#fff" fill-opacity="0.95"/>
<circle cx="151.75" cy="609.08" r="3.5" fill="#D6B0B0"/><circle cx="151.25" cy="608.48" r="1.05" fill="#fff" fill-opacity="0.95"/>
<circle cx="158.38" cy="593.06" r="3.5" fill="#D6B0B0"/><circle cx="157.88" cy="592.46" r="1.05" fill="#fff" fill-opacity="0.95"/>
<circle cx="165.02" cy="587.72" r="3.5" fill="#D6B0B0"/><circle cx="164.52" cy="587.12" r="1.05" fill="#fff" fill-opacity="0.95"/>
<circle cx="171.66" cy="590.39" r="3.5" fill="#D6B0B0"/><circle cx="171.16" cy="589.79" r="1.05" fill="#fff" fill-opacity="0.95"/>
<circle cx="178.30" cy="601.60" r="3.5" fill="#D6B0B0"/><circle cx="177.80" cy="601.00" r="1.05" fill="#fff" fill-opacity="0.95"/>
<circle cx="184.93" cy="583.18" r="3.5" fill="#D6B0B0"/><circle cx="184.43" cy="582.58" r="1.05" fill="#fff" fill-opacity="0.95"/>
<circle cx="191.57" cy="566.36" r="3.5" fill="#D6B0B0"/><circle cx="191.07" cy="565.76" r="1.05" fill="#fff" fill-opacity="0.95"/>
<circle cx="198.21" cy="550.34" r="3.5" fill="#D6B0B0"/><circle cx="197.71" cy="549.74" r="1.05" fill="#fff" fill-opacity="0.95"/>
<circle cx="204.84" cy="521.24" r="3.5" fill="#D6B0B0"/><circle cx="204.34" cy="520.64" r="1.05" fill="#fff" fill-opacity="0.95"/>
<circle cx="211.48" cy="515.10" r="3.5" fill="#D6B0B0"/><circle cx="210.98" cy="514.50" r="1.05" fill="#fff" fill-opacity="0.95"/>
<circle cx="218.12" cy="510.29" r="3.5" fill="#D6B0B0"/><circle cx="217.62" cy="509.69" r="1.05" fill="#fff" fill-opacity="0.95"/>
<circle cx="224.75" cy="507.62" r="3.5" fill="#D6B0B0"/><circle cx="224.25" cy="507.02" r="1.05" fill="#fff" fill-opacity="0.95"/>
<circle cx="231.39" cy="506.28" r="3.5" fill="#D6B0B0"/><circle cx="230.89" cy="505.68" r="1.05" fill="#fff" fill-opacity="0.95"/>
<circle cx="238.03" cy="506.28" r="3.5" fill="#D6B0B0"/><circle cx="237.53" cy="505.68" r="1.05" fill="#fff" fill-opacity="0.95"/>
<circle cx="244.67" cy="504.95" r="3.5" fill="#D6B0B0"/><circle cx="244.17" cy="504.35" r="1.05" fill="#fff" fill-opacity="0.95"/>
<circle cx="251.30" cy="503.62" r="3.5" fill="#D6B0B0"/><circle cx="250.80" cy="503.01" r="1.05" fill="#fff" fill-opacity="0.95"/>
<circle cx="257.94" cy="502.28" r="3.5" fill="#D6B0B0"/><circle cx="257.44" cy="501.68" r="1.05" fill="#fff" fill-opacity="0.95"/>
<circle cx="264.58" cy="501.21" r="3.5" fill="#D6B0B0"/><circle cx="264.08" cy="500.61" r="1.05" fill="#fff" fill-opacity="0.95"/>
<circle cx="271.21" cy="498.81" r="3.5" fill="#D6B0B0"/><circle cx="270.71" cy="498.21" r="1.05" fill="#fff" fill-opacity="0.95"/>
<circle cx="277.85" cy="498.54" r="3.5" fill="#D6B0B0"/><circle cx="277.35" cy="497.94" r="1.05" fill="#fff" fill-opacity="0.95"/>
<circle cx="284.49" cy="499.34" r="3.5" fill="#D6B0B0"/><circle cx="283.99" cy="498.74" r="1.05" fill="#fff" fill-opacity="0.95"/>
<circle cx="291.12" cy="499.88" r="3.5" fill="#D6B0B0"/><circle cx="290.62" cy="499.28" r="1.05" fill="#fff" fill-opacity="0.95"/>
<circle cx="297.76" cy="503.08" r="3.5" fill="#D6B0B0"/><circle cx="297.26" cy="502.48" r="1.05" fill="#fff" fill-opacity="0.95"/>
<circle cx="304.40" cy="506.55" r="3.5" fill="#D6B0B0"/><circle cx="303.90" cy="505.95" r="1.05" fill="#fff" fill-opacity="0.95"/>
<circle cx="311.04" cy="511.09" r="3.5" fill="#D6B0B0"/><circle cx="310.54" cy="510.49" r="1.05" fill="#fff" fill-opacity="0.95"/>
<circle cx="317.67" cy="508.95" r="3.5" fill="#D6B0B0"/><circle cx="317.17" cy="508.35" r="1.05" fill="#fff" fill-opacity="0.95"/>
<circle cx="324.31" cy="508.95" r="3.5" fill="#D6B0B0"/><circle cx="323.81" cy="508.35" r="1.05" fill="#fff" fill-opacity="0.95"/>
<circle cx="330.95" cy="508.95" r="3.5" fill="#D6B0B0"/><circle cx="330.45" cy="508.35" r="1.05" fill="#fff" fill-opacity="0.95"/>
<circle cx="337.58" cy="507.62" r="3.5" fill="#D6B0B0"/><circle cx="337.08" cy="507.02" r="1.05" fill="#fff" fill-opacity="0.95"/>
<circle cx="344.22" cy="507.62" r="3.5" fill="#D6B0B0"/><circle cx="343.72" cy="507.02" r="1.05" fill="#fff" fill-opacity="0.95"/>
<circle cx="350.86" cy="506.55" r="3.5" fill="#D6B0B0"/><circle cx="350.36" cy="505.95" r="1.05" fill="#fff" fill-opacity="0.95"/>
<circle cx="357.50" cy="507.09" r="3.5" fill="#D6B0B0"/><circle cx="357.00" cy="506.49" r="1.05" fill="#fff" fill-opacity="0.95"/>
<circle cx="364.13" cy="508.69" r="3.5" fill="#D6B0B0"/><circle cx="363.63" cy="508.09" r="1.05" fill="#fff" fill-opacity="0.95"/>
<circle cx="370.77" cy="511.36" r="3.5" fill="#D6B0B0"/><circle cx="370.27" cy="510.76" r="1.05" fill="#fff" fill-opacity="0.95"/>
<circle cx="377.41" cy="513.76" r="3.5" fill="#D6B0B0"/><circle cx="376.91" cy="513.16" r="1.05" fill="#fff" fill-opacity="0.95"/>
<circle cx="384.04" cy="516.16" r="3.5" fill="#D6B0B0"/><circle cx="383.54" cy="515.56" r="1.05" fill="#fff" fill-opacity="0.95"/>
<circle cx="390.68" cy="518.30" r="3.5" fill="#D6B0B0"/><circle cx="390.18" cy="517.70" r="1.05" fill="#fff" fill-opacity="0.95"/>
<circle cx="397.32" cy="523.64" r="3.5" fill="#D6B0B0"/><circle cx="396.82" cy="523.04" r="1.05" fill="#fff" fill-opacity="0.95"/>
<circle cx="403.95" cy="531.65" r="3.5" fill="#D6B0B0"/><circle cx="403.45" cy="531.05" r="1.05" fill="#fff" fill-opacity="0.95"/>
<circle cx="410.59" cy="544.73" r="3.5" fill="#D6B0B0"/><circle cx="410.09" cy="544.13" r="1.05" fill="#fff" fill-opacity="0.95"/>
<circle cx="417.23" cy="566.36" r="3.5" fill="#D6B0B0"/><circle cx="416.73" cy="565.76" r="1.05" fill="#fff" fill-opacity="0.95"/>
<circle cx="423.86" cy="603.74" r="3.5" fill="#D6B0B0"/><circle cx="423.36" cy="603.14" r="1.05" fill="#fff" fill-opacity="0.95"/>
<circle cx="430.50" cy="638.45" r="3.5" fill="#D6B0B0"/><circle cx="430.00" cy="637.85" r="1.05" fill="#fff" fill-opacity="0.95"/>
<circle cx="437.14" cy="673.16" r="3.5" fill="#D6B0B0"/><circle cx="436.64" cy="672.56" r="1.05" fill="#fff" fill-opacity="0.95"/>
<circle cx="443.78" cy="705.20" r="3.5" fill="#D6B0B0"/><circle cx="443.28" cy="704.60" r="1.05" fill="#fff" fill-opacity="0.95"/>
<circle cx="450.41" cy="723.89" r="3.5" fill="#D6B0B0"/><circle cx="449.91" cy="723.29" r="1.05" fill="#fff" fill-opacity="0.95"/>
<circle cx="457.05" cy="729.23" r="3.5" fill="#D6B0B0"/><circle cx="456.55" cy="728.63" r="1.05" fill="#fff" fill-opacity="0.95"/>
<circle cx="463.69" cy="731.90" r="3.5" fill="#D6B0B0"/><circle cx="463.19" cy="731.30" r="1.05" fill="#fff" fill-opacity="0.95"/>
<circle cx="470.32" cy="731.90" r="3.5" fill="#D6B0B0"/><circle cx="469.82" cy="731.30" r="1.05" fill="#fff" fill-opacity="0.95"/>
<circle cx="476.96" cy="731.90" r="3.5" fill="#D6B0B0"/><circle cx="476.46" cy="731.30" r="1.05" fill="#fff" fill-opacity="0.95"/>
<circle cx="483.60" cy="731.90" r="3.5" fill="#D6B0B0"/><circle cx="483.10" cy="731.30" r="1.05" fill="#fff" fill-opacity="0.95"/>
<circle cx="490.23" cy="731.90" r="3.5" fill="#D6B0B0"/><circle cx="489.73" cy="731.30" r="1.05" fill="#fff" fill-opacity="0.95"/>
<circle cx="496.87" cy="731.90" r="3.5" fill="#D6B0B0"/><circle cx="496.37" cy="731.30" r="1.05" fill="#fff" fill-opacity="0.95"/>
<circle cx="503.51" cy="731.90" r="3.5" fill="#D6B0B0"/><circle cx="503.01" cy="731.30" r="1.05" fill="#fff" fill-opacity="0.95"/>
<circle cx="510.15" cy="731.90" r="3.5" fill="#D6B0B0"/><circle cx="509.65" cy="731.30" r="1.05" fill="#fff" fill-opacity="0.95"/>
<circle cx="516.78" cy="731.90" r="3.5" fill="#D6B0B0"/><circle cx="516.28" cy="731.30" r="1.05" fill="#fff" fill-opacity="0.95"/>
<circle cx="523.42" cy="731.90" r="3.5" fill="#D6B0B0"/><circle cx="522.92" cy="731.30" r="1.05" fill="#fff" fill-opacity="0.95"/>
<polyline points="125.20,731.90 131.84,715.88 138.47,689.18 145.11,651.80 151.75,611.75 158.38,585.05 165.02,566.36 171.66,558.08 178.30,561.02 184.93,563.69 191.57,547.40 198.21,535.92 204.84,529.51 211.48,518.30 218.12,515.90 224.75,511.89 231.39,508.95 238.03,510.29 244.67,510.29 251.30,510.29 257.94,510.02 264.58,507.89 271.21,505.22 277.85,499.34 284.49,494.00 291.12,490.80 297.76,488.93 304.40,488.40 311.04,487.33 317.67,487.33 324.31,487.33 330.95,489.20 337.58,486.79 344.22,489.20 350.86,491.33 357.50,494.80 364.13,495.61 370.77,496.94 377.41,503.08 384.04,510.02 390.68,514.29 397.32,523.91 403.95,536.99 410.59,555.68 417.23,582.38 423.86,614.42 430.50,646.46 437.14,673.16 443.78,705.20 450.41,726.56 457.05,731.90 463.69,731.90 470.32,731.90 476.96,731.90 483.60,731.90 490.23,731.90" fill="none" stroke="#7CC0D0" stroke-width="2.8" stroke-linejoin="round" />
<circle cx="125.20" cy="731.90" r="3.5" fill="#7CC0D0"/><circle cx="124.70" cy="731.30" r="1.05" fill="#fff" fill-opacity="0.95"/>
<circle cx="131.84" cy="715.88" r="3.5" fill="#7CC0D0"/><circle cx="131.34" cy="715.28" r="1.05" fill="#fff" fill-opacity="0.95"/>
<circle cx="138.47" cy="689.18" r="3.5" fill="#7CC0D0"/><circle cx="137.97" cy="688.58" r="1.05" fill="#fff" fill-opacity="0.95"/>
<circle cx="145.11" cy="651.80" r="3.5" fill="#7CC0D0"/><circle cx="144.61" cy="651.20" r="1.05" fill="#fff" fill-opacity="0.95"/>
<circle cx="151.75" cy="611.75" r="3.5" fill="#7CC0D0"/><circle cx="151.25" cy="611.15" r="1.05" fill="#fff" fill-opacity="0.95"/>
<circle cx="158.38" cy="585.05" r="3.5" fill="#7CC0D0"/><circle cx="157.88" cy="584.45" r="1.05" fill="#fff" fill-opacity="0.95"/>
<circle cx="165.02" cy="566.36" r="3.5" fill="#7CC0D0"/><circle cx="164.52" cy="565.76" r="1.05" fill="#fff" fill-opacity="0.95"/>
<circle cx="171.66" cy="558.08" r="3.5" fill="#7CC0D0"/><circle cx="171.16" cy="557.48" r="1.05" fill="#fff" fill-opacity="0.95"/>
<circle cx="178.30" cy="561.02" r="3.5" fill="#7CC0D0"/><circle cx="177.80" cy="560.42" r="1.05" fill="#fff" fill-opacity="0.95"/>
<circle cx="184.93" cy="563.69" r="3.5" fill="#7CC0D0"/><circle cx="184.43" cy="563.09" r="1.05" fill="#fff" fill-opacity="0.95"/>
<circle cx="191.57" cy="547.40" r="3.5" fill="#7CC0D0"/><circle cx="191.07" cy="546.80" r="1.05" fill="#fff" fill-opacity="0.95"/>
<circle cx="198.21" cy="535.92" r="3.5" fill="#7CC0D0"/><circle cx="197.71" cy="535.32" r="1.05" fill="#fff" fill-opacity="0.95"/>
<circle cx="204.84" cy="529.51" r="3.5" fill="#7CC0D0"/><circle cx="204.34" cy="528.91" r="1.05" fill="#fff" fill-opacity="0.95"/>
<circle cx="211.48" cy="518.30" r="3.5" fill="#7CC0D0"/><circle cx="210.98" cy="517.70" r="1.05" fill="#fff" fill-opacity="0.95"/>
<circle cx="218.12" cy="515.90" r="3.5" fill="#7CC0D0"/><circle cx="217.62" cy="515.30" r="1.05" fill="#fff" fill-opacity="0.95"/>
<circle cx="224.75" cy="511.89" r="3.5" fill="#7CC0D0"/><circle cx="224.25" cy="511.29" r="1.05" fill="#fff" fill-opacity="0.95"/>
<circle cx="231.39" cy="508.95" r="3.5" fill="#7CC0D0"/><circle cx="230.89" cy="508.35" r="1.05" fill="#fff" fill-opacity="0.95"/>
<circle cx="238.03" cy="510.29" r="3.5" fill="#7CC0D0"/><circle cx="237.53" cy="509.69" r="1.05" fill="#fff" fill-opacity="0.95"/>
<circle cx="244.67" cy="510.29" r="3.5" fill="#7CC0D0"/><circle cx="244.17" cy="509.69" r="1.05" fill="#fff" fill-opacity="0.95"/>
<circle cx="251.30" cy="510.29" r="3.5" fill="#7CC0D0"/><circle cx="250.80" cy="509.69" r="1.05" fill="#fff" fill-opacity="0.95"/>
<circle cx="257.94" cy="510.02" r="3.5" fill="#7CC0D0"/><circle cx="257.44" cy="509.42" r="1.05" fill="#fff" fill-opacity="0.95"/>
<circle cx="264.58" cy="507.89" r="3.5" fill="#7CC0D0"/><circle cx="264.08" cy="507.29" r="1.05" fill="#fff" fill-opacity="0.95"/>
<circle cx="271.21" cy="505.22" r="3.5" fill="#7CC0D0"/><circle cx="270.71" cy="504.62" r="1.05" fill="#fff" fill-opacity="0.95"/>
<circle cx="277.85" cy="499.34" r="3.5" fill="#7CC0D0"/><circle cx="277.35" cy="498.74" r="1.05" fill="#fff" fill-opacity="0.95"/>
<circle cx="284.49" cy="494.00" r="3.5" fill="#7CC0D0"/><circle cx="283.99" cy="493.40" r="1.05" fill="#fff" fill-opacity="0.95"/>
<circle cx="291.12" cy="490.80" r="3.5" fill="#7CC0D0"/><circle cx="290.62" cy="490.20" r="1.05" fill="#fff" fill-opacity="0.95"/>
<circle cx="297.76" cy="488.93" r="3.5" fill="#7CC0D0"/><circle cx="297.26" cy="488.33" r="1.05" fill="#fff" fill-opacity="0.95"/>
<circle cx="304.40" cy="488.40" r="3.5" fill="#7CC0D0"/><circle cx="303.90" cy="487.80" r="1.05" fill="#fff" fill-opacity="0.95"/>
<circle cx="311.04" cy="487.33" r="3.5" fill="#7CC0D0"/><circle cx="310.54" cy="486.73" r="1.05" fill="#fff" fill-opacity="0.95"/>
<circle cx="317.67" cy="487.33" r="3.5" fill="#7CC0D0"/><circle cx="317.17" cy="486.73" r="1.05" fill="#fff" fill-opacity="0.95"/>
<circle cx="324.31" cy="487.33" r="3.5" fill="#7CC0D0"/><circle cx="323.81" cy="486.73" r="1.05" fill="#fff" fill-opacity="0.95"/>
<circle cx="330.95" cy="489.20" r="3.5" fill="#7CC0D0"/><circle cx="330.45" cy="488.60" r="1.05" fill="#fff" fill-opacity="0.95"/>
<circle cx="337.58" cy="486.79" r="3.5" fill="#7CC0D0"/><circle cx="337.08" cy="486.19" r="1.05" fill="#fff" fill-opacity="0.95"/>
<circle cx="344.22" cy="489.20" r="3.5" fill="#7CC0D0"/><circle cx="343.72" cy="488.60" r="1.05" fill="#fff" fill-opacity="0.95"/>
<circle cx="350.86" cy="491.33" r="3.5" fill="#7CC0D0"/><circle cx="350.36" cy="490.73" r="1.05" fill="#fff" fill-opacity="0.95"/>
<circle cx="357.50" cy="494.80" r="3.5" fill="#7CC0D0"/><circle cx="357.00" cy="494.20" r="1.05" fill="#fff" fill-opacity="0.95"/>
<circle cx="364.13" cy="495.61" r="3.5" fill="#7CC0D0"/><circle cx="363.63" cy="495.00" r="1.05" fill="#fff" fill-opacity="0.95"/>
<circle cx="370.77" cy="496.94" r="3.5" fill="#7CC0D0"/><circle cx="370.27" cy="496.34" r="1.05" fill="#fff" fill-opacity="0.95"/>
<circle cx="377.41" cy="503.08" r="3.5" fill="#7CC0D0"/><circle cx="376.91" cy="502.48" r="1.05" fill="#fff" fill-opacity="0.95"/>
<circle cx="384.04" cy="510.02" r="3.5" fill="#7CC0D0"/><circle cx="383.54" cy="509.42" r="1.05" fill="#fff" fill-opacity="0.95"/>
<circle cx="390.68" cy="514.29" r="3.5" fill="#7CC0D0"/><circle cx="390.18" cy="513.69" r="1.05" fill="#fff" fill-opacity="0.95"/>
<circle cx="397.32" cy="523.91" r="3.5" fill="#7CC0D0"/><circle cx="396.82" cy="523.31" r="1.05" fill="#fff" fill-opacity="0.95"/>
<circle cx="403.95" cy="536.99" r="3.5" fill="#7CC0D0"/><circle cx="403.45" cy="536.39" r="1.05" fill="#fff" fill-opacity="0.95"/>
<circle cx="410.59" cy="555.68" r="3.5" fill="#7CC0D0"/><circle cx="410.09" cy="555.08" r="1.05" fill="#fff" fill-opacity="0.95"/>
<circle cx="417.23" cy="582.38" r="3.5" fill="#7CC0D0"/><circle cx="416.73" cy="581.78" r="1.05" fill="#fff" fill-opacity="0.95"/>
<circle cx="423.86" cy="614.42" r="3.5" fill="#7CC0D0"/><circle cx="423.36" cy="613.82" r="1.05" fill="#fff" fill-opacity="0.95"/>
<circle cx="430.50" cy="646.46" r="3.5" fill="#7CC0D0"/><circle cx="430.00" cy="645.86" r="1.05" fill="#fff" fill-opacity="0.95"/>
<circle cx="437.14" cy="673.16" r="3.5" fill="#7CC0D0"/><circle cx="436.64" cy="672.56" r="1.05" fill="#fff" fill-opacity="0.95"/>
<circle cx="443.78" cy="705.20" r="3.5" fill="#7CC0D0"/><circle cx="443.28" cy="704.60" r="1.05" fill="#fff" fill-opacity="0.95"/>
<circle cx="450.41" cy="726.56" r="3.5" fill="#7CC0D0"/><circle cx="449.91" cy="725.96" r="1.05" fill="#fff" fill-opacity="0.95"/>
<circle cx="457.05" cy="731.90" r="3.5" fill="#7CC0D0"/><circle cx="456.55" cy="731.30" r="1.05" fill="#fff" fill-opacity="0.95"/>
<circle cx="463.69" cy="731.90" r="3.5" fill="#7CC0D0"/><circle cx="463.19" cy="731.30" r="1.05" fill="#fff" fill-opacity="0.95"/>
<circle cx="470.32" cy="731.90" r="3.5" fill="#7CC0D0"/><circle cx="469.82" cy="731.30" r="1.05" fill="#fff" fill-opacity="0.95"/>
<circle cx="476.96" cy="731.90" r="3.5" fill="#7CC0D0"/><circle cx="476.46" cy="731.30" r="1.05" fill="#fff" fill-opacity="0.95"/>
<circle cx="483.60" cy="731.90" r="3.5" fill="#7CC0D0"/><circle cx="483.10" cy="731.30" r="1.05" fill="#fff" fill-opacity="0.95"/>
<circle cx="490.23" cy="731.90" r="3.5" fill="#7CC0D0"/><circle cx="489.73" cy="731.30" r="1.05" fill="#fff" fill-opacity="0.95"/>
<polyline points="125.20,731.90 131.84,710.54 138.47,678.50 145.11,643.79 151.75,598.40 158.38,579.71 165.02,563.69 171.66,558.35 178.30,561.02 184.93,568.76 191.57,561.55 198.21,549.27 204.84,541.53 211.48,526.31 218.12,515.63 224.75,508.95 231.39,508.42 238.03,508.69 244.67,508.95 251.30,507.89 257.94,501.21 264.58,495.87 271.21,488.66 277.85,486.26 284.49,484.92 291.12,483.59 297.76,483.06 304.40,482.25 311.04,480.92 317.67,480.12 324.31,479.58 330.95,479.58 337.58,479.58 344.22,479.58 350.86,481.45 357.50,481.45 364.13,486.26 370.77,491.60 377.41,496.94 384.04,502.28 390.68,507.62 397.32,513.23 403.95,526.31 410.59,550.34 417.23,579.71 423.86,617.09 430.50,649.13 437.14,673.16 443.78,702.53 450.41,726.56 457.05,731.90 463.69,731.90 470.32,731.90 476.96,731.90 483.60,731.90 490.23,731.90" fill="none" stroke="#6F9AB6" stroke-width="2.8" stroke-linejoin="round" />
<circle cx="125.20" cy="731.90" r="3.5" fill="#6F9AB6"/><circle cx="124.70" cy="731.30" r="1.05" fill="#fff" fill-opacity="0.95"/>
<circle cx="131.84" cy="710.54" r="3.5" fill="#6F9AB6"/><circle cx="131.34" cy="709.94" r="1.05" fill="#fff" fill-opacity="0.95"/>
<circle cx="138.47" cy="678.50" r="3.5" fill="#6F9AB6"/><circle cx="137.97" cy="677.90" r="1.05" fill="#fff" fill-opacity="0.95"/>
<circle cx="145.11" cy="643.79" r="3.5" fill="#6F9AB6"/><circle cx="144.61" cy="643.19" r="1.05" fill="#fff" fill-opacity="0.95"/>
<circle cx="151.75" cy="598.40" r="3.5" fill="#6F9AB6"/><circle cx="151.25" cy="597.80" r="1.05" fill="#fff" fill-opacity="0.95"/>
<circle cx="158.38" cy="579.71" r="3.5" fill="#6F9AB6"/><circle cx="157.88" cy="579.11" r="1.05" fill="#fff" fill-opacity="0.95"/>
<circle cx="165.02" cy="563.69" r="3.5" fill="#6F9AB6"/><circle cx="164.52" cy="563.09" r="1.05" fill="#fff" fill-opacity="0.95"/>
<circle cx="171.66" cy="558.35" r="3.5" fill="#6F9AB6"/><circle cx="171.16" cy="557.75" r="1.05" fill="#fff" fill-opacity="0.95"/>
<circle cx="178.30" cy="561.02" r="3.5" fill="#6F9AB6"/><circle cx="177.80" cy="560.42" r="1.05" fill="#fff" fill-opacity="0.95"/>
<circle cx="184.93" cy="568.76" r="3.5" fill="#6F9AB6"/><circle cx="184.43" cy="568.16" r="1.05" fill="#fff" fill-opacity="0.95"/>
<circle cx="191.57" cy="561.55" r="3.5" fill="#6F9AB6"/><circle cx="191.07" cy="560.95" r="1.05" fill="#fff" fill-opacity="0.95"/>
<circle cx="198.21" cy="549.27" r="3.5" fill="#6F9AB6"/><circle cx="197.71" cy="548.67" r="1.05" fill="#fff" fill-opacity="0.95"/>
<circle cx="204.84" cy="541.53" r="3.5" fill="#6F9AB6"/><circle cx="204.34" cy="540.93" r="1.05" fill="#fff" fill-opacity="0.95"/>
<circle cx="211.48" cy="526.31" r="3.5" fill="#6F9AB6"/><circle cx="210.98" cy="525.71" r="1.05" fill="#fff" fill-opacity="0.95"/>
<circle cx="218.12" cy="515.63" r="3.5" fill="#6F9AB6"/><circle cx="217.62" cy="515.03" r="1.05" fill="#fff" fill-opacity="0.95"/>
<circle cx="224.75" cy="508.95" r="3.5" fill="#6F9AB6"/><circle cx="224.25" cy="508.35" r="1.05" fill="#fff" fill-opacity="0.95"/>
<circle cx="231.39" cy="508.42" r="3.5" fill="#6F9AB6"/><circle cx="230.89" cy="507.82" r="1.05" fill="#fff" fill-opacity="0.95"/>
<circle cx="238.03" cy="508.69" r="3.5" fill="#6F9AB6"/><circle cx="237.53" cy="508.09" r="1.05" fill="#fff" fill-opacity="0.95"/>
<circle cx="244.67" cy="508.95" r="3.5" fill="#6F9AB6"/><circle cx="244.17" cy="508.35" r="1.05" fill="#fff" fill-opacity="0.95"/>
<circle cx="251.30" cy="507.89" r="3.5" fill="#6F9AB6"/><circle cx="250.80" cy="507.29" r="1.05" fill="#fff" fill-opacity="0.95"/>
<circle cx="257.94" cy="501.21" r="3.5" fill="#6F9AB6"/><circle cx="257.44" cy="500.61" r="1.05" fill="#fff" fill-opacity="0.95"/>
<circle cx="264.58" cy="495.87" r="3.5" fill="#6F9AB6"/><circle cx="264.08" cy="495.27" r="1.05" fill="#fff" fill-opacity="0.95"/>
<circle cx="271.21" cy="488.66" r="3.5" fill="#6F9AB6"/><circle cx="270.71" cy="488.06" r="1.05" fill="#fff" fill-opacity="0.95"/>
<circle cx="277.85" cy="486.26" r="3.5" fill="#6F9AB6"/><circle cx="277.35" cy="485.66" r="1.05" fill="#fff" fill-opacity="0.95"/>
<circle cx="284.49" cy="484.92" r="3.5" fill="#6F9AB6"/><circle cx="283.99" cy="484.32" r="1.05" fill="#fff" fill-opacity="0.95"/>
<circle cx="291.12" cy="483.59" r="3.5" fill="#6F9AB6"/><circle cx="290.62" cy="482.99" r="1.05" fill="#fff" fill-opacity="0.95"/>
<circle cx="297.76" cy="483.06" r="3.5" fill="#6F9AB6"/><circle cx="297.26" cy="482.46" r="1.05" fill="#fff" fill-opacity="0.95"/>
<circle cx="304.40" cy="482.25" r="3.5" fill="#6F9AB6"/><circle cx="303.90" cy="481.65" r="1.05" fill="#fff" fill-opacity="0.95"/>
<circle cx="311.04" cy="480.92" r="3.5" fill="#6F9AB6"/><circle cx="310.54" cy="480.32" r="1.05" fill="#fff" fill-opacity="0.95"/>
<circle cx="317.67" cy="480.12" r="3.5" fill="#6F9AB6"/><circle cx="317.17" cy="479.52" r="1.05" fill="#fff" fill-opacity="0.95"/>
<circle cx="324.31" cy="479.58" r="3.5" fill="#6F9AB6"/><circle cx="323.81" cy="478.98" r="1.05" fill="#fff" fill-opacity="0.95"/>
<circle cx="330.95" cy="479.58" r="3.5" fill="#6F9AB6"/><circle cx="330.45" cy="478.98" r="1.05" fill="#fff" fill-opacity="0.95"/>
<circle cx="337.58" cy="479.58" r="3.5" fill="#6F9AB6"/><circle cx="337.08" cy="478.98" r="1.05" fill="#fff" fill-opacity="0.95"/>
<circle cx="344.22" cy="479.58" r="3.5" fill="#6F9AB6"/><circle cx="343.72" cy="478.98" r="1.05" fill="#fff" fill-opacity="0.95"/>
<circle cx="350.86" cy="481.45" r="3.5" fill="#6F9AB6"/><circle cx="350.36" cy="480.85" r="1.05" fill="#fff" fill-opacity="0.95"/>
<circle cx="357.50" cy="481.45" r="3.5" fill="#6F9AB6"/><circle cx="357.00" cy="480.85" r="1.05" fill="#fff" fill-opacity="0.95"/>
<circle cx="364.13" cy="486.26" r="3.5" fill="#6F9AB6"/><circle cx="363.63" cy="485.66" r="1.05" fill="#fff" fill-opacity="0.95"/>
<circle cx="370.77" cy="491.60" r="3.5" fill="#6F9AB6"/><circle cx="370.27" cy="491.00" r="1.05" fill="#fff" fill-opacity="0.95"/>
<circle cx="377.41" cy="496.94" r="3.5" fill="#6F9AB6"/><circle cx="376.91" cy="496.34" r="1.05" fill="#fff" fill-opacity="0.95"/>
<circle cx="384.04" cy="502.28" r="3.5" fill="#6F9AB6"/><circle cx="383.54" cy="501.68" r="1.05" fill="#fff" fill-opacity="0.95"/>
<circle cx="390.68" cy="507.62" r="3.5" fill="#6F9AB6"/><circle cx="390.18" cy="507.02" r="1.05" fill="#fff" fill-opacity="0.95"/>
<circle cx="397.32" cy="513.23" r="3.5" fill="#6F9AB6"/><circle cx="396.82" cy="512.63" r="1.05" fill="#fff" fill-opacity="0.95"/>
<circle cx="403.95" cy="526.31" r="3.5" fill="#6F9AB6"/><circle cx="403.45" cy="525.71" r="1.05" fill="#fff" fill-opacity="0.95"/>
<circle cx="410.59" cy="550.34" r="3.5" fill="#6F9AB6"/><circle cx="410.09" cy="549.74" r="1.05" fill="#fff" fill-opacity="0.95"/>
<circle cx="417.23" cy="579.71" r="3.5" fill="#6F9AB6"/><circle cx="416.73" cy="579.11" r="1.05" fill="#fff" fill-opacity="0.95"/>
<circle cx="423.86" cy="617.09" r="3.5" fill="#6F9AB6"/><circle cx="423.36" cy="616.49" r="1.05" fill="#fff" fill-opacity="0.95"/>
<circle cx="430.50" cy="649.13" r="3.5" fill="#6F9AB6"/><circle cx="430.00" cy="648.53" r="1.05" fill="#fff" fill-opacity="0.95"/>
<circle cx="437.14" cy="673.16" r="3.5" fill="#6F9AB6"/><circle cx="436.64" cy="672.56" r="1.05" fill="#fff" fill-opacity="0.95"/>
<circle cx="443.78" cy="702.53" r="3.5" fill="#6F9AB6"/><circle cx="443.28" cy="701.93" r="1.05" fill="#fff" fill-opacity="0.95"/>
<circle cx="450.41" cy="726.56" r="3.5" fill="#6F9AB6"/><circle cx="449.91" cy="725.96" r="1.05" fill="#fff" fill-opacity="0.95"/>
<circle cx="457.05" cy="731.90" r="3.5" fill="#6F9AB6"/><circle cx="456.55" cy="731.30" r="1.05" fill="#fff" fill-opacity="0.95"/>
<circle cx="463.69" cy="731.90" r="3.5" fill="#6F9AB6"/><circle cx="463.19" cy="731.30" r="1.05" fill="#fff" fill-opacity="0.95"/>
<circle cx="470.32" cy="731.90" r="3.5" fill="#6F9AB6"/><circle cx="469.82" cy="731.30" r="1.05" fill="#fff" fill-opacity="0.95"/>
<circle cx="476.96" cy="731.90" r="3.5" fill="#6F9AB6"/><circle cx="476.46" cy="731.30" r="1.05" fill="#fff" fill-opacity="0.95"/>
<circle cx="483.60" cy="731.90" r="3.5" fill="#6F9AB6"/><circle cx="483.10" cy="731.30" r="1.05" fill="#fff" fill-opacity="0.95"/>
<circle cx="490.23" cy="731.90" r="3.5" fill="#6F9AB6"/><circle cx="489.73" cy="731.30" r="1.05" fill="#fff" fill-opacity="0.95"/>
<polyline points="125.20,731.90 131.84,713.21 138.47,683.84 145.11,662.48 151.75,622.43 158.38,598.40 165.02,579.71 171.66,562.89 178.30,558.08 184.93,564.22 191.57,570.10 198.21,553.28 204.84,535.12 211.48,520.70 218.12,510.82 224.75,506.28 231.39,501.75 238.03,502.81 244.67,504.15 251.30,499.88 257.94,494.80 264.58,485.19 271.21,480.92 277.85,482.52 284.49,481.45 291.12,483.86 297.76,480.39 304.40,476.38 311.04,477.72 317.67,474.78 324.31,474.25 330.95,475.31 337.58,475.31 344.22,475.31 350.86,476.65 357.50,477.18 364.13,481.99 370.77,488.13 377.41,494.00 384.04,499.34 390.68,508.42 397.32,517.23 403.95,527.91 410.59,553.01 417.23,580.51 423.86,624.83 430.50,650.20 437.14,666.49 443.78,700.93 450.41,727.09 457.05,731.90 463.69,731.90 470.32,731.90 476.96,731.90 483.60,731.90 490.23,731.90" fill="none" stroke="#4A66A6" stroke-width="2.8" stroke-linejoin="round" />
<circle cx="125.20" cy="731.90" r="3.5" fill="#4A66A6"/><circle cx="124.70" cy="731.30" r="1.05" fill="#fff" fill-opacity="0.95"/>
<circle cx="131.84" cy="713.21" r="3.5" fill="#4A66A6"/><circle cx="131.34" cy="712.61" r="1.05" fill="#fff" fill-opacity="0.95"/>
<circle cx="138.47" cy="683.84" r="3.5" fill="#4A66A6"/><circle cx="137.97" cy="683.24" r="1.05" fill="#fff" fill-opacity="0.95"/>
<circle cx="145.11" cy="662.48" r="3.5" fill="#4A66A6"/><circle cx="144.61" cy="661.88" r="1.05" fill="#fff" fill-opacity="0.95"/>
<circle cx="151.75" cy="622.43" r="3.5" fill="#4A66A6"/><circle cx="151.25" cy="621.83" r="1.05" fill="#fff" fill-opacity="0.95"/>
<circle cx="158.38" cy="598.40" r="3.5" fill="#4A66A6"/><circle cx="157.88" cy="597.80" r="1.05" fill="#fff" fill-opacity="0.95"/>
<circle cx="165.02" cy="579.71" r="3.5" fill="#4A66A6"/><circle cx="164.52" cy="579.11" r="1.05" fill="#fff" fill-opacity="0.95"/>
<circle cx="171.66" cy="562.89" r="3.5" fill="#4A66A6"/><circle cx="171.16" cy="562.29" r="1.05" fill="#fff" fill-opacity="0.95"/>
<circle cx="178.30" cy="558.08" r="3.5" fill="#4A66A6"/><circle cx="177.80" cy="557.48" r="1.05" fill="#fff" fill-opacity="0.95"/>
<circle cx="184.93" cy="564.22" r="3.5" fill="#4A66A6"/><circle cx="184.43" cy="563.62" r="1.05" fill="#fff" fill-opacity="0.95"/>
<circle cx="191.57" cy="570.10" r="3.5" fill="#4A66A6"/><circle cx="191.07" cy="569.50" r="1.05" fill="#fff" fill-opacity="0.95"/>
<circle cx="198.21" cy="553.28" r="3.5" fill="#4A66A6"/><circle cx="197.71" cy="552.68" r="1.05" fill="#fff" fill-opacity="0.95"/>
<circle cx="204.84" cy="535.12" r="3.5" fill="#4A66A6"/><circle cx="204.34" cy="534.52" r="1.05" fill="#fff" fill-opacity="0.95"/>
<circle cx="211.48" cy="520.70" r="3.5" fill="#4A66A6"/><circle cx="210.98" cy="520.10" r="1.05" fill="#fff" fill-opacity="0.95"/>
<circle cx="218.12" cy="510.82" r="3.5" fill="#4A66A6"/><circle cx="217.62" cy="510.22" r="1.05" fill="#fff" fill-opacity="0.95"/>
<circle cx="224.75" cy="506.28" r="3.5" fill="#4A66A6"/><circle cx="224.25" cy="505.68" r="1.05" fill="#fff" fill-opacity="0.95"/>
<circle cx="231.39" cy="501.75" r="3.5" fill="#4A66A6"/><circle cx="230.89" cy="501.15" r="1.05" fill="#fff" fill-opacity="0.95"/>
<circle cx="238.03" cy="502.81" r="3.5" fill="#4A66A6"/><circle cx="237.53" cy="502.21" r="1.05" fill="#fff" fill-opacity="0.95"/>
<circle cx="244.67" cy="504.15" r="3.5" fill="#4A66A6"/><circle cx="244.17" cy="503.55" r="1.05" fill="#fff" fill-opacity="0.95"/>
<circle cx="251.30" cy="499.88" r="3.5" fill="#4A66A6"/><circle cx="250.80" cy="499.28" r="1.05" fill="#fff" fill-opacity="0.95"/>
<circle cx="257.94" cy="494.80" r="3.5" fill="#4A66A6"/><circle cx="257.44" cy="494.20" r="1.05" fill="#fff" fill-opacity="0.95"/>
<circle cx="264.58" cy="485.19" r="3.5" fill="#4A66A6"/><circle cx="264.08" cy="484.59" r="1.05" fill="#fff" fill-opacity="0.95"/>
<circle cx="271.21" cy="480.92" r="3.5" fill="#4A66A6"/><circle cx="270.71" cy="480.32" r="1.05" fill="#fff" fill-opacity="0.95"/>
<circle cx="277.85" cy="482.52" r="3.5" fill="#4A66A6"/><circle cx="277.35" cy="481.92" r="1.05" fill="#fff" fill-opacity="0.95"/>
<circle cx="284.49" cy="481.45" r="3.5" fill="#4A66A6"/><circle cx="283.99" cy="480.85" r="1.05" fill="#fff" fill-opacity="0.95"/>
<circle cx="291.12" cy="483.86" r="3.5" fill="#4A66A6"/><circle cx="290.62" cy="483.26" r="1.05" fill="#fff" fill-opacity="0.95"/>
<circle cx="297.76" cy="480.39" r="3.5" fill="#4A66A6"/><circle cx="297.26" cy="479.79" r="1.05" fill="#fff" fill-opacity="0.95"/>
<circle cx="304.40" cy="476.38" r="3.5" fill="#4A66A6"/><circle cx="303.90" cy="475.78" r="1.05" fill="#fff" fill-opacity="0.95"/>
<circle cx="311.04" cy="477.72" r="3.5" fill="#4A66A6"/><circle cx="310.54" cy="477.12" r="1.05" fill="#fff" fill-opacity="0.95"/>
<circle cx="317.67" cy="474.78" r="3.5" fill="#4A66A6"/><circle cx="317.17" cy="474.18" r="1.05" fill="#fff" fill-opacity="0.95"/>
<circle cx="324.31" cy="474.25" r="3.5" fill="#4A66A6"/><circle cx="323.81" cy="473.64" r="1.05" fill="#fff" fill-opacity="0.95"/>
<circle cx="330.95" cy="475.31" r="3.5" fill="#4A66A6"/><circle cx="330.45" cy="474.71" r="1.05" fill="#fff" fill-opacity="0.95"/>
<circle cx="337.58" cy="475.31" r="3.5" fill="#4A66A6"/><circle cx="337.08" cy="474.71" r="1.05" fill="#fff" fill-opacity="0.95"/>
<circle cx="344.22" cy="475.31" r="3.5" fill="#4A66A6"/><circle cx="343.72" cy="474.71" r="1.05" fill="#fff" fill-opacity="0.95"/>
<circle cx="350.86" cy="476.65" r="3.5" fill="#4A66A6"/><circle cx="350.36" cy="476.05" r="1.05" fill="#fff" fill-opacity="0.95"/>
<circle cx="357.50" cy="477.18" r="3.5" fill="#4A66A6"/><circle cx="357.00" cy="476.58" r="1.05" fill="#fff" fill-opacity="0.95"/>
<circle cx="364.13" cy="481.99" r="3.5" fill="#4A66A6"/><circle cx="363.63" cy="481.39" r="1.05" fill="#fff" fill-opacity="0.95"/>
<circle cx="370.77" cy="488.13" r="3.5" fill="#4A66A6"/><circle cx="370.27" cy="487.53" r="1.05" fill="#fff" fill-opacity="0.95"/>
<circle cx="377.41" cy="494.00" r="3.5" fill="#4A66A6"/><circle cx="376.91" cy="493.40" r="1.05" fill="#fff" fill-opacity="0.95"/>
<circle cx="384.04" cy="499.34" r="3.5" fill="#4A66A6"/><circle cx="383.54" cy="498.74" r="1.05" fill="#fff" fill-opacity="0.95"/>
<circle cx="390.68" cy="508.42" r="3.5" fill="#4A66A6"/><circle cx="390.18" cy="507.82" r="1.05" fill="#fff" fill-opacity="0.95"/>
<circle cx="397.32" cy="517.23" r="3.5" fill="#4A66A6"/><circle cx="396.82" cy="516.63" r="1.05" fill="#fff" fill-opacity="0.95"/>
<circle cx="403.95" cy="527.91" r="3.5" fill="#4A66A6"/><circle cx="403.45" cy="527.31" r="1.05" fill="#fff" fill-opacity="0.95"/>
<circle cx="410.59" cy="553.01" r="3.5" fill="#4A66A6"/><circle cx="410.09" cy="552.41" r="1.05" fill="#fff" fill-opacity="0.95"/>
<circle cx="417.23" cy="580.51" r="3.5" fill="#4A66A6"/><circle cx="416.73" cy="579.91" r="1.05" fill="#fff" fill-opacity="0.95"/>
<circle cx="423.86" cy="624.83" r="3.5" fill="#4A66A6"/><circle cx="423.36" cy="624.23" r="1.05" fill="#fff" fill-opacity="0.95"/>
<circle cx="430.50" cy="650.20" r="3.5" fill="#4A66A6"/><circle cx="430.00" cy="649.60" r="1.05" fill="#fff" fill-opacity="0.95"/>
<circle cx="437.14" cy="666.49" r="3.5" fill="#4A66A6"/><circle cx="436.64" cy="665.88" r="1.05" fill="#fff" fill-opacity="0.95"/>
<circle cx="443.78" cy="700.93" r="3.5" fill="#4A66A6"/><circle cx="443.28" cy="700.33" r="1.05" fill="#fff" fill-opacity="0.95"/>
<circle cx="450.41" cy="727.09" r="3.5" fill="#4A66A6"/><circle cx="449.91" cy="726.49" r="1.05" fill="#fff" fill-opacity="0.95"/>
<circle cx="457.05" cy="731.90" r="3.5" fill="#4A66A6"/><circle cx="456.55" cy="731.30" r="1.05" fill="#fff" fill-opacity="0.95"/>
<circle cx="463.69" cy="731.90" r="3.5" fill="#4A66A6"/><circle cx="463.19" cy="731.30" r="1.05" fill="#fff" fill-opacity="0.95"/>
<circle cx="470.32" cy="731.90" r="3.5" fill="#4A66A6"/><circle cx="469.82" cy="731.30" r="1.05" fill="#fff" fill-opacity="0.95"/>
<circle cx="476.96" cy="731.90" r="3.5" fill="#4A66A6"/><circle cx="476.46" cy="731.30" r="1.05" fill="#fff" fill-opacity="0.95"/>
<circle cx="483.60" cy="731.90" r="3.5" fill="#4A66A6"/><circle cx="483.10" cy="731.30" r="1.05" fill="#fff" fill-opacity="0.95"/>
<circle cx="490.23" cy="731.90" r="3.5" fill="#4A66A6"/><circle cx="489.73" cy="731.30" r="1.05" fill="#fff" fill-opacity="0.95"/>
</g>
<rect x="125.50" y="438.60" width="398.10" height="320.90" fill="none" stroke="#000" stroke-width="2.4"/>
<line x1="125.20" y1="759.50" x2="125.20" y2="765.50" stroke="#000" stroke-width="2.4" />
<line x1="158.38" y1="759.50" x2="158.38" y2="763.00" stroke="#000" stroke-width="2.4" />
<line x1="191.57" y1="759.50" x2="191.57" y2="765.50" stroke="#000" stroke-width="2.4" />
<line x1="224.75" y1="759.50" x2="224.75" y2="763.00" stroke="#000" stroke-width="2.4" />
<line x1="257.94" y1="759.50" x2="257.94" y2="765.50" stroke="#000" stroke-width="2.4" />
<line x1="291.12" y1="759.50" x2="291.12" y2="763.00" stroke="#000" stroke-width="2.4" />
<line x1="324.31" y1="759.50" x2="324.31" y2="765.50" stroke="#000" stroke-width="2.4" />
<line x1="357.50" y1="759.50" x2="357.50" y2="763.00" stroke="#000" stroke-width="2.4" />
<line x1="390.68" y1="759.50" x2="390.68" y2="765.50" stroke="#000" stroke-width="2.4" />
<line x1="423.86" y1="759.50" x2="423.86" y2="763.00" stroke="#000" stroke-width="2.4" />
<line x1="457.05" y1="759.50" x2="457.05" y2="765.50" stroke="#000" stroke-width="2.4" />
<line x1="490.23" y1="759.50" x2="490.23" y2="763.00" stroke="#000" stroke-width="2.4" />
<line x1="523.42" y1="759.50" x2="523.42" y2="765.50" stroke="#000" stroke-width="2.4" />
<text transform="translate(125.20,792.80) scale(1,1.075)" font-size="27.3" text-anchor="middle" fill="#000" >300</text>
<text transform="translate(191.57,792.80) scale(1,1.075)" font-size="27.3" text-anchor="middle" fill="#000" >400</text>
<text transform="translate(257.94,792.80) scale(1,1.075)" font-size="27.3" text-anchor="middle" fill="#000" >500</text>
<text transform="translate(324.31,792.80) scale(1,1.075)" font-size="27.3" text-anchor="middle" fill="#000" >600</text>
<text transform="translate(390.68,792.80) scale(1,1.075)" font-size="27.3" text-anchor="middle" fill="#000" >700</text>
<text transform="translate(457.05,792.80) scale(1,1.075)" font-size="27.3" text-anchor="middle" fill="#000" >800</text>
<text transform="translate(523.42,792.80) scale(1,1.075)" font-size="27.3" text-anchor="middle" fill="#000" >900</text>
<line x1="125.50" y1="758.60" x2="122.00" y2="758.60" stroke="#000" stroke-width="2.4" />
<line x1="125.50" y1="731.90" x2="119.50" y2="731.90" stroke="#000" stroke-width="2.4" />
<line x1="125.50" y1="705.20" x2="122.00" y2="705.20" stroke="#000" stroke-width="2.4" />
<line x1="125.50" y1="678.50" x2="119.50" y2="678.50" stroke="#000" stroke-width="2.4" />
<line x1="125.50" y1="651.80" x2="122.00" y2="651.80" stroke="#000" stroke-width="2.4" />
<line x1="125.50" y1="625.10" x2="119.50" y2="625.10" stroke="#000" stroke-width="2.4" />
<line x1="125.50" y1="598.40" x2="122.00" y2="598.40" stroke="#000" stroke-width="2.4" />
<line x1="125.50" y1="571.70" x2="119.50" y2="571.70" stroke="#000" stroke-width="2.4" />
<line x1="125.50" y1="545.00" x2="122.00" y2="545.00" stroke="#000" stroke-width="2.4" />
<line x1="125.50" y1="518.30" x2="119.50" y2="518.30" stroke="#000" stroke-width="2.4" />
<line x1="125.50" y1="491.60" x2="122.00" y2="491.60" stroke="#000" stroke-width="2.4" />
<line x1="125.50" y1="464.90" x2="119.50" y2="464.90" stroke="#000" stroke-width="2.4" />
<line x1="125.50" y1="438.20" x2="122.00" y2="438.20" stroke="#000" stroke-width="2.4" />
<text transform="translate(114.80,741.30) scale(1,1.075)" font-size="27.3" text-anchor="end" fill="#000" >0</text>
<text transform="translate(114.80,687.90) scale(1,1.075)" font-size="27.3" text-anchor="end" fill="#000" >20</text>
<text transform="translate(114.80,634.50) scale(1,1.075)" font-size="27.3" text-anchor="end" fill="#000" >40</text>
<text transform="translate(114.80,581.10) scale(1,1.075)" font-size="27.3" text-anchor="end" fill="#000" >60</text>
<text transform="translate(114.80,527.70) scale(1,1.075)" font-size="27.3" text-anchor="end" fill="#000" >80</text>
<text transform="translate(114.80,474.30) scale(1,1.075)" font-size="27.3" text-anchor="end" fill="#000" ><tspan font-family="NanumGothic" font-weight="800" font-size="25.03">1</tspan>00</text>
<line x1="249.30" y1="581.50" x2="294.10" y2="581.50" stroke="#F45E5B" stroke-width="3.0" stroke-linecap="round"/>
<circle cx="271.7" cy="581.50" r="3.5" fill="#F45E5B"/><circle cx="271.2" cy="580.90" r="1.05" fill="#fff"/>
<text transform="translate(300.00,588.30) scale(1,1.0)" font-size="20" text-anchor="start" fill="#000" >V<tspan font-size="12.6" dy="4.7">GS</tspan><tspan dy="-4.7"> = 0 V</tspan></text>
<line x1="249.30" y1="610.84" x2="294.10" y2="610.84" stroke="#E10000" stroke-width="3.0" stroke-linecap="round"/>
<circle cx="271.7" cy="610.84" r="3.5" fill="#E10000"/><circle cx="271.2" cy="610.24" r="1.05" fill="#fff"/>
<text transform="translate(300.00,617.64) scale(1,1.0)" font-size="20" text-anchor="start" fill="#000" >V<tspan font-size="12.6" dy="4.7">GS</tspan><tspan dy="-4.7"> = 0.<tspan font-family="NanumGothic" font-weight="800" font-size="18.34">1</tspan> V</tspan></text>
<line x1="249.30" y1="640.18" x2="294.10" y2="640.18" stroke="#D6B0B0" stroke-width="3.0" stroke-linecap="round"/>
<circle cx="271.7" cy="640.18" r="3.5" fill="#D6B0B0"/><circle cx="271.2" cy="639.58" r="1.05" fill="#fff"/>
<text transform="translate(300.00,646.98) scale(1,1.0)" font-size="20" text-anchor="start" fill="#000" >V<tspan font-size="12.6" dy="4.7">GS</tspan><tspan dy="-4.7"> = 0.3 V</tspan></text>
<line x1="249.30" y1="669.52" x2="294.10" y2="669.52" stroke="#7CC0D0" stroke-width="3.0" stroke-linecap="round"/>
<circle cx="271.7" cy="669.52" r="3.5" fill="#7CC0D0"/><circle cx="271.2" cy="668.92" r="1.05" fill="#fff"/>
<text transform="translate(300.00,676.32) scale(1,1.0)" font-size="20" text-anchor="start" fill="#000" >V<tspan font-size="12.6" dy="4.7">GS</tspan><tspan dy="-4.7"> = 0.5 V</tspan></text>
<line x1="249.30" y1="698.86" x2="294.10" y2="698.86" stroke="#6F9AB6" stroke-width="3.0" stroke-linecap="round"/>
<circle cx="271.7" cy="698.86" r="3.5" fill="#6F9AB6"/><circle cx="271.2" cy="698.26" r="1.05" fill="#fff"/>
<text transform="translate(300.00,705.66) scale(1,1.0)" font-size="20" text-anchor="start" fill="#000" >V<tspan font-size="12.6" dy="4.7">GS</tspan><tspan dy="-4.7"> = 0.7 V</tspan></text>
<line x1="249.30" y1="728.20" x2="294.10" y2="728.20" stroke="#4A66A6" stroke-width="3.0" stroke-linecap="round"/>
<circle cx="271.7" cy="728.20" r="3.5" fill="#4A66A6"/><circle cx="271.2" cy="727.60" r="1.05" fill="#fff"/>
<text transform="translate(300.00,735.00) scale(1,1.0)" font-size="20" text-anchor="start" fill="#000" >V<tspan font-size="12.6" dy="4.7">GS</tspan><tspan dy="-4.7"> = 0.9 V</tspan></text>
<text transform="translate(207.90,830.70) scale(1,1.075)" font-size="30.35" text-anchor="start" fill="#000" >Wavelength(nm)</text>
<text transform="translate(66.30,662.00) rotate(-90) scale(1.0,1.0)" font-size="30" text-anchor="start" fill="#000" >IPCE (%)</text>
<text transform="translate(-0.90,421.70) scale(1,1.0)" font-size="49.5" text-anchor="start" fill="#000" >d</text>
<defs><clipPath id="ce"><rect x="649.5" y="438.3" width="413.1" height="323.7"/></clipPath></defs>
<g clip-path="url(#ce)">
<line x1="679.00" y1="761.50" x2="1034.60" y2="583.50" stroke="#EE0000" stroke-width="8.4" />
<line x1="674.50" y1="761.50" x2="1034.00" y2="528.00" stroke="#2F64A0" stroke-width="8.4" />
<line x1="680.00" y1="763.50" x2="1034.00" y2="478.00" stroke="#FFC20E" stroke-width="8.4" />
<line x1="675.00" y1="762.00" x2="1035.00" y2="464.00" stroke="#6A66A3" stroke-width="8.4" />
<rect x="1030.3" y="579.8" width="7.6" height="7.6" fill="#EE0000"/>
<circle cx="1034.0" cy="528.0" r="4.4" fill="#2F64A0"/>
<polygon points="1028.8,481.5 1039.2,481.5 1034.0,472.5" fill="#FFC20E"/>
<polygon points="1029.5,460.0 1040.5,460.0 1035.0,469.5" fill="#6A66A3"/>
</g>
<rect x="649.50" y="438.30" width="413.10" height="323.20" fill="none" stroke="#000" stroke-width="2.4"/>
<line x1="679.00" y1="761.50" x2="679.00" y2="767.50" stroke="#000" stroke-width="2.4" />
<line x1="723.21" y1="761.50" x2="723.21" y2="765.00" stroke="#000" stroke-width="2.4" />
<line x1="767.42" y1="761.50" x2="767.42" y2="767.50" stroke="#000" stroke-width="2.4" />
<line x1="811.64" y1="761.50" x2="811.64" y2="765.00" stroke="#000" stroke-width="2.4" />
<line x1="855.85" y1="761.50" x2="855.85" y2="767.50" stroke="#000" stroke-width="2.4" />
<line x1="900.06" y1="761.50" x2="900.06" y2="765.00" stroke="#000" stroke-width="2.4" />
<line x1="944.28" y1="761.50" x2="944.28" y2="767.50" stroke="#000" stroke-width="2.4" />
<line x1="988.49" y1="761.50" x2="988.49" y2="765.00" stroke="#000" stroke-width="2.4" />
<line x1="1032.70" y1="761.50" x2="1032.70" y2="767.50" stroke="#000" stroke-width="2.4" />
<text transform="translate(679.00,793.90) scale(1,1.08)" font-size="27.7" text-anchor="middle" fill="#000" >0.00</text>
<text transform="translate(767.42,793.90) scale(1,1.08)" font-size="27.7" text-anchor="middle" fill="#000" >0.75</text>
<text transform="translate(855.85,793.90) scale(1,1.08)" font-size="27.7" text-anchor="middle" fill="#000" ><tspan font-family="NanumGothic" font-weight="800" font-size="25.40">1</tspan>.50</text>
<text transform="translate(944.28,793.90) scale(1,1.08)" font-size="27.7" text-anchor="middle" fill="#000" >2.25</text>
<text transform="translate(1032.70,793.90) scale(1,1.08)" font-size="27.7" text-anchor="middle" fill="#000" >3.00</text>
<line x1="649.50" y1="761.50" x2="643.50" y2="761.50" stroke="#000" stroke-width="2.4" />
<line x1="649.50" y1="723.45" x2="646.00" y2="723.45" stroke="#000" stroke-width="2.4" />
<line x1="649.50" y1="685.40" x2="643.50" y2="685.40" stroke="#000" stroke-width="2.4" />
<line x1="649.50" y1="647.35" x2="646.00" y2="647.35" stroke="#000" stroke-width="2.4" />
<line x1="649.50" y1="609.30" x2="643.50" y2="609.30" stroke="#000" stroke-width="2.4" />
<line x1="649.50" y1="571.25" x2="646.00" y2="571.25" stroke="#000" stroke-width="2.4" />
<line x1="649.50" y1="533.20" x2="643.50" y2="533.20" stroke="#000" stroke-width="2.4" />
<line x1="649.50" y1="495.15" x2="646.00" y2="495.15" stroke="#000" stroke-width="2.4" />
<line x1="649.50" y1="457.10" x2="643.50" y2="457.10" stroke="#000" stroke-width="2.4" />
<text transform="translate(638.00,770.50) scale(1,1.08)" font-size="27.7" text-anchor="end" fill="#000" >0</text>
<text transform="translate(638.00,694.40) scale(1,1.08)" font-size="27.7" text-anchor="end" fill="#000" >40</text>
<text transform="translate(638.00,618.30) scale(1,1.08)" font-size="27.7" text-anchor="end" fill="#000" >80</text>
<text transform="translate(638.00,542.20) scale(1,1.08)" font-size="27.7" text-anchor="end" fill="#000" ><tspan font-family="NanumGothic" font-weight="800" font-size="25.40">1</tspan>20</text>
<text transform="translate(638.00,466.10) scale(1,1.08)" font-size="27.7" text-anchor="end" fill="#000" ><tspan font-family="NanumGothic" font-weight="800" font-size="25.40">1</tspan>60</text>
<line x1="697.00" y1="465.80" x2="747.00" y2="465.80" stroke="#EE0000" stroke-width="3.1" stroke-linecap="round"/>
<text transform="translate(759.30,473.60) scale(1,1.02)" font-size="22.5" text-anchor="start" fill="#000" >V</text>
<text transform="translate(774.10,479.30) scale(1,1.02)" font-size="15" text-anchor="start" fill="#000" >GS</text>
<text transform="translate(801.30,473.60) scale(1,1.0)" font-size="22.9" text-anchor="start" fill="#000" >=</text>
<text transform="translate(827.20,475.80) scale(1,1.03)" font-size="25.0" text-anchor="start" fill="#000" >0 V</text>
<line x1="697.00" y1="497.50" x2="747.00" y2="497.50" stroke="#2F64A0" stroke-width="3.1" stroke-linecap="round"/>
<text transform="translate(759.30,505.30) scale(1,1.02)" font-size="22.5" text-anchor="start" fill="#000" >V</text>
<text transform="translate(774.10,511.00) scale(1,1.02)" font-size="15" text-anchor="start" fill="#000" >GS</text>
<text transform="translate(801.30,505.30) scale(1,1.0)" font-size="22.9" text-anchor="start" fill="#000" >=</text>
<text transform="translate(827.20,507.50) scale(1,1.03)" font-size="25.0" text-anchor="start" fill="#000" >0.3 V</text>
<line x1="697.00" y1="529.20" x2="747.00" y2="529.20" stroke="#FFC20E" stroke-width="3.1" stroke-linecap="round"/>
<text transform="translate(759.30,537.00) scale(1,1.02)" font-size="22.5" text-anchor="start" fill="#000" >V</text>
<text transform="translate(774.10,542.70) scale(1,1.02)" font-size="15" text-anchor="start" fill="#000" >GS</text>
<text transform="translate(801.30,537.00) scale(1,1.0)" font-size="22.9" text-anchor="start" fill="#000" >=</text>
<text transform="translate(827.20,539.20) scale(1,1.03)" font-size="25.0" text-anchor="start" fill="#000" >0.6 V</text>
<line x1="697.00" y1="560.90" x2="747.00" y2="560.90" stroke="#6A66A3" stroke-width="3.1" stroke-linecap="round"/>
<text transform="translate(759.30,568.70) scale(1,1.02)" font-size="22.5" text-anchor="start" fill="#000" >V</text>
<text transform="translate(774.10,574.40) scale(1,1.02)" font-size="15" text-anchor="start" fill="#000" >GS</text>
<text transform="translate(801.30,568.70) scale(1,1.0)" font-size="22.9" text-anchor="start" fill="#000" >=</text>
<text transform="translate(827.20,570.90) scale(1,1.03)" font-size="25.0" text-anchor="start" fill="#000" >0.9 V</text>
<rect x="718.1999999999999" y="462.2" width="7.2" height="7.2" fill="#EE0000"/>
<circle cx="721.8" cy="497.3" r="4.2" fill="#2F64A0"/>
<polygon points="717.3,532.1 726.3,532.1 721.8,524.1" fill="#FFC20E"/>
<polygon points="717.3,557.9 726.3,557.9 721.8,565.9" fill="#6A66A3"/>
<text transform="translate(778.50,826.10) scale(1,1.08)" font-size="31.7" text-anchor="start" fill="#000" >Voltage(V)</text>
<text transform="translate(581.00,703.30) rotate(-90) scale(1.0,1.04)" font-size="30.6" text-anchor="start" fill="#000" >J<tspan font-size="20.5" dy="-12.3">1/2</tspan><tspan dy="12.3"> (mA</tspan><tspan font-size="20.5" dy="-12.3">1/2</tspan><tspan dy="12.3">/cm)</tspan></text>
<text transform="translate(549.30,417.90) scale(1,1.0)" font-size="49.5" text-anchor="start" fill="#000" >e</text>
<defs><clipPath id="cf"><rect x="1254.6" y="441.5" width="416.7" height="325.6"/></clipPath></defs>
<g clip-path="url(#cf)">
<line x1="1287.00" y1="768.50" x2="1641.40" y2="570.50" stroke="#EE0000" stroke-width="8.4" />
<line x1="1284.00" y1="768.00" x2="1641.40" y2="506.50" stroke="#FFC20E" stroke-width="8.4" />
<line x1="1281.00" y1="768.00" x2="1641.50" y2="489.00" stroke="#6A66A3" stroke-width="8.4" />
<line x1="1284.00" y1="768.00" x2="1641.50" y2="547.90" stroke="#2F64A0" stroke-width="8.4" />
<rect x="1637.6" y="566.7" width="7.6" height="7.6" fill="#EE0000"/>
<rect x="1637.7" y="544.1" width="7.6" height="7.6" fill="#2F64A0"/>
<circle cx="1641.4" cy="506.5" r="4.4" fill="#FFC20E"/>
<polygon points="1636.2,492.5 1646.6,492.5 1641.4,483.5" fill="#6A66A3"/>
</g>
<rect x="1254.60" y="441.50" width="416.70" height="325.10" fill="none" stroke="#000" stroke-width="2.4"/>
<line x1="1283.80" y1="766.60" x2="1283.80" y2="772.60" stroke="#000" stroke-width="2.4" />
<line x1="1328.54" y1="766.60" x2="1328.54" y2="770.10" stroke="#000" stroke-width="2.4" />
<line x1="1373.27" y1="766.60" x2="1373.27" y2="772.60" stroke="#000" stroke-width="2.4" />
<line x1="1418.01" y1="766.60" x2="1418.01" y2="770.10" stroke="#000" stroke-width="2.4" />
<line x1="1462.75" y1="766.60" x2="1462.75" y2="772.60" stroke="#000" stroke-width="2.4" />
<line x1="1507.49" y1="766.60" x2="1507.49" y2="770.10" stroke="#000" stroke-width="2.4" />
<line x1="1552.22" y1="766.60" x2="1552.22" y2="772.60" stroke="#000" stroke-width="2.4" />
<line x1="1596.96" y1="766.60" x2="1596.96" y2="770.10" stroke="#000" stroke-width="2.4" />
<line x1="1641.70" y1="766.60" x2="1641.70" y2="772.60" stroke="#000" stroke-width="2.4" />
<text transform="translate(1283.80,797.80) scale(1,1.05)" font-size="28.6" text-anchor="middle" fill="#000" >0.00</text>
<text transform="translate(1373.27,797.80) scale(1,1.05)" font-size="28.6" text-anchor="middle" fill="#000" >0.75</text>
<text transform="translate(1462.75,797.80) scale(1,1.05)" font-size="28.6" text-anchor="middle" fill="#000" ><tspan font-family="NanumGothic" font-weight="800" font-size="26.23">1</tspan>.50</text>
<text transform="translate(1552.22,797.80) scale(1,1.05)" font-size="28.6" text-anchor="middle" fill="#000" >2.25</text>
<text transform="translate(1641.70,797.80) scale(1,1.05)" font-size="28.6" text-anchor="middle" fill="#000" >3.00</text>
<line x1="1254.60" y1="766.60" x2="1248.60" y2="766.60" stroke="#000" stroke-width="2.4" />
<line x1="1254.60" y1="730.53" x2="1251.10" y2="730.53" stroke="#000" stroke-width="2.4" />
<line x1="1254.60" y1="694.45" x2="1248.60" y2="694.45" stroke="#000" stroke-width="2.4" />
<line x1="1254.60" y1="658.38" x2="1251.10" y2="658.38" stroke="#000" stroke-width="2.4" />
<line x1="1254.60" y1="622.30" x2="1248.60" y2="622.30" stroke="#000" stroke-width="2.4" />
<line x1="1254.60" y1="586.23" x2="1251.10" y2="586.23" stroke="#000" stroke-width="2.4" />
<line x1="1254.60" y1="550.16" x2="1248.60" y2="550.16" stroke="#000" stroke-width="2.4" />
<line x1="1254.60" y1="514.08" x2="1251.10" y2="514.08" stroke="#000" stroke-width="2.4" />
<line x1="1254.60" y1="478.01" x2="1248.60" y2="478.01" stroke="#000" stroke-width="2.4" />
<line x1="1254.60" y1="441.93" x2="1251.10" y2="441.93" stroke="#000" stroke-width="2.4" />
<text transform="translate(1243.90,775.20) scale(1,1.05)" font-size="28.6" text-anchor="end" fill="#000" >0</text>
<text transform="translate(1243.90,703.05) scale(1,1.05)" font-size="28.6" text-anchor="end" fill="#000" >40</text>
<text transform="translate(1243.90,630.90) scale(1,1.05)" font-size="28.6" text-anchor="end" fill="#000" >80</text>
<text transform="translate(1243.90,558.76) scale(1,1.05)" font-size="28.6" text-anchor="end" fill="#000" ><tspan font-family="NanumGothic" font-weight="800" font-size="26.23">1</tspan>20</text>
<text transform="translate(1243.90,486.61) scale(1,1.05)" font-size="28.6" text-anchor="end" fill="#000" ><tspan font-family="NanumGothic" font-weight="800" font-size="26.23">1</tspan>60</text>
<line x1="1280.80" y1="462.40" x2="1331.00" y2="462.40" stroke="#EE0000" stroke-width="3.1" stroke-linecap="round"/>
<text transform="translate(1337.80,470.10) scale(1,1.0)" font-size="22.5" text-anchor="start" fill="#000" >V</text>
<text transform="translate(1352.20,475.80) scale(1,1.0)" font-size="15" text-anchor="start" fill="#000" >GS</text>
<text transform="translate(1379.80,470.10) scale(1,1.0)" font-size="22.9" text-anchor="start" fill="#000" >=</text>
<text transform="translate(1404.30,473.30) scale(1,1.03)" font-size="25.0" text-anchor="start" fill="#000" >0 V</text>
<line x1="1280.80" y1="494.23" x2="1331.00" y2="494.23" stroke="#2F64A0" stroke-width="3.1" stroke-linecap="round"/>
<text transform="translate(1337.80,501.93) scale(1,1.0)" font-size="22.5" text-anchor="start" fill="#000" >V</text>
<text transform="translate(1352.20,507.63) scale(1,1.0)" font-size="15" text-anchor="start" fill="#000" >GS</text>
<text transform="translate(1379.80,501.93) scale(1,1.0)" font-size="22.9" text-anchor="start" fill="#000" >=</text>
<text transform="translate(1404.30,505.13) scale(1,1.03)" font-size="25.0" text-anchor="start" fill="#000" >0.3 V</text>
<line x1="1280.80" y1="526.06" x2="1331.00" y2="526.06" stroke="#FFC20E" stroke-width="3.1" stroke-linecap="round"/>
<text transform="translate(1337.80,533.76) scale(1,1.0)" font-size="22.5" text-anchor="start" fill="#000" >V</text>
<text transform="translate(1352.20,539.46) scale(1,1.0)" font-size="15" text-anchor="start" fill="#000" >GS</text>
<text transform="translate(1379.80,533.76) scale(1,1.0)" font-size="22.9" text-anchor="start" fill="#000" >=</text>
<text transform="translate(1404.30,536.96) scale(1,1.03)" font-size="25.0" text-anchor="start" fill="#000" >0.6 V</text>
<line x1="1280.80" y1="557.89" x2="1331.00" y2="557.89" stroke="#6A66A3" stroke-width="3.1" stroke-linecap="round"/>
<text transform="translate(1337.80,565.59) scale(1,1.0)" font-size="22.5" text-anchor="start" fill="#000" >V</text>
<text transform="translate(1352.20,571.29) scale(1,1.0)" font-size="15" text-anchor="start" fill="#000" >GS</text>
<text transform="translate(1379.80,565.59) scale(1,1.0)" font-size="22.9" text-anchor="start" fill="#000" >=</text>
<text transform="translate(1404.30,568.79) scale(1,1.03)" font-size="25.0" text-anchor="start" fill="#000" >0.9 V</text>
<rect x="1302.4" y="458.79999999999995" width="7.2" height="7.2" fill="#EE0000"/>
<rect x="1302.4" y="490.7" width="7.2" height="7.2" fill="#2F64A0"/>
<circle cx="1306.0" cy="526.0" r="4.4" fill="#FFC20E"/>
<polygon points="1301.5,560.9 1310.5,560.9 1306.0,552.9" fill="#6A66A3"/>
<text transform="translate(1387.10,830.10) scale(1,1.05)" font-size="31.6" text-anchor="start" fill="#000" >Voltage(V)</text>
<text transform="translate(1188.30,716.50) rotate(-90) scale(1.098,1.03)" font-size="28.5" text-anchor="start" fill="#000" >J<tspan font-size="19" dy="-10.3">1/2</tspan><tspan dy="10.3"> (mA</tspan><tspan font-size="19" dy="-10.3">1/2</tspan><tspan dy="10.3"> / cm)</tspan></text>
<text transform="translate(1162.40,422.20) scale(1,1.0)" font-size="49.5" text-anchor="start" fill="#000" >f</text>
</svg>
</body></html>
